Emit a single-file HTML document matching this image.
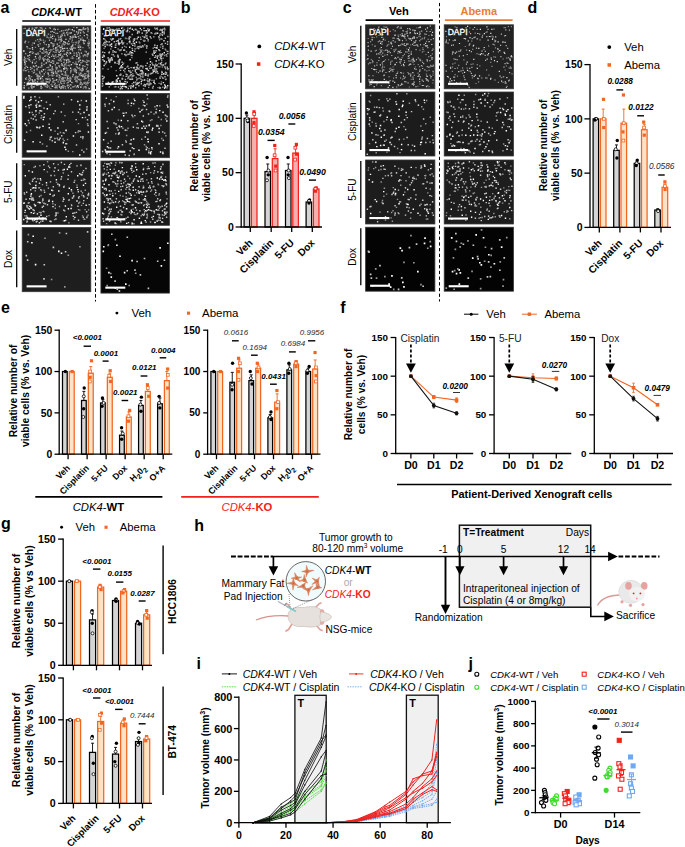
<!DOCTYPE html>
<html><head><meta charset="utf-8"><style>
html,body{margin:0;padding:0;background:#fff;width:685px;height:847px;overflow:hidden}
svg{display:block}
text{font-family:"Liberation Sans", sans-serif}
</style></head><body>
<svg width="685" height="847" viewBox="0 0 685 847" font-family="Liberation Sans, sans-serif">
<rect width="685" height="847" fill="#fff"/>
<text x="0.40" y="12.90" font-size="16" font-weight="bold" font-style="normal" text-anchor="start" fill="#000">a</text>
<text x="56.5" y="15.8" font-size="11" text-anchor="middle" font-weight="bold"><tspan font-weight="bold" font-style="italic">CDK4</tspan>-WT</text>
<text x="134.7" y="15.8" font-size="11" text-anchor="middle" font-weight="bold" fill="#f2211b"><tspan font-weight="bold" font-style="italic">CDK4</tspan>-KO</text>
<line x1="22.30" y1="21.00" x2="90.80" y2="21.00" stroke="#000" stroke-width="1.6"/>
<line x1="100.80" y1="21.00" x2="170.00" y2="21.00" stroke="#f2211b" stroke-width="1.6"/>
<line x1="95.50" y1="4.10" x2="95.50" y2="301.50" stroke="#000" stroke-width="1.0" stroke-dasharray="3.6,2.2"/>
<line x1="16.70" y1="28.90" x2="16.70" y2="85.70" stroke="#000" stroke-width="1.3"/>
<text x="11.90" y="57.30" font-size="10.2" font-weight="normal" font-style="normal" text-anchor="middle" fill="#000" transform="rotate(-90 11.9 57.3)">Veh</text>
<line x1="16.70" y1="96.00" x2="16.70" y2="152.80" stroke="#000" stroke-width="1.3"/>
<text x="11.90" y="124.40" font-size="10.2" font-weight="normal" font-style="normal" text-anchor="middle" fill="#000" transform="rotate(-90 11.9 124.4)">Cisplatin</text>
<line x1="16.70" y1="163.20" x2="16.70" y2="220.00" stroke="#000" stroke-width="1.3"/>
<text x="11.90" y="191.60" font-size="10.2" font-weight="normal" font-style="normal" text-anchor="middle" fill="#000" transform="rotate(-90 11.9 191.6)">5-FU</text>
<line x1="16.70" y1="230.50" x2="16.70" y2="287.30" stroke="#000" stroke-width="1.3"/>
<text x="11.90" y="258.90" font-size="10.2" font-weight="normal" font-style="normal" text-anchor="middle" fill="#000" transform="rotate(-90 11.9 258.9)">Dox</text>
<defs><filter id="soft" x="0" y="0" width="100%" height="100%"><feGaussianBlur stdDeviation="0.35"/></filter></defs>
<rect x="22.20" y="25.90" width="68.60" height="64.20" fill="#262626" stroke="#3a3a3a" stroke-width="0.8"/>
<g filter="url(#soft)">
<path d="M58.6 84.3h1.3v1.3h-1.3zM53.2 44.5h1.3v1.3h-1.3zM78.0 60.8h1.3v1.3h-1.3zM48.8 56.7h1.3v1.3h-1.3zM60.4 39.0h1.3v1.3h-1.3zM39.8 78.3h1.3v1.3h-1.3zM28.5 27.7h1.3v1.3h-1.3zM64.0 47.8h1.3v1.3h-1.3zM24.4 27.8h1.3v1.3h-1.3zM37.7 66.5h1.3v1.3h-1.3zM43.4 84.3h1.3v1.3h-1.3zM80.0 86.4h1.3v1.3h-1.3zM74.4 47.5h1.3v1.3h-1.3zM67.3 78.1h1.3v1.3h-1.3zM82.9 39.8h1.3v1.3h-1.3zM74.8 77.5h1.3v1.3h-1.3zM60.5 40.4h1.3v1.3h-1.3zM81.1 29.2h1.3v1.3h-1.3zM87.6 44.8h1.3v1.3h-1.3zM43.2 41.8h1.3v1.3h-1.3zM61.0 63.2h1.3v1.3h-1.3zM82.3 76.0h1.3v1.3h-1.3zM70.0 67.6h1.3v1.3h-1.3zM50.4 61.7h1.3v1.3h-1.3zM40.0 77.5h1.3v1.3h-1.3zM49.4 64.2h1.3v1.3h-1.3zM65.6 53.6h1.3v1.3h-1.3zM87.5 76.2h1.3v1.3h-1.3zM35.5 53.6h1.3v1.3h-1.3zM79.2 73.8h1.3v1.3h-1.3zM48.2 44.1h1.3v1.3h-1.3zM62.3 80.7h1.3v1.3h-1.3zM63.7 59.2h1.3v1.3h-1.3zM23.2 50.6h1.3v1.3h-1.3zM49.6 79.5h1.3v1.3h-1.3zM71.2 81.7h1.3v1.3h-1.3zM55.4 72.4h1.3v1.3h-1.3zM76.6 63.8h1.3v1.3h-1.3zM35.5 65.1h1.3v1.3h-1.3zM70.8 63.9h1.3v1.3h-1.3zM70.0 48.8h1.3v1.3h-1.3zM76.5 85.8h1.3v1.3h-1.3zM45.5 78.1h1.3v1.3h-1.3zM55.5 49.9h1.3v1.3h-1.3zM30.7 32.3h1.3v1.3h-1.3zM64.9 72.3h1.3v1.3h-1.3zM61.8 48.1h1.3v1.3h-1.3zM59.8 58.7h1.3v1.3h-1.3zM46.2 52.0h1.3v1.3h-1.3zM69.5 80.8h1.3v1.3h-1.3zM75.2 76.2h1.3v1.3h-1.3zM59.6 46.9h1.3v1.3h-1.3zM87.9 70.8h1.3v1.3h-1.3zM47.3 58.6h1.3v1.3h-1.3zM72.2 57.4h1.3v1.3h-1.3zM46.8 84.5h1.3v1.3h-1.3zM47.2 78.7h1.3v1.3h-1.3zM88.6 42.4h1.3v1.3h-1.3zM42.7 69.1h1.3v1.3h-1.3zM49.8 65.3h1.3v1.3h-1.3zM47.5 72.6h1.3v1.3h-1.3zM86.8 70.6h1.3v1.3h-1.3zM85.6 51.2h1.3v1.3h-1.3zM77.8 32.2h1.3v1.3h-1.3zM23.6 87.3h1.3v1.3h-1.3zM55.4 46.9h1.3v1.3h-1.3zM32.3 80.6h1.3v1.3h-1.3zM78.3 78.7h1.3v1.3h-1.3zM48.1 53.7h1.3v1.3h-1.3zM62.5 43.2h1.3v1.3h-1.3zM50.7 83.9h1.3v1.3h-1.3zM55.0 47.6h1.3v1.3h-1.3zM53.3 55.6h1.3v1.3h-1.3zM66.5 47.7h1.3v1.3h-1.3zM65.9 59.6h1.3v1.3h-1.3zM74.2 34.0h1.3v1.3h-1.3zM48.4 61.0h1.3v1.3h-1.3zM54.5 86.7h1.3v1.3h-1.3zM58.1 54.2h1.3v1.3h-1.3zM50.4 37.0h1.3v1.3h-1.3zM39.8 48.1h1.3v1.3h-1.3zM58.3 38.9h1.3v1.3h-1.3zM28.1 74.9h1.3v1.3h-1.3zM61.9 64.4h1.3v1.3h-1.3zM64.6 41.8h1.3v1.3h-1.3zM56.0 79.1h1.3v1.3h-1.3zM29.4 77.6h1.3v1.3h-1.3zM83.7 82.4h1.3v1.3h-1.3zM52.0 85.4h1.3v1.3h-1.3zM87.5 74.3h1.3v1.3h-1.3zM88.2 75.5h1.3v1.3h-1.3zM76.2 26.9h1.3v1.3h-1.3zM79.0 64.0h1.3v1.3h-1.3zM36.0 33.7h1.3v1.3h-1.3zM37.4 83.9h1.3v1.3h-1.3zM67.4 58.8h1.3v1.3h-1.3zM75.9 63.9h1.3v1.3h-1.3zM53.3 79.8h1.3v1.3h-1.3zM36.1 84.2h1.3v1.3h-1.3zM55.7 68.1h1.3v1.3h-1.3zM80.2 72.5h1.3v1.3h-1.3zM59.5 54.4h1.3v1.3h-1.3zM75.2 80.5h1.3v1.3h-1.3zM37.4 44.2h1.3v1.3h-1.3zM39.5 38.6h1.3v1.3h-1.3zM69.7 35.9h1.3v1.3h-1.3zM63.2 41.1h1.3v1.3h-1.3zM34.3 79.2h1.3v1.3h-1.3zM64.2 67.5h1.3v1.3h-1.3zM30.9 84.8h1.3v1.3h-1.3zM44.5 51.4h1.3v1.3h-1.3zM65.3 38.7h1.3v1.3h-1.3zM54.6 28.9h1.3v1.3h-1.3zM60.3 87.8h1.3v1.3h-1.3zM77.8 42.2h1.3v1.3h-1.3zM66.0 61.4h1.3v1.3h-1.3zM63.0 68.1h1.3v1.3h-1.3zM71.7 29.1h1.3v1.3h-1.3zM71.8 36.8h1.3v1.3h-1.3zM51.8 68.9h1.3v1.3h-1.3zM77.7 85.2h1.3v1.3h-1.3zM26.9 66.8h1.3v1.3h-1.3zM34.9 82.6h1.3v1.3h-1.3zM52.1 77.9h1.3v1.3h-1.3zM79.0 28.9h1.3v1.3h-1.3zM87.1 54.3h1.3v1.3h-1.3zM32.6 86.2h1.3v1.3h-1.3zM71.7 45.3h1.3v1.3h-1.3zM77.1 85.0h1.3v1.3h-1.3zM45.6 48.9h1.3v1.3h-1.3zM66.4 51.8h1.3v1.3h-1.3zM63.2 50.3h1.3v1.3h-1.3zM29.1 51.7h1.3v1.3h-1.3zM33.4 86.2h1.3v1.3h-1.3zM75.1 69.7h1.3v1.3h-1.3zM79.5 69.3h1.3v1.3h-1.3zM57.4 62.5h1.3v1.3h-1.3zM51.7 35.8h1.3v1.3h-1.3zM87.4 53.1h1.3v1.3h-1.3zM67.3 84.6h1.3v1.3h-1.3zM79.9 49.3h1.3v1.3h-1.3zM41.2 64.7h1.3v1.3h-1.3zM40.6 87.7h1.3v1.3h-1.3zM43.1 30.6h1.3v1.3h-1.3zM40.0 78.1h1.3v1.3h-1.3zM58.6 45.3h1.3v1.3h-1.3zM88.6 87.9h1.3v1.3h-1.3zM52.3 71.4h1.3v1.3h-1.3zM27.3 55.0h1.3v1.3h-1.3zM40.5 85.6h1.3v1.3h-1.3zM79.9 32.2h1.3v1.3h-1.3zM31.8 62.1h1.3v1.3h-1.3zM80.0 46.4h1.3v1.3h-1.3zM31.7 79.2h1.3v1.3h-1.3zM52.8 72.7h1.3v1.3h-1.3zM27.8 29.5h1.3v1.3h-1.3zM43.2 59.6h1.3v1.3h-1.3zM62.6 87.3h1.3v1.3h-1.3zM77.6 46.5h1.3v1.3h-1.3zM74.6 35.7h1.3v1.3h-1.3zM33.6 42.6h1.3v1.3h-1.3zM82.7 39.6h1.3v1.3h-1.3zM57.4 70.5h1.3v1.3h-1.3zM52.7 45.3h1.3v1.3h-1.3zM80.1 38.5h1.3v1.3h-1.3zM35.8 27.2h1.3v1.3h-1.3zM34.8 56.1h1.3v1.3h-1.3zM82.2 39.5h1.3v1.3h-1.3zM26.4 46.1h1.3v1.3h-1.3zM75.9 31.3h1.3v1.3h-1.3zM81.4 68.2h1.3v1.3h-1.3zM64.8 74.4h1.3v1.3h-1.3zM76.1 55.6h1.3v1.3h-1.3zM63.6 68.5h1.3v1.3h-1.3zM56.6 43.4h1.3v1.3h-1.3zM72.3 36.6h1.3v1.3h-1.3zM77.9 57.9h1.3v1.3h-1.3zM72.2 44.2h1.3v1.3h-1.3zM69.5 80.0h1.3v1.3h-1.3zM41.8 48.7h1.3v1.3h-1.3zM81.2 69.9h1.3v1.3h-1.3zM60.8 86.2h1.3v1.3h-1.3zM79.5 83.4h1.3v1.3h-1.3zM41.3 70.9h1.3v1.3h-1.3zM83.5 42.9h1.3v1.3h-1.3zM70.7 45.9h1.3v1.3h-1.3zM82.5 69.3h1.3v1.3h-1.3zM61.4 73.4h1.3v1.3h-1.3zM81.0 74.9h1.3v1.3h-1.3zM60.5 71.0h1.3v1.3h-1.3zM82.1 67.4h1.3v1.3h-1.3zM75.8 72.0h1.3v1.3h-1.3zM87.1 64.3h1.3v1.3h-1.3zM84.2 76.3h1.3v1.3h-1.3zM24.0 62.0h1.3v1.3h-1.3zM30.7 85.8h1.3v1.3h-1.3zM69.6 32.5h1.3v1.3h-1.3zM42.4 58.3h1.3v1.3h-1.3zM36.7 78.0h1.3v1.3h-1.3zM66.8 77.2h1.3v1.3h-1.3zM75.4 36.6h1.3v1.3h-1.3zM78.0 46.7h1.3v1.3h-1.3zM60.2 35.9h1.3v1.3h-1.3zM83.7 82.0h1.3v1.3h-1.3zM75.5 69.5h1.3v1.3h-1.3zM72.6 74.1h1.3v1.3h-1.3zM31.8 47.1h1.3v1.3h-1.3zM42.0 75.7h1.3v1.3h-1.3zM61.3 86.3h1.3v1.3h-1.3zM36.8 75.3h1.3v1.3h-1.3zM33.8 29.1h1.3v1.3h-1.3zM28.8 75.5h1.3v1.3h-1.3zM85.3 87.2h1.3v1.3h-1.3zM33.6 69.4h1.3v1.3h-1.3zM74.3 68.4h1.3v1.3h-1.3zM49.0 52.1h1.3v1.3h-1.3zM29.0 54.4h1.3v1.3h-1.3zM32.7 65.5h1.3v1.3h-1.3zM79.5 59.6h1.3v1.3h-1.3zM79.7 29.2h1.3v1.3h-1.3zM54.9 38.6h1.3v1.3h-1.3zM36.4 68.5h1.3v1.3h-1.3zM71.7 49.2h1.3v1.3h-1.3zM59.9 50.7h1.3v1.3h-1.3zM66.6 55.3h1.3v1.3h-1.3zM51.6 85.7h1.3v1.3h-1.3zM28.8 59.1h1.3v1.3h-1.3zM58.5 51.8h1.3v1.3h-1.3zM58.7 75.2h1.3v1.3h-1.3zM33.1 34.8h1.3v1.3h-1.3zM70.1 70.5h1.3v1.3h-1.3zM46.4 81.4h1.3v1.3h-1.3zM71.4 47.9h1.3v1.3h-1.3zM61.1 30.2h1.3v1.3h-1.3zM39.3 55.4h1.3v1.3h-1.3zM69.4 38.3h1.3v1.3h-1.3zM69.9 52.7h1.3v1.3h-1.3zM53.4 31.8h1.3v1.3h-1.3zM37.5 83.2h1.3v1.3h-1.3z" fill="rgb(210,210,210)"/>
<path d="M24.9 77.9h1.3v1.3h-1.3zM37.6 53.5h1.3v1.3h-1.3zM69.7 84.1h1.3v1.3h-1.3zM77.5 67.8h1.3v1.3h-1.3zM56.2 62.8h1.3v1.3h-1.3zM38.9 75.6h1.3v1.3h-1.3zM67.3 49.7h1.3v1.3h-1.3zM56.4 74.4h1.3v1.3h-1.3zM56.0 86.9h1.3v1.3h-1.3zM53.2 43.2h1.3v1.3h-1.3zM58.4 64.9h1.3v1.3h-1.3zM53.1 28.4h1.3v1.3h-1.3zM33.5 59.0h1.3v1.3h-1.3zM40.9 70.3h1.3v1.3h-1.3zM44.2 55.7h1.3v1.3h-1.3zM70.2 36.5h1.3v1.3h-1.3zM87.1 75.6h1.3v1.3h-1.3zM60.8 46.4h1.3v1.3h-1.3zM50.3 42.2h1.3v1.3h-1.3zM86.2 61.7h1.3v1.3h-1.3zM56.4 49.9h1.3v1.3h-1.3zM42.5 57.3h1.3v1.3h-1.3zM80.3 81.9h1.3v1.3h-1.3zM45.6 80.8h1.3v1.3h-1.3zM54.8 87.1h1.3v1.3h-1.3zM70.7 31.9h1.3v1.3h-1.3zM62.4 78.3h1.3v1.3h-1.3zM62.7 85.2h1.3v1.3h-1.3zM87.9 52.5h1.3v1.3h-1.3zM29.8 82.5h1.3v1.3h-1.3zM86.7 82.4h1.3v1.3h-1.3zM52.6 45.9h1.3v1.3h-1.3zM66.5 42.6h1.3v1.3h-1.3zM48.7 45.5h1.3v1.3h-1.3zM42.9 47.2h1.3v1.3h-1.3zM24.3 41.6h1.3v1.3h-1.3zM55.4 79.6h1.3v1.3h-1.3zM55.9 75.4h1.3v1.3h-1.3zM42.3 81.5h1.3v1.3h-1.3zM82.8 28.6h1.3v1.3h-1.3zM59.1 59.9h1.3v1.3h-1.3zM23.5 59.1h1.3v1.3h-1.3zM54.5 40.5h1.3v1.3h-1.3zM59.8 82.3h1.3v1.3h-1.3zM41.1 66.3h1.3v1.3h-1.3zM62.1 79.2h1.3v1.3h-1.3zM86.1 61.7h1.3v1.3h-1.3zM70.1 48.0h1.3v1.3h-1.3zM33.8 71.4h1.3v1.3h-1.3zM83.7 86.2h1.3v1.3h-1.3zM86.0 34.0h1.3v1.3h-1.3zM39.3 72.6h1.3v1.3h-1.3zM64.2 63.8h1.3v1.3h-1.3zM41.0 62.6h1.3v1.3h-1.3zM87.0 60.1h1.3v1.3h-1.3zM58.8 85.9h1.3v1.3h-1.3zM46.4 59.1h1.3v1.3h-1.3zM52.1 54.3h1.3v1.3h-1.3zM55.3 66.4h1.3v1.3h-1.3zM77.8 51.8h1.3v1.3h-1.3zM74.4 78.6h1.3v1.3h-1.3zM56.5 72.4h1.3v1.3h-1.3zM49.4 68.9h1.3v1.3h-1.3zM69.9 76.7h1.3v1.3h-1.3zM63.1 40.9h1.3v1.3h-1.3zM69.4 78.4h1.3v1.3h-1.3zM51.4 73.4h1.3v1.3h-1.3zM55.3 32.8h1.3v1.3h-1.3zM79.3 46.3h1.3v1.3h-1.3zM61.1 83.0h1.3v1.3h-1.3zM83.0 27.6h1.3v1.3h-1.3zM78.2 29.3h1.3v1.3h-1.3zM64.5 86.1h1.3v1.3h-1.3zM80.8 52.7h1.3v1.3h-1.3zM76.4 55.5h1.3v1.3h-1.3zM87.7 29.2h1.3v1.3h-1.3zM71.1 45.9h1.3v1.3h-1.3zM74.5 85.3h1.3v1.3h-1.3zM29.9 66.7h1.3v1.3h-1.3zM45.7 61.9h1.3v1.3h-1.3zM76.5 66.6h1.3v1.3h-1.3zM42.6 48.3h1.3v1.3h-1.3zM32.8 82.8h1.3v1.3h-1.3zM54.5 82.7h1.3v1.3h-1.3zM83.6 75.8h1.3v1.3h-1.3zM34.4 79.5h1.3v1.3h-1.3zM79.9 81.4h1.3v1.3h-1.3zM75.4 71.2h1.3v1.3h-1.3zM75.3 62.5h1.3v1.3h-1.3zM72.1 86.2h1.3v1.3h-1.3zM60.6 60.5h1.3v1.3h-1.3zM58.6 76.9h1.3v1.3h-1.3zM59.1 86.6h1.3v1.3h-1.3zM60.2 49.3h1.3v1.3h-1.3zM82.0 83.4h1.3v1.3h-1.3zM54.9 70.6h1.3v1.3h-1.3zM88.4 60.4h1.3v1.3h-1.3zM67.1 34.0h1.3v1.3h-1.3zM48.4 82.2h1.3v1.3h-1.3zM88.2 44.4h1.3v1.3h-1.3zM81.8 60.1h1.3v1.3h-1.3zM72.9 47.4h1.3v1.3h-1.3zM58.5 53.7h1.3v1.3h-1.3zM69.4 51.9h1.3v1.3h-1.3zM47.2 55.5h1.3v1.3h-1.3zM76.3 81.3h1.3v1.3h-1.3zM68.0 40.6h1.3v1.3h-1.3zM60.3 80.9h1.3v1.3h-1.3zM67.7 87.1h1.3v1.3h-1.3zM84.3 65.8h1.3v1.3h-1.3zM67.7 43.5h1.3v1.3h-1.3zM67.6 64.7h1.3v1.3h-1.3zM39.5 43.3h1.3v1.3h-1.3zM68.0 28.6h1.3v1.3h-1.3zM75.5 63.7h1.3v1.3h-1.3zM85.6 83.1h1.3v1.3h-1.3zM25.5 69.9h1.3v1.3h-1.3zM87.6 82.4h1.3v1.3h-1.3zM73.7 30.1h1.3v1.3h-1.3zM70.1 32.8h1.3v1.3h-1.3zM51.9 59.9h1.3v1.3h-1.3zM83.9 78.2h1.3v1.3h-1.3zM47.7 33.4h1.3v1.3h-1.3zM85.2 27.9h1.3v1.3h-1.3zM64.6 71.8h1.3v1.3h-1.3zM34.5 62.6h1.3v1.3h-1.3zM70.6 69.6h1.3v1.3h-1.3zM23.8 85.3h1.3v1.3h-1.3zM41.3 52.2h1.3v1.3h-1.3zM71.0 47.3h1.3v1.3h-1.3zM80.3 62.1h1.3v1.3h-1.3zM72.0 50.2h1.3v1.3h-1.3zM61.8 34.6h1.3v1.3h-1.3zM46.4 78.1h1.3v1.3h-1.3zM83.7 34.9h1.3v1.3h-1.3zM39.7 26.9h1.3v1.3h-1.3zM54.7 64.3h1.3v1.3h-1.3zM73.5 52.5h1.3v1.3h-1.3zM59.8 54.5h1.3v1.3h-1.3zM67.6 29.3h1.3v1.3h-1.3zM41.8 29.3h1.3v1.3h-1.3zM53.9 84.0h1.3v1.3h-1.3zM61.7 46.2h1.3v1.3h-1.3zM61.7 78.9h1.3v1.3h-1.3zM23.9 82.0h1.3v1.3h-1.3zM47.2 60.5h1.3v1.3h-1.3zM61.3 56.4h1.3v1.3h-1.3zM40.4 86.1h1.3v1.3h-1.3zM40.3 39.6h1.3v1.3h-1.3zM80.4 86.5h1.3v1.3h-1.3zM79.5 34.9h1.3v1.3h-1.3zM45.0 85.8h1.3v1.3h-1.3zM87.5 28.7h1.3v1.3h-1.3zM51.0 55.8h1.3v1.3h-1.3zM66.7 85.1h1.3v1.3h-1.3zM69.5 47.8h1.3v1.3h-1.3zM50.6 69.7h1.3v1.3h-1.3zM85.5 77.7h1.3v1.3h-1.3zM43.4 63.8h1.3v1.3h-1.3zM53.1 81.4h1.3v1.3h-1.3zM51.7 66.1h1.3v1.3h-1.3zM71.8 45.5h1.3v1.3h-1.3zM80.2 39.5h1.3v1.3h-1.3zM30.9 87.3h1.3v1.3h-1.3zM42.3 52.5h1.3v1.3h-1.3zM63.6 65.3h1.3v1.3h-1.3zM48.9 39.6h1.3v1.3h-1.3zM41.1 27.4h1.3v1.3h-1.3zM88.0 42.9h1.3v1.3h-1.3zM87.3 30.9h1.3v1.3h-1.3zM44.9 27.8h1.3v1.3h-1.3zM36.9 39.0h1.3v1.3h-1.3zM36.8 81.1h1.3v1.3h-1.3zM49.7 27.7h1.3v1.3h-1.3zM34.6 82.2h1.3v1.3h-1.3zM77.7 35.9h1.3v1.3h-1.3zM41.8 47.8h1.3v1.3h-1.3zM52.1 75.3h1.3v1.3h-1.3zM50.8 41.9h1.3v1.3h-1.3zM63.4 79.7h1.3v1.3h-1.3zM80.6 82.5h1.3v1.3h-1.3zM84.2 73.0h1.3v1.3h-1.3zM53.0 48.3h1.3v1.3h-1.3zM64.2 35.0h1.3v1.3h-1.3zM87.7 71.2h1.3v1.3h-1.3zM80.2 79.3h1.3v1.3h-1.3zM26.2 84.4h1.3v1.3h-1.3zM23.4 32.7h1.3v1.3h-1.3zM47.2 81.3h1.3v1.3h-1.3zM38.0 45.8h1.3v1.3h-1.3zM82.2 59.8h1.3v1.3h-1.3zM60.8 78.1h1.3v1.3h-1.3zM50.3 31.1h1.3v1.3h-1.3zM66.3 79.4h1.3v1.3h-1.3zM64.6 29.7h1.3v1.3h-1.3zM83.9 40.0h1.3v1.3h-1.3zM46.1 51.0h1.3v1.3h-1.3zM60.3 80.3h1.3v1.3h-1.3zM39.0 71.5h1.3v1.3h-1.3zM23.9 60.6h1.3v1.3h-1.3zM46.5 36.6h1.3v1.3h-1.3zM86.7 37.3h1.3v1.3h-1.3zM53.1 60.5h1.3v1.3h-1.3zM23.4 86.9h1.3v1.3h-1.3zM48.0 66.8h1.3v1.3h-1.3zM63.6 53.6h1.3v1.3h-1.3zM52.1 37.9h1.3v1.3h-1.3zM83.0 74.3h1.3v1.3h-1.3zM52.0 81.2h1.3v1.3h-1.3zM53.6 57.8h1.3v1.3h-1.3zM37.8 76.4h1.3v1.3h-1.3zM47.6 46.4h1.3v1.3h-1.3zM23.9 56.6h1.3v1.3h-1.3zM43.6 72.9h1.3v1.3h-1.3zM64.8 71.1h1.3v1.3h-1.3zM49.1 69.5h1.3v1.3h-1.3zM86.1 63.7h1.3v1.3h-1.3zM72.5 35.5h1.3v1.3h-1.3zM58.6 65.8h1.3v1.3h-1.3zM86.6 34.0h1.3v1.3h-1.3zM32.0 48.7h1.3v1.3h-1.3zM38.4 57.2h1.3v1.3h-1.3zM83.6 32.2h1.3v1.3h-1.3zM60.1 35.5h1.3v1.3h-1.3zM32.1 81.5h1.3v1.3h-1.3zM82.7 27.0h1.3v1.3h-1.3zM75.4 76.6h1.3v1.3h-1.3zM30.2 51.2h1.3v1.3h-1.3zM70.2 87.6h1.3v1.3h-1.3zM65.8 67.6h1.3v1.3h-1.3zM50.0 49.3h1.3v1.3h-1.3zM24.4 67.7h1.3v1.3h-1.3zM76.6 76.9h1.3v1.3h-1.3zM51.3 74.9h1.3v1.3h-1.3zM62.6 32.6h1.3v1.3h-1.3zM57.4 56.0h1.3v1.3h-1.3zM51.8 30.8h1.3v1.3h-1.3zM29.9 82.3h1.3v1.3h-1.3zM66.0 32.1h1.3v1.3h-1.3zM63.2 61.9h1.3v1.3h-1.3zM52.9 62.6h1.3v1.3h-1.3zM56.5 67.1h1.3v1.3h-1.3zM66.8 52.1h1.3v1.3h-1.3zM62.2 56.0h1.3v1.3h-1.3zM86.9 81.4h1.3v1.3h-1.3zM84.0 54.1h1.3v1.3h-1.3zM25.8 60.7h1.3v1.3h-1.3zM74.6 36.6h1.3v1.3h-1.3zM68.3 61.2h1.3v1.3h-1.3zM24.4 64.1h1.3v1.3h-1.3zM64.8 77.2h1.3v1.3h-1.3zM82.0 74.6h1.3v1.3h-1.3zM73.5 54.7h1.3v1.3h-1.3zM81.2 69.7h1.3v1.3h-1.3zM56.9 32.7h1.3v1.3h-1.3zM65.3 63.2h1.3v1.3h-1.3zM24.8 62.4h1.3v1.3h-1.3zM73.3 86.2h1.3v1.3h-1.3zM78.3 41.0h1.3v1.3h-1.3zM67.2 81.9h1.3v1.3h-1.3zM63.1 48.0h1.3v1.3h-1.3zM78.9 79.2h1.3v1.3h-1.3zM64.2 80.4h1.3v1.3h-1.3zM79.1 64.8h1.3v1.3h-1.3zM37.2 75.1h1.3v1.3h-1.3zM23.6 85.1h1.3v1.3h-1.3zM82.5 64.9h1.3v1.3h-1.3zM24.9 40.6h1.3v1.3h-1.3zM32.1 27.7h1.3v1.3h-1.3zM57.8 59.4h1.3v1.3h-1.3zM62.0 77.7h1.3v1.3h-1.3zM60.4 38.4h1.3v1.3h-1.3zM78.1 29.1h1.3v1.3h-1.3zM60.2 49.8h1.3v1.3h-1.3zM30.0 68.8h1.3v1.3h-1.3zM85.0 54.6h1.3v1.3h-1.3zM61.7 73.7h1.3v1.3h-1.3zM64.1 67.3h1.3v1.3h-1.3zM71.6 37.1h1.3v1.3h-1.3zM77.8 61.2h1.3v1.3h-1.3zM84.3 28.8h1.3v1.3h-1.3zM24.5 58.1h1.3v1.3h-1.3zM37.6 84.2h1.3v1.3h-1.3zM86.8 53.5h1.3v1.3h-1.3zM24.3 67.0h1.3v1.3h-1.3zM75.6 42.2h1.3v1.3h-1.3zM76.9 33.5h1.3v1.3h-1.3zM48.3 37.3h1.3v1.3h-1.3zM71.7 39.4h1.3v1.3h-1.3zM51.6 43.0h1.3v1.3h-1.3zM70.3 78.3h1.3v1.3h-1.3zM36.4 84.7h1.3v1.3h-1.3zM63.5 82.6h1.3v1.3h-1.3zM83.3 60.8h1.3v1.3h-1.3zM34.6 27.2h1.3v1.3h-1.3zM29.9 50.9h1.3v1.3h-1.3zM24.7 70.0h1.3v1.3h-1.3zM50.8 71.8h1.3v1.3h-1.3zM84.0 76.2h1.3v1.3h-1.3zM63.2 77.2h1.3v1.3h-1.3zM87.2 42.4h1.3v1.3h-1.3zM64.6 43.2h1.3v1.3h-1.3zM39.8 27.2h1.3v1.3h-1.3zM67.1 75.5h1.3v1.3h-1.3zM28.7 80.1h1.3v1.3h-1.3zM85.2 74.8h1.3v1.3h-1.3zM81.2 84.3h1.3v1.3h-1.3zM67.2 43.5h1.3v1.3h-1.3zM31.4 67.7h1.3v1.3h-1.3zM28.9 75.7h1.3v1.3h-1.3zM37.4 52.8h1.3v1.3h-1.3zM82.7 31.2h1.3v1.3h-1.3zM45.5 62.8h1.3v1.3h-1.3zM78.5 40.4h1.3v1.3h-1.3zM45.7 44.0h1.3v1.3h-1.3zM62.1 85.0h1.3v1.3h-1.3zM55.4 51.8h1.3v1.3h-1.3zM39.5 66.4h1.3v1.3h-1.3zM60.8 57.2h1.3v1.3h-1.3zM84.8 77.8h1.3v1.3h-1.3zM57.4 45.4h1.3v1.3h-1.3zM57.2 28.7h1.3v1.3h-1.3zM72.0 76.0h1.3v1.3h-1.3zM88.6 47.2h1.3v1.3h-1.3zM55.0 39.2h1.3v1.3h-1.3zM37.3 74.4h1.3v1.3h-1.3zM23.2 50.1h1.3v1.3h-1.3zM57.9 71.0h1.3v1.3h-1.3zM49.7 27.8h1.3v1.3h-1.3zM79.0 67.4h1.3v1.3h-1.3zM62.1 77.0h1.3v1.3h-1.3zM33.7 66.3h1.3v1.3h-1.3zM47.7 73.8h1.3v1.3h-1.3zM70.3 84.3h1.3v1.3h-1.3zM63.6 44.3h1.3v1.3h-1.3zM79.3 56.3h1.3v1.3h-1.3zM61.1 35.4h1.3v1.3h-1.3zM74.5 76.7h1.3v1.3h-1.3zM48.7 81.2h1.3v1.3h-1.3zM60.3 69.9h1.3v1.3h-1.3zM80.4 29.9h1.3v1.3h-1.3zM29.3 48.0h1.3v1.3h-1.3zM76.2 79.8h1.3v1.3h-1.3zM30.9 86.3h1.3v1.3h-1.3zM35.7 73.6h1.3v1.3h-1.3zM59.0 85.9h1.3v1.3h-1.3zM72.4 61.9h1.3v1.3h-1.3zM60.2 53.3h1.3v1.3h-1.3zM78.0 56.9h1.3v1.3h-1.3zM25.3 78.6h1.3v1.3h-1.3zM77.3 76.0h1.3v1.3h-1.3zM46.6 86.6h1.3v1.3h-1.3zM84.6 40.1h1.3v1.3h-1.3zM57.5 81.3h1.3v1.3h-1.3zM23.8 87.3h1.3v1.3h-1.3zM48.3 45.4h1.3v1.3h-1.3zM74.3 70.1h1.3v1.3h-1.3zM31.4 28.7h1.3v1.3h-1.3zM40.9 27.2h1.3v1.3h-1.3zM31.8 52.8h1.3v1.3h-1.3zM87.0 27.2h1.3v1.3h-1.3zM78.8 57.3h1.3v1.3h-1.3zM28.2 87.4h1.3v1.3h-1.3zM37.6 78.9h1.3v1.3h-1.3zM36.4 75.4h1.3v1.3h-1.3zM75.1 70.0h1.3v1.3h-1.3zM29.7 79.3h1.3v1.3h-1.3zM39.5 50.7h1.3v1.3h-1.3zM44.4 58.4h1.3v1.3h-1.3zM27.6 81.5h1.3v1.3h-1.3zM69.4 60.9h1.3v1.3h-1.3zM55.4 86.0h1.3v1.3h-1.3zM31.5 87.4h1.3v1.3h-1.3zM59.7 36.8h1.3v1.3h-1.3zM66.1 79.4h1.3v1.3h-1.3zM25.5 65.7h1.3v1.3h-1.3zM43.2 50.3h1.3v1.3h-1.3zM30.9 85.1h1.3v1.3h-1.3zM85.1 86.0h1.3v1.3h-1.3zM86.6 71.0h1.3v1.3h-1.3zM67.0 34.1h1.3v1.3h-1.3zM77.7 86.6h1.3v1.3h-1.3zM61.2 39.7h1.3v1.3h-1.3zM51.5 67.7h1.3v1.3h-1.3zM67.8 81.5h1.3v1.3h-1.3zM82.9 41.9h1.3v1.3h-1.3zM69.5 77.2h1.3v1.3h-1.3zM25.0 53.0h1.3v1.3h-1.3zM32.8 72.2h1.3v1.3h-1.3z" fill="rgb(165,165,165)"/>
<path d="M39.8 57.1h1.3v1.3h-1.3zM65.8 75.0h1.3v1.3h-1.3zM73.1 26.8h1.3v1.3h-1.3zM82.2 28.6h1.3v1.3h-1.3zM37.2 52.6h1.3v1.3h-1.3zM38.3 40.9h1.3v1.3h-1.3zM61.6 80.8h1.3v1.3h-1.3zM62.0 50.8h1.3v1.3h-1.3zM58.5 79.4h1.3v1.3h-1.3zM56.8 85.1h1.3v1.3h-1.3zM76.9 81.0h1.3v1.3h-1.3zM76.2 58.5h1.3v1.3h-1.3zM54.9 48.6h1.3v1.3h-1.3zM75.5 75.6h1.3v1.3h-1.3zM72.6 42.0h1.3v1.3h-1.3zM48.4 52.5h1.3v1.3h-1.3zM30.1 81.9h1.3v1.3h-1.3zM67.6 60.1h1.3v1.3h-1.3zM36.5 68.0h1.3v1.3h-1.3zM31.9 60.5h1.3v1.3h-1.3zM63.4 74.6h1.3v1.3h-1.3zM40.5 81.3h1.3v1.3h-1.3zM83.8 54.8h1.3v1.3h-1.3zM74.7 77.4h1.3v1.3h-1.3zM67.0 32.3h1.3v1.3h-1.3zM39.6 55.9h1.3v1.3h-1.3zM65.8 29.1h1.3v1.3h-1.3zM87.4 60.0h1.3v1.3h-1.3zM41.4 87.0h1.3v1.3h-1.3zM59.2 31.0h1.3v1.3h-1.3zM87.7 77.1h1.3v1.3h-1.3zM78.2 72.4h1.3v1.3h-1.3zM34.7 53.2h1.3v1.3h-1.3zM52.8 51.0h1.3v1.3h-1.3zM46.3 35.2h1.3v1.3h-1.3zM71.1 41.3h1.3v1.3h-1.3zM47.4 69.7h1.3v1.3h-1.3zM72.8 29.9h1.3v1.3h-1.3zM66.3 69.6h1.3v1.3h-1.3zM75.7 53.2h1.3v1.3h-1.3zM49.8 33.9h1.3v1.3h-1.3zM67.9 75.2h1.3v1.3h-1.3zM87.0 35.1h1.3v1.3h-1.3zM60.6 45.8h1.3v1.3h-1.3zM49.2 74.7h1.3v1.3h-1.3zM36.4 26.9h1.3v1.3h-1.3zM56.6 87.2h1.3v1.3h-1.3zM87.9 45.4h1.3v1.3h-1.3zM65.6 65.3h1.3v1.3h-1.3zM54.8 55.3h1.3v1.3h-1.3zM46.3 67.0h1.3v1.3h-1.3zM56.3 84.7h1.3v1.3h-1.3zM57.4 49.3h1.3v1.3h-1.3zM71.4 37.0h1.3v1.3h-1.3zM82.1 64.9h1.3v1.3h-1.3zM57.6 35.2h1.3v1.3h-1.3zM38.8 70.7h1.3v1.3h-1.3zM68.5 32.5h1.3v1.3h-1.3zM38.2 77.0h1.3v1.3h-1.3zM80.8 73.2h1.3v1.3h-1.3zM66.7 30.2h1.3v1.3h-1.3zM82.5 28.9h1.3v1.3h-1.3zM78.6 67.3h1.3v1.3h-1.3zM69.9 72.3h1.3v1.3h-1.3zM79.0 29.9h1.3v1.3h-1.3zM52.1 34.6h1.3v1.3h-1.3zM28.6 28.8h1.3v1.3h-1.3zM43.0 52.7h1.3v1.3h-1.3zM77.6 44.6h1.3v1.3h-1.3zM86.7 76.7h1.3v1.3h-1.3zM74.5 69.8h1.3v1.3h-1.3zM58.0 37.0h1.3v1.3h-1.3zM64.5 59.0h1.3v1.3h-1.3zM27.8 78.8h1.3v1.3h-1.3zM41.6 81.3h1.3v1.3h-1.3zM72.1 73.9h1.3v1.3h-1.3zM78.9 54.8h1.3v1.3h-1.3zM42.8 57.7h1.3v1.3h-1.3zM64.8 87.7h1.3v1.3h-1.3zM84.5 81.6h1.3v1.3h-1.3zM45.1 54.7h1.3v1.3h-1.3zM46.3 52.2h1.3v1.3h-1.3zM68.4 53.3h1.3v1.3h-1.3zM31.5 85.9h1.3v1.3h-1.3zM24.7 42.2h1.3v1.3h-1.3zM29.8 60.6h1.3v1.3h-1.3zM79.4 74.9h1.3v1.3h-1.3zM30.6 79.0h1.3v1.3h-1.3zM83.8 86.1h1.3v1.3h-1.3zM78.3 40.7h1.3v1.3h-1.3zM35.8 61.1h1.3v1.3h-1.3zM86.1 59.4h1.3v1.3h-1.3zM32.8 52.1h1.3v1.3h-1.3zM68.7 43.1h1.3v1.3h-1.3zM68.6 59.5h1.3v1.3h-1.3zM44.4 69.0h1.3v1.3h-1.3zM32.2 42.4h1.3v1.3h-1.3zM58.4 69.8h1.3v1.3h-1.3zM23.3 27.9h1.3v1.3h-1.3zM63.4 31.9h1.3v1.3h-1.3zM62.5 58.5h1.3v1.3h-1.3zM73.6 68.5h1.3v1.3h-1.3zM28.1 71.1h1.3v1.3h-1.3zM43.8 43.2h1.3v1.3h-1.3zM44.1 84.9h1.3v1.3h-1.3zM75.8 66.0h1.3v1.3h-1.3zM62.8 80.1h1.3v1.3h-1.3zM60.1 59.5h1.3v1.3h-1.3zM82.0 65.5h1.3v1.3h-1.3zM26.5 57.9h1.3v1.3h-1.3zM37.1 53.3h1.3v1.3h-1.3zM54.1 51.4h1.3v1.3h-1.3zM47.5 66.8h1.3v1.3h-1.3zM58.8 78.4h1.3v1.3h-1.3zM53.2 74.5h1.3v1.3h-1.3zM62.8 30.0h1.3v1.3h-1.3zM25.8 33.5h1.3v1.3h-1.3zM56.4 48.5h1.3v1.3h-1.3zM75.7 76.9h1.3v1.3h-1.3zM76.1 41.4h1.3v1.3h-1.3zM52.0 69.6h1.3v1.3h-1.3zM81.6 37.3h1.3v1.3h-1.3zM48.2 77.8h1.3v1.3h-1.3zM86.7 67.0h1.3v1.3h-1.3zM73.8 71.0h1.3v1.3h-1.3zM66.8 75.6h1.3v1.3h-1.3zM58.3 50.7h1.3v1.3h-1.3zM75.8 86.9h1.3v1.3h-1.3zM87.8 70.1h1.3v1.3h-1.3zM78.5 74.5h1.3v1.3h-1.3zM53.7 35.8h1.3v1.3h-1.3zM27.9 41.5h1.3v1.3h-1.3zM69.6 48.0h1.3v1.3h-1.3zM28.8 77.4h1.3v1.3h-1.3zM69.5 76.9h1.3v1.3h-1.3zM36.2 73.5h1.3v1.3h-1.3zM64.9 67.9h1.3v1.3h-1.3zM37.1 77.1h1.3v1.3h-1.3zM35.5 57.9h1.3v1.3h-1.3zM82.5 54.8h1.3v1.3h-1.3zM88.1 77.9h1.3v1.3h-1.3zM82.8 55.9h1.3v1.3h-1.3zM79.8 75.0h1.3v1.3h-1.3zM50.3 87.9h1.3v1.3h-1.3zM60.8 33.7h1.3v1.3h-1.3zM78.7 54.1h1.3v1.3h-1.3zM60.7 64.6h1.3v1.3h-1.3zM34.2 84.1h1.3v1.3h-1.3zM54.6 71.9h1.3v1.3h-1.3zM46.9 72.5h1.3v1.3h-1.3zM61.5 34.2h1.3v1.3h-1.3zM28.6 76.8h1.3v1.3h-1.3zM57.7 39.5h1.3v1.3h-1.3zM55.2 49.5h1.3v1.3h-1.3zM65.9 38.7h1.3v1.3h-1.3zM59.2 57.4h1.3v1.3h-1.3zM67.7 62.0h1.3v1.3h-1.3zM68.7 65.1h1.3v1.3h-1.3zM56.1 61.9h1.3v1.3h-1.3zM88.0 72.3h1.3v1.3h-1.3zM23.1 69.9h1.3v1.3h-1.3zM56.7 46.2h1.3v1.3h-1.3zM61.3 44.6h1.3v1.3h-1.3zM28.7 56.9h1.3v1.3h-1.3zM59.2 42.1h1.3v1.3h-1.3zM65.1 73.4h1.3v1.3h-1.3zM52.8 80.3h1.3v1.3h-1.3zM54.0 27.7h1.3v1.3h-1.3zM83.2 78.5h1.3v1.3h-1.3zM46.4 85.7h1.3v1.3h-1.3zM61.2 55.8h1.3v1.3h-1.3zM46.4 53.2h1.3v1.3h-1.3zM36.5 73.5h1.3v1.3h-1.3zM67.5 79.9h1.3v1.3h-1.3zM87.7 27.8h1.3v1.3h-1.3zM47.1 61.0h1.3v1.3h-1.3zM81.5 61.8h1.3v1.3h-1.3zM34.8 46.8h1.3v1.3h-1.3zM55.0 85.0h1.3v1.3h-1.3zM60.4 69.6h1.3v1.3h-1.3zM75.2 61.2h1.3v1.3h-1.3zM87.9 87.6h1.3v1.3h-1.3zM40.2 87.5h1.3v1.3h-1.3zM43.2 60.7h1.3v1.3h-1.3zM63.4 85.3h1.3v1.3h-1.3zM74.7 44.0h1.3v1.3h-1.3zM70.4 32.7h1.3v1.3h-1.3zM59.6 75.7h1.3v1.3h-1.3zM71.7 56.0h1.3v1.3h-1.3zM52.8 80.5h1.3v1.3h-1.3zM55.2 54.0h1.3v1.3h-1.3zM58.4 59.6h1.3v1.3h-1.3zM61.9 55.1h1.3v1.3h-1.3zM48.9 59.6h1.3v1.3h-1.3zM79.1 44.4h1.3v1.3h-1.3zM78.2 40.3h1.3v1.3h-1.3zM86.9 84.5h1.3v1.3h-1.3zM27.3 55.8h1.3v1.3h-1.3zM81.3 70.8h1.3v1.3h-1.3zM25.8 76.9h1.3v1.3h-1.3zM63.5 61.5h1.3v1.3h-1.3zM82.5 74.5h1.3v1.3h-1.3zM78.3 41.7h1.3v1.3h-1.3zM31.5 44.4h1.3v1.3h-1.3zM82.9 41.1h1.3v1.3h-1.3zM86.8 56.0h1.3v1.3h-1.3zM58.3 73.9h1.3v1.3h-1.3zM62.8 65.8h1.3v1.3h-1.3zM57.8 62.8h1.3v1.3h-1.3zM35.3 30.1h1.3v1.3h-1.3zM35.2 73.8h1.3v1.3h-1.3zM78.8 48.4h1.3v1.3h-1.3zM82.8 87.4h1.3v1.3h-1.3zM38.1 84.5h1.3v1.3h-1.3zM43.5 74.3h1.3v1.3h-1.3zM88.4 81.8h1.3v1.3h-1.3zM68.3 50.0h1.3v1.3h-1.3zM60.8 37.6h1.3v1.3h-1.3zM51.5 60.6h1.3v1.3h-1.3zM63.5 65.8h1.3v1.3h-1.3zM40.8 63.2h1.3v1.3h-1.3zM85.0 82.0h1.3v1.3h-1.3zM66.4 82.5h1.3v1.3h-1.3zM75.8 51.9h1.3v1.3h-1.3zM56.6 75.4h1.3v1.3h-1.3zM58.5 38.5h1.3v1.3h-1.3zM40.4 48.1h1.3v1.3h-1.3zM87.2 29.3h1.3v1.3h-1.3zM78.0 84.9h1.3v1.3h-1.3zM83.0 31.9h1.3v1.3h-1.3zM49.1 80.7h1.3v1.3h-1.3zM27.3 68.9h1.3v1.3h-1.3zM50.0 50.6h1.3v1.3h-1.3zM85.9 82.5h1.3v1.3h-1.3zM58.1 36.7h1.3v1.3h-1.3zM60.2 76.5h1.3v1.3h-1.3zM86.7 67.3h1.3v1.3h-1.3zM27.2 47.4h1.3v1.3h-1.3zM61.3 78.6h1.3v1.3h-1.3zM82.2 65.1h1.3v1.3h-1.3zM70.0 71.4h1.3v1.3h-1.3zM48.2 85.6h1.3v1.3h-1.3zM41.8 28.2h1.3v1.3h-1.3zM45.7 78.5h1.3v1.3h-1.3zM88.3 40.9h1.3v1.3h-1.3zM62.8 70.5h1.3v1.3h-1.3zM59.1 66.8h1.3v1.3h-1.3zM84.5 50.6h1.3v1.3h-1.3zM76.7 53.8h1.3v1.3h-1.3zM51.1 70.2h1.3v1.3h-1.3zM32.1 51.2h1.3v1.3h-1.3zM69.2 28.8h1.3v1.3h-1.3zM52.1 62.8h1.3v1.3h-1.3zM52.3 68.8h1.3v1.3h-1.3zM73.9 63.2h1.3v1.3h-1.3zM45.9 51.5h1.3v1.3h-1.3zM50.1 35.7h1.3v1.3h-1.3zM48.8 87.2h1.3v1.3h-1.3zM85.2 55.3h1.3v1.3h-1.3zM65.1 74.4h1.3v1.3h-1.3zM38.1 78.2h1.3v1.3h-1.3zM64.0 33.6h1.3v1.3h-1.3zM85.1 72.9h1.3v1.3h-1.3zM78.7 52.6h1.3v1.3h-1.3zM83.5 81.9h1.3v1.3h-1.3zM34.1 81.0h1.3v1.3h-1.3zM31.5 27.3h1.3v1.3h-1.3zM85.7 68.6h1.3v1.3h-1.3zM66.0 74.5h1.3v1.3h-1.3zM72.7 69.3h1.3v1.3h-1.3zM39.7 39.5h1.3v1.3h-1.3zM49.2 27.3h1.3v1.3h-1.3zM70.6 57.4h1.3v1.3h-1.3zM40.1 74.2h1.3v1.3h-1.3zM23.3 68.9h1.3v1.3h-1.3zM50.8 49.2h1.3v1.3h-1.3zM70.8 70.0h1.3v1.3h-1.3zM48.2 68.8h1.3v1.3h-1.3zM84.9 61.2h1.3v1.3h-1.3zM56.1 68.4h1.3v1.3h-1.3zM31.4 70.7h1.3v1.3h-1.3zM40.6 76.4h1.3v1.3h-1.3zM28.2 59.1h1.3v1.3h-1.3zM88.0 79.6h1.3v1.3h-1.3zM41.6 77.7h1.3v1.3h-1.3zM37.9 52.7h1.3v1.3h-1.3zM36.4 69.5h1.3v1.3h-1.3zM42.7 39.6h1.3v1.3h-1.3zM72.8 46.7h1.3v1.3h-1.3zM85.2 83.9h1.3v1.3h-1.3zM55.6 56.4h1.3v1.3h-1.3zM51.0 83.6h1.3v1.3h-1.3zM78.3 37.6h1.3v1.3h-1.3zM78.1 49.2h1.3v1.3h-1.3zM88.1 73.2h1.3v1.3h-1.3zM49.3 78.3h1.3v1.3h-1.3zM48.9 27.3h1.3v1.3h-1.3zM46.4 77.8h1.3v1.3h-1.3zM44.8 86.0h1.3v1.3h-1.3zM40.7 80.8h1.3v1.3h-1.3zM39.3 58.4h1.3v1.3h-1.3zM40.3 27.1h1.3v1.3h-1.3zM78.6 60.8h1.3v1.3h-1.3zM68.6 85.6h1.3v1.3h-1.3zM77.9 30.6h1.3v1.3h-1.3zM52.4 44.6h1.3v1.3h-1.3zM74.7 41.7h1.3v1.3h-1.3zM35.0 40.1h1.3v1.3h-1.3zM82.3 47.0h1.3v1.3h-1.3zM31.0 75.9h1.3v1.3h-1.3zM44.6 40.5h1.3v1.3h-1.3zM66.9 68.3h1.3v1.3h-1.3zM69.3 64.5h1.3v1.3h-1.3zM71.9 82.0h1.3v1.3h-1.3zM78.6 59.3h1.3v1.3h-1.3zM38.7 59.0h1.3v1.3h-1.3zM24.6 60.1h1.3v1.3h-1.3zM44.9 71.5h1.3v1.3h-1.3zM80.7 52.0h1.3v1.3h-1.3zM42.5 79.6h1.3v1.3h-1.3zM59.7 70.5h1.3v1.3h-1.3zM48.9 78.4h1.3v1.3h-1.3zM48.4 49.6h1.3v1.3h-1.3zM27.5 58.1h1.3v1.3h-1.3zM51.6 49.0h1.3v1.3h-1.3zM88.1 39.2h1.3v1.3h-1.3zM27.3 84.5h1.3v1.3h-1.3zM76.9 78.1h1.3v1.3h-1.3zM47.9 75.5h1.3v1.3h-1.3zM62.7 43.1h1.3v1.3h-1.3z" fill="rgb(125,125,125)"/>
</g>
<text x="25.70" y="36.30" font-size="8.5" font-weight="normal" font-style="normal" text-anchor="start" fill="#fff" stroke="#fff" stroke-width="0.3">DAPI</text>
<rect x="26.60" y="82.70" width="20.00" height="2.10" fill="#fff" stroke="none" stroke-width="1"/>
<rect x="100.90" y="26.00" width="68.60" height="64.30" fill="#0e0e0e" stroke="#3a3a3a" stroke-width="0.8"/>
<g filter="url(#soft)">
<path d="M164.4 84.9h1.4v1.4h-1.4zM167.0 85.0h1.4v1.4h-1.4zM103.5 55.3h1.4v1.4h-1.4zM167.2 68.1h1.4v1.4h-1.4zM161.2 73.6h1.4v1.4h-1.4zM161.3 43.2h1.4v1.4h-1.4zM122.0 85.5h1.4v1.4h-1.4zM116.6 80.5h1.4v1.4h-1.4zM136.0 79.1h1.4v1.4h-1.4zM112.0 38.1h1.4v1.4h-1.4zM127.0 29.4h1.4v1.4h-1.4zM142.1 72.3h1.4v1.4h-1.4zM129.2 27.9h1.4v1.4h-1.4zM118.2 63.0h1.4v1.4h-1.4zM154.2 70.3h1.4v1.4h-1.4zM129.4 59.1h1.4v1.4h-1.4zM121.8 78.3h1.4v1.4h-1.4zM106.5 44.2h1.4v1.4h-1.4zM114.3 61.8h1.4v1.4h-1.4zM152.7 71.2h1.4v1.4h-1.4zM119.3 59.1h1.4v1.4h-1.4zM133.8 42.7h1.4v1.4h-1.4zM140.7 80.9h1.4v1.4h-1.4zM150.6 67.2h1.4v1.4h-1.4zM155.2 27.9h1.4v1.4h-1.4zM101.9 56.6h1.4v1.4h-1.4zM144.9 73.1h1.4v1.4h-1.4zM112.4 50.2h1.4v1.4h-1.4zM121.0 27.4h1.4v1.4h-1.4zM137.0 82.9h1.4v1.4h-1.4zM156.9 32.5h1.4v1.4h-1.4zM154.0 65.3h1.4v1.4h-1.4zM117.0 54.8h1.4v1.4h-1.4zM160.4 83.3h1.4v1.4h-1.4zM150.4 72.8h1.4v1.4h-1.4zM163.1 73.0h1.4v1.4h-1.4zM120.8 65.0h1.4v1.4h-1.4zM117.2 77.9h1.4v1.4h-1.4zM123.8 49.7h1.4v1.4h-1.4zM152.1 64.2h1.4v1.4h-1.4zM131.5 52.0h1.4v1.4h-1.4zM161.7 31.5h1.4v1.4h-1.4zM144.3 29.9h1.4v1.4h-1.4zM117.5 56.3h1.4v1.4h-1.4zM110.9 57.0h1.4v1.4h-1.4zM147.8 69.7h1.4v1.4h-1.4zM103.7 60.6h1.4v1.4h-1.4zM164.4 86.7h1.4v1.4h-1.4zM132.1 44.7h1.4v1.4h-1.4zM119.6 82.6h1.4v1.4h-1.4zM136.2 83.4h1.4v1.4h-1.4zM152.4 69.3h1.4v1.4h-1.4zM131.1 54.7h1.4v1.4h-1.4zM139.3 45.8h1.4v1.4h-1.4zM124.2 53.8h1.4v1.4h-1.4zM156.4 27.9h1.4v1.4h-1.4zM126.3 30.8h1.4v1.4h-1.4zM154.2 82.9h1.4v1.4h-1.4zM121.3 85.9h1.4v1.4h-1.4zM140.5 69.8h1.4v1.4h-1.4zM117.1 39.9h1.4v1.4h-1.4zM145.9 30.1h1.4v1.4h-1.4zM110.9 45.8h1.4v1.4h-1.4zM132.7 84.7h1.4v1.4h-1.4zM160.5 58.0h1.4v1.4h-1.4zM137.1 64.2h1.4v1.4h-1.4zM104.7 63.2h1.4v1.4h-1.4zM106.1 41.1h1.4v1.4h-1.4zM120.1 66.7h1.4v1.4h-1.4zM131.9 49.7h1.4v1.4h-1.4zM164.9 86.1h1.4v1.4h-1.4zM153.1 81.7h1.4v1.4h-1.4zM102.9 28.7h1.4v1.4h-1.4zM133.1 81.8h1.4v1.4h-1.4zM121.6 77.7h1.4v1.4h-1.4zM154.1 44.4h1.4v1.4h-1.4zM103.0 27.9h1.4v1.4h-1.4zM148.9 79.6h1.4v1.4h-1.4zM136.8 32.3h1.4v1.4h-1.4zM130.4 52.0h1.4v1.4h-1.4zM156.4 47.3h1.4v1.4h-1.4zM137.1 82.3h1.4v1.4h-1.4zM156.4 71.0h1.4v1.4h-1.4zM119.2 42.5h1.4v1.4h-1.4zM152.0 87.2h1.4v1.4h-1.4zM143.6 36.5h1.4v1.4h-1.4zM130.1 86.4h1.4v1.4h-1.4zM116.1 75.0h1.4v1.4h-1.4zM153.6 81.7h1.4v1.4h-1.4zM118.4 43.9h1.4v1.4h-1.4zM103.4 64.8h1.4v1.4h-1.4zM161.4 29.9h1.4v1.4h-1.4zM114.5 46.7h1.4v1.4h-1.4zM113.8 29.7h1.4v1.4h-1.4zM129.1 40.7h1.4v1.4h-1.4zM153.5 52.5h1.4v1.4h-1.4zM125.7 86.6h1.4v1.4h-1.4zM108.5 27.2h1.4v1.4h-1.4zM149.0 78.7h1.4v1.4h-1.4zM162.7 81.9h1.4v1.4h-1.4zM145.3 67.9h1.4v1.4h-1.4zM128.7 41.3h1.4v1.4h-1.4zM146.3 37.6h1.4v1.4h-1.4zM134.0 38.3h1.4v1.4h-1.4zM104.5 45.8h1.4v1.4h-1.4zM132.8 67.1h1.4v1.4h-1.4zM125.0 85.9h1.4v1.4h-1.4zM108.2 59.6h1.4v1.4h-1.4zM109.3 44.8h1.4v1.4h-1.4zM163.1 73.3h1.4v1.4h-1.4zM109.0 61.3h1.4v1.4h-1.4zM155.4 47.1h1.4v1.4h-1.4zM129.4 78.5h1.4v1.4h-1.4zM159.7 87.3h1.4v1.4h-1.4zM159.4 77.4h1.4v1.4h-1.4zM163.3 40.0h1.4v1.4h-1.4zM136.3 66.6h1.4v1.4h-1.4zM147.9 30.1h1.4v1.4h-1.4zM141.4 70.0h1.4v1.4h-1.4zM129.0 46.5h1.4v1.4h-1.4zM117.8 42.9h1.4v1.4h-1.4zM132.2 75.0h1.4v1.4h-1.4zM150.1 83.2h1.4v1.4h-1.4zM144.0 40.0h1.4v1.4h-1.4zM137.8 74.2h1.4v1.4h-1.4zM131.3 78.6h1.4v1.4h-1.4zM102.3 77.9h1.4v1.4h-1.4zM103.4 76.6h1.4v1.4h-1.4zM103.1 38.1h1.4v1.4h-1.4zM160.0 62.8h1.4v1.4h-1.4zM108.4 52.0h1.4v1.4h-1.4zM163.5 31.4h1.4v1.4h-1.4zM131.6 28.5h1.4v1.4h-1.4zM110.4 43.7h1.4v1.4h-1.4zM136.0 79.1h1.4v1.4h-1.4zM154.3 68.3h1.4v1.4h-1.4zM122.0 63.7h1.4v1.4h-1.4zM139.6 27.7h1.4v1.4h-1.4zM149.4 82.6h1.4v1.4h-1.4zM117.7 77.6h1.4v1.4h-1.4zM111.5 59.3h1.4v1.4h-1.4zM147.4 75.1h1.4v1.4h-1.4zM165.8 72.2h1.4v1.4h-1.4zM140.6 72.9h1.4v1.4h-1.4zM111.4 82.3h1.4v1.4h-1.4zM104.3 41.5h1.4v1.4h-1.4zM109.6 29.7h1.4v1.4h-1.4zM111.0 43.2h1.4v1.4h-1.4zM105.8 61.3h1.4v1.4h-1.4zM107.4 57.2h1.4v1.4h-1.4zM137.5 36.5h1.4v1.4h-1.4zM119.0 58.8h1.4v1.4h-1.4zM103.8 35.2h1.4v1.4h-1.4zM155.5 60.3h1.4v1.4h-1.4zM165.1 73.7h1.4v1.4h-1.4zM111.5 59.4h1.4v1.4h-1.4zM124.4 68.1h1.4v1.4h-1.4zM132.2 85.9h1.4v1.4h-1.4zM141.9 71.2h1.4v1.4h-1.4zM108.7 60.8h1.4v1.4h-1.4zM121.0 27.6h1.4v1.4h-1.4zM123.3 49.6h1.4v1.4h-1.4zM159.4 53.4h1.4v1.4h-1.4zM128.4 38.1h1.4v1.4h-1.4zM115.0 44.4h1.4v1.4h-1.4zM140.5 46.4h1.4v1.4h-1.4zM144.8 74.3h1.4v1.4h-1.4zM103.5 76.8h1.4v1.4h-1.4zM141.5 32.4h1.4v1.4h-1.4zM154.3 33.2h1.4v1.4h-1.4zM133.8 66.8h1.4v1.4h-1.4zM159.6 56.4h1.4v1.4h-1.4zM111.4 58.8h1.4v1.4h-1.4zM120.0 74.1h1.4v1.4h-1.4zM102.3 44.4h1.4v1.4h-1.4zM146.4 67.8h1.4v1.4h-1.4zM162.5 64.3h1.4v1.4h-1.4zM158.9 87.0h1.4v1.4h-1.4zM163.6 52.1h1.4v1.4h-1.4zM154.2 56.7h1.4v1.4h-1.4zM121.2 41.8h1.4v1.4h-1.4zM120.4 49.2h1.4v1.4h-1.4zM149.8 61.0h1.4v1.4h-1.4zM115.7 79.6h1.4v1.4h-1.4zM115.2 51.4h1.4v1.4h-1.4zM152.9 70.7h1.4v1.4h-1.4zM160.1 63.6h1.4v1.4h-1.4zM158.2 49.0h1.4v1.4h-1.4zM161.4 71.5h1.4v1.4h-1.4zM130.0 71.8h1.4v1.4h-1.4zM111.7 81.3h1.4v1.4h-1.4zM135.7 41.6h1.4v1.4h-1.4zM163.9 87.5h1.4v1.4h-1.4zM114.9 46.7h1.4v1.4h-1.4z" fill="rgb(230,230,230)"/>
<path d="M130.0 50.9h1.4v1.4h-1.4zM130.9 43.2h1.4v1.4h-1.4zM126.6 81.5h1.4v1.4h-1.4zM124.9 80.9h1.4v1.4h-1.4zM123.0 69.7h1.4v1.4h-1.4zM140.3 45.9h1.4v1.4h-1.4zM135.3 84.1h1.4v1.4h-1.4zM115.5 80.8h1.4v1.4h-1.4zM148.7 28.8h1.4v1.4h-1.4zM103.1 42.5h1.4v1.4h-1.4zM111.6 29.0h1.4v1.4h-1.4zM151.9 72.2h1.4v1.4h-1.4zM132.7 40.6h1.4v1.4h-1.4zM159.1 34.6h1.4v1.4h-1.4zM164.7 42.7h1.4v1.4h-1.4zM135.0 87.1h1.4v1.4h-1.4zM166.9 41.1h1.4v1.4h-1.4zM104.0 51.9h1.4v1.4h-1.4zM113.6 41.0h1.4v1.4h-1.4zM164.9 71.5h1.4v1.4h-1.4zM135.3 62.4h1.4v1.4h-1.4zM135.8 83.3h1.4v1.4h-1.4zM120.7 87.1h1.4v1.4h-1.4zM102.7 54.5h1.4v1.4h-1.4zM133.6 39.6h1.4v1.4h-1.4zM109.7 34.3h1.4v1.4h-1.4zM147.1 28.3h1.4v1.4h-1.4zM125.2 54.8h1.4v1.4h-1.4zM164.3 76.1h1.4v1.4h-1.4zM146.3 83.1h1.4v1.4h-1.4zM167.2 35.8h1.4v1.4h-1.4zM166.6 66.5h1.4v1.4h-1.4zM121.1 41.0h1.4v1.4h-1.4zM109.1 60.0h1.4v1.4h-1.4zM167.0 74.8h1.4v1.4h-1.4zM132.7 85.8h1.4v1.4h-1.4zM128.1 67.7h1.4v1.4h-1.4zM143.3 27.5h1.4v1.4h-1.4zM148.4 80.9h1.4v1.4h-1.4zM149.6 64.0h1.4v1.4h-1.4zM140.2 38.5h1.4v1.4h-1.4zM118.3 61.5h1.4v1.4h-1.4zM115.1 86.1h1.4v1.4h-1.4zM146.0 47.3h1.4v1.4h-1.4zM134.7 28.5h1.4v1.4h-1.4zM153.2 51.6h1.4v1.4h-1.4zM153.4 79.8h1.4v1.4h-1.4zM121.9 66.6h1.4v1.4h-1.4zM153.9 66.9h1.4v1.4h-1.4zM155.4 50.0h1.4v1.4h-1.4zM112.6 53.9h1.4v1.4h-1.4zM143.7 83.8h1.4v1.4h-1.4zM124.2 80.7h1.4v1.4h-1.4zM134.7 69.1h1.4v1.4h-1.4zM160.3 38.2h1.4v1.4h-1.4zM110.0 28.5h1.4v1.4h-1.4zM125.3 83.1h1.4v1.4h-1.4zM151.7 53.6h1.4v1.4h-1.4zM120.4 65.9h1.4v1.4h-1.4zM111.0 39.3h1.4v1.4h-1.4zM117.9 41.5h1.4v1.4h-1.4zM129.9 74.5h1.4v1.4h-1.4zM167.1 50.8h1.4v1.4h-1.4zM142.3 46.2h1.4v1.4h-1.4zM145.6 32.4h1.4v1.4h-1.4zM110.8 57.6h1.4v1.4h-1.4zM136.0 68.6h1.4v1.4h-1.4zM121.2 53.2h1.4v1.4h-1.4zM132.9 29.7h1.4v1.4h-1.4zM160.9 61.7h1.4v1.4h-1.4zM132.7 42.4h1.4v1.4h-1.4zM141.4 79.5h1.4v1.4h-1.4zM142.1 67.2h1.4v1.4h-1.4zM156.6 45.1h1.4v1.4h-1.4zM122.6 42.5h1.4v1.4h-1.4zM145.4 35.3h1.4v1.4h-1.4zM127.4 53.5h1.4v1.4h-1.4zM115.8 40.5h1.4v1.4h-1.4zM139.8 70.0h1.4v1.4h-1.4zM116.2 28.3h1.4v1.4h-1.4zM163.5 33.1h1.4v1.4h-1.4zM148.6 79.7h1.4v1.4h-1.4zM161.0 29.3h1.4v1.4h-1.4zM153.4 81.6h1.4v1.4h-1.4zM161.3 33.6h1.4v1.4h-1.4zM102.1 51.6h1.4v1.4h-1.4zM161.7 34.6h1.4v1.4h-1.4zM130.4 85.1h1.4v1.4h-1.4zM144.2 36.8h1.4v1.4h-1.4zM139.1 42.2h1.4v1.4h-1.4zM155.6 64.9h1.4v1.4h-1.4zM157.3 55.1h1.4v1.4h-1.4zM144.5 85.6h1.4v1.4h-1.4zM125.5 75.7h1.4v1.4h-1.4zM154.7 51.7h1.4v1.4h-1.4zM145.5 51.4h1.4v1.4h-1.4zM131.5 33.8h1.4v1.4h-1.4zM162.0 54.1h1.4v1.4h-1.4zM148.5 29.9h1.4v1.4h-1.4zM147.6 83.5h1.4v1.4h-1.4zM113.8 51.0h1.4v1.4h-1.4zM164.6 37.6h1.4v1.4h-1.4zM159.4 54.6h1.4v1.4h-1.4zM114.7 29.2h1.4v1.4h-1.4zM153.1 36.2h1.4v1.4h-1.4zM142.3 65.7h1.4v1.4h-1.4zM144.0 78.9h1.4v1.4h-1.4zM162.2 28.6h1.4v1.4h-1.4zM124.8 78.7h1.4v1.4h-1.4zM121.4 61.5h1.4v1.4h-1.4zM139.2 74.5h1.4v1.4h-1.4zM145.1 64.9h1.4v1.4h-1.4zM108.7 41.0h1.4v1.4h-1.4zM118.7 60.8h1.4v1.4h-1.4zM129.7 27.3h1.4v1.4h-1.4zM101.8 75.5h1.4v1.4h-1.4zM136.3 62.0h1.4v1.4h-1.4zM106.4 27.3h1.4v1.4h-1.4zM159.9 55.0h1.4v1.4h-1.4zM156.7 57.6h1.4v1.4h-1.4zM155.1 71.8h1.4v1.4h-1.4zM135.0 81.5h1.4v1.4h-1.4zM135.5 72.0h1.4v1.4h-1.4zM138.6 81.8h1.4v1.4h-1.4zM121.5 87.9h1.4v1.4h-1.4zM164.5 66.4h1.4v1.4h-1.4zM165.6 54.0h1.4v1.4h-1.4zM121.2 67.1h1.4v1.4h-1.4zM165.2 62.4h1.4v1.4h-1.4zM161.2 64.4h1.4v1.4h-1.4zM159.9 28.7h1.4v1.4h-1.4zM118.4 27.9h1.4v1.4h-1.4zM117.6 40.0h1.4v1.4h-1.4zM101.7 85.4h1.4v1.4h-1.4zM152.6 85.7h1.4v1.4h-1.4zM167.1 52.9h1.4v1.4h-1.4zM111.6 38.5h1.4v1.4h-1.4zM101.8 82.8h1.4v1.4h-1.4zM142.8 84.9h1.4v1.4h-1.4zM150.5 37.4h1.4v1.4h-1.4zM119.3 74.2h1.4v1.4h-1.4zM102.1 33.2h1.4v1.4h-1.4zM140.2 78.4h1.4v1.4h-1.4zM160.3 43.9h1.4v1.4h-1.4zM158.4 37.1h1.4v1.4h-1.4zM166.8 43.5h1.4v1.4h-1.4zM159.0 49.9h1.4v1.4h-1.4zM116.4 79.3h1.4v1.4h-1.4zM133.6 67.0h1.4v1.4h-1.4zM155.0 55.0h1.4v1.4h-1.4zM149.3 67.7h1.4v1.4h-1.4zM143.9 79.7h1.4v1.4h-1.4zM109.5 44.5h1.4v1.4h-1.4zM119.8 69.7h1.4v1.4h-1.4zM130.1 71.6h1.4v1.4h-1.4zM134.4 48.2h1.4v1.4h-1.4zM164.0 29.2h1.4v1.4h-1.4zM155.5 32.8h1.4v1.4h-1.4zM140.7 65.3h1.4v1.4h-1.4zM107.7 81.7h1.4v1.4h-1.4zM162.1 47.6h1.4v1.4h-1.4zM146.0 45.1h1.4v1.4h-1.4zM127.6 87.8h1.4v1.4h-1.4zM146.5 31.8h1.4v1.4h-1.4zM161.8 76.7h1.4v1.4h-1.4zM144.8 74.5h1.4v1.4h-1.4zM119.3 49.8h1.4v1.4h-1.4zM119.1 79.9h1.4v1.4h-1.4zM165.0 68.1h1.4v1.4h-1.4zM128.0 70.1h1.4v1.4h-1.4zM161.7 53.0h1.4v1.4h-1.4zM160.1 57.4h1.4v1.4h-1.4zM121.3 40.1h1.4v1.4h-1.4zM143.3 29.9h1.4v1.4h-1.4zM136.5 38.0h1.4v1.4h-1.4zM146.5 68.7h1.4v1.4h-1.4zM138.0 47.9h1.4v1.4h-1.4zM141.0 73.1h1.4v1.4h-1.4zM146.6 62.6h1.4v1.4h-1.4zM112.7 38.0h1.4v1.4h-1.4zM131.5 47.8h1.4v1.4h-1.4zM147.4 39.1h1.4v1.4h-1.4zM143.1 40.1h1.4v1.4h-1.4zM120.1 37.9h1.4v1.4h-1.4zM103.5 60.2h1.4v1.4h-1.4zM128.6 53.4h1.4v1.4h-1.4zM123.5 85.8h1.4v1.4h-1.4zM140.7 29.0h1.4v1.4h-1.4zM134.0 50.5h1.4v1.4h-1.4zM150.5 32.1h1.4v1.4h-1.4zM156.5 64.3h1.4v1.4h-1.4zM128.0 77.0h1.4v1.4h-1.4zM126.4 74.0h1.4v1.4h-1.4zM128.8 35.9h1.4v1.4h-1.4zM117.6 60.5h1.4v1.4h-1.4zM140.7 73.2h1.4v1.4h-1.4zM133.1 74.9h1.4v1.4h-1.4zM142.1 45.0h1.4v1.4h-1.4zM115.2 83.2h1.4v1.4h-1.4zM112.2 28.7h1.4v1.4h-1.4zM162.2 45.5h1.4v1.4h-1.4zM137.7 68.1h1.4v1.4h-1.4zM125.4 73.4h1.4v1.4h-1.4zM119.1 67.5h1.4v1.4h-1.4zM109.8 58.3h1.4v1.4h-1.4zM156.6 56.0h1.4v1.4h-1.4zM145.0 84.1h1.4v1.4h-1.4zM155.4 65.2h1.4v1.4h-1.4zM116.0 81.4h1.4v1.4h-1.4zM149.6 36.1h1.4v1.4h-1.4zM118.2 63.3h1.4v1.4h-1.4zM134.6 70.6h1.4v1.4h-1.4zM152.2 54.6h1.4v1.4h-1.4zM138.2 85.0h1.4v1.4h-1.4zM130.7 73.9h1.4v1.4h-1.4zM153.8 46.7h1.4v1.4h-1.4zM119.6 88.0h1.4v1.4h-1.4zM138.4 30.8h1.4v1.4h-1.4zM109.6 59.8h1.4v1.4h-1.4zM108.6 86.2h1.4v1.4h-1.4zM102.3 59.1h1.4v1.4h-1.4zM161.0 54.1h1.4v1.4h-1.4zM127.1 65.5h1.4v1.4h-1.4zM147.0 80.9h1.4v1.4h-1.4zM151.4 62.4h1.4v1.4h-1.4zM137.1 30.6h1.4v1.4h-1.4zM130.4 66.9h1.4v1.4h-1.4zM127.2 27.4h1.4v1.4h-1.4zM160.7 55.8h1.4v1.4h-1.4zM136.6 73.4h1.4v1.4h-1.4zM164.5 63.4h1.4v1.4h-1.4zM158.8 86.8h1.4v1.4h-1.4zM119.2 74.4h1.4v1.4h-1.4zM121.9 43.1h1.4v1.4h-1.4zM164.0 84.0h1.4v1.4h-1.4zM157.3 72.7h1.4v1.4h-1.4zM118.4 59.4h1.4v1.4h-1.4zM147.7 84.0h1.4v1.4h-1.4zM123.4 49.5h1.4v1.4h-1.4zM112.6 54.1h1.4v1.4h-1.4zM138.4 31.9h1.4v1.4h-1.4zM130.1 87.7h1.4v1.4h-1.4zM166.4 50.7h1.4v1.4h-1.4zM109.2 28.9h1.4v1.4h-1.4zM103.4 55.9h1.4v1.4h-1.4zM136.9 73.7h1.4v1.4h-1.4zM158.2 36.0h1.4v1.4h-1.4zM140.6 83.0h1.4v1.4h-1.4zM153.3 50.0h1.4v1.4h-1.4zM119.4 80.7h1.4v1.4h-1.4zM148.9 84.0h1.4v1.4h-1.4zM136.8 67.3h1.4v1.4h-1.4zM123.6 85.8h1.4v1.4h-1.4zM131.8 78.5h1.4v1.4h-1.4zM137.6 82.7h1.4v1.4h-1.4zM158.2 59.3h1.4v1.4h-1.4zM163.8 27.6h1.4v1.4h-1.4zM159.3 29.7h1.4v1.4h-1.4zM136.1 83.6h1.4v1.4h-1.4zM114.3 62.0h1.4v1.4h-1.4zM140.2 75.8h1.4v1.4h-1.4zM164.9 78.8h1.4v1.4h-1.4zM122.6 75.2h1.4v1.4h-1.4zM135.5 29.0h1.4v1.4h-1.4zM151.9 72.4h1.4v1.4h-1.4zM139.8 65.3h1.4v1.4h-1.4zM142.1 76.3h1.4v1.4h-1.4zM109.8 83.4h1.4v1.4h-1.4zM128.5 37.1h1.4v1.4h-1.4zM117.8 86.3h1.4v1.4h-1.4zM118.1 38.4h1.4v1.4h-1.4zM118.7 62.3h1.4v1.4h-1.4zM118.4 62.2h1.4v1.4h-1.4zM137.8 46.1h1.4v1.4h-1.4zM131.4 76.2h1.4v1.4h-1.4zM121.6 46.8h1.4v1.4h-1.4zM108.3 58.4h1.4v1.4h-1.4z" fill="rgb(180,180,180)"/>
<path d="M145.6 45.7h1.4v1.4h-1.4zM138.5 41.3h1.4v1.4h-1.4zM160.3 75.6h1.4v1.4h-1.4zM124.9 86.9h1.4v1.4h-1.4zM162.4 57.5h1.4v1.4h-1.4zM161.2 38.5h1.4v1.4h-1.4zM164.3 28.4h1.4v1.4h-1.4zM123.8 28.7h1.4v1.4h-1.4zM151.3 79.7h1.4v1.4h-1.4zM110.9 30.3h1.4v1.4h-1.4zM143.8 39.8h1.4v1.4h-1.4zM163.1 31.5h1.4v1.4h-1.4zM132.1 73.0h1.4v1.4h-1.4zM157.5 66.1h1.4v1.4h-1.4zM155.4 32.7h1.4v1.4h-1.4zM151.3 32.7h1.4v1.4h-1.4zM131.9 69.9h1.4v1.4h-1.4zM111.2 53.8h1.4v1.4h-1.4zM148.3 84.2h1.4v1.4h-1.4zM159.7 33.0h1.4v1.4h-1.4zM165.1 49.3h1.4v1.4h-1.4zM126.8 53.9h1.4v1.4h-1.4zM119.9 85.5h1.4v1.4h-1.4zM108.2 41.4h1.4v1.4h-1.4zM125.8 51.0h1.4v1.4h-1.4zM164.5 48.5h1.4v1.4h-1.4zM122.5 83.6h1.4v1.4h-1.4zM129.3 42.1h1.4v1.4h-1.4zM136.0 78.6h1.4v1.4h-1.4zM166.3 87.4h1.4v1.4h-1.4zM110.1 84.3h1.4v1.4h-1.4zM154.0 27.3h1.4v1.4h-1.4zM124.7 37.4h1.4v1.4h-1.4zM114.8 83.1h1.4v1.4h-1.4zM105.2 40.0h1.4v1.4h-1.4zM142.5 79.4h1.4v1.4h-1.4zM142.8 39.7h1.4v1.4h-1.4zM127.8 75.7h1.4v1.4h-1.4zM151.9 87.3h1.4v1.4h-1.4zM142.7 72.3h1.4v1.4h-1.4zM155.7 78.0h1.4v1.4h-1.4zM104.2 38.8h1.4v1.4h-1.4zM155.8 69.8h1.4v1.4h-1.4zM129.0 71.0h1.4v1.4h-1.4zM144.9 34.3h1.4v1.4h-1.4zM132.9 38.6h1.4v1.4h-1.4zM146.4 45.7h1.4v1.4h-1.4zM161.7 66.3h1.4v1.4h-1.4zM155.3 32.3h1.4v1.4h-1.4zM137.0 64.5h1.4v1.4h-1.4zM124.0 83.4h1.4v1.4h-1.4zM163.9 65.8h1.4v1.4h-1.4zM103.4 47.7h1.4v1.4h-1.4zM102.2 68.0h1.4v1.4h-1.4zM129.2 75.3h1.4v1.4h-1.4zM156.0 68.1h1.4v1.4h-1.4zM110.1 48.3h1.4v1.4h-1.4zM148.0 86.7h1.4v1.4h-1.4zM132.2 52.7h1.4v1.4h-1.4zM121.5 78.3h1.4v1.4h-1.4zM164.2 73.1h1.4v1.4h-1.4zM134.9 81.8h1.4v1.4h-1.4zM140.9 65.1h1.4v1.4h-1.4zM142.1 73.7h1.4v1.4h-1.4zM159.1 66.0h1.4v1.4h-1.4zM157.2 86.9h1.4v1.4h-1.4zM116.5 62.7h1.4v1.4h-1.4zM158.3 62.8h1.4v1.4h-1.4zM112.3 51.7h1.4v1.4h-1.4zM125.4 37.8h1.4v1.4h-1.4zM142.1 75.3h1.4v1.4h-1.4zM115.5 69.9h1.4v1.4h-1.4zM102.4 80.6h1.4v1.4h-1.4zM162.1 86.6h1.4v1.4h-1.4zM164.4 67.1h1.4v1.4h-1.4zM136.9 46.0h1.4v1.4h-1.4zM117.3 54.7h1.4v1.4h-1.4zM162.9 77.7h1.4v1.4h-1.4zM146.9 77.9h1.4v1.4h-1.4zM135.6 76.7h1.4v1.4h-1.4zM139.4 77.3h1.4v1.4h-1.4zM159.5 29.7h1.4v1.4h-1.4zM146.4 35.1h1.4v1.4h-1.4zM161.0 70.7h1.4v1.4h-1.4zM103.9 43.8h1.4v1.4h-1.4zM144.0 44.1h1.4v1.4h-1.4zM138.8 66.8h1.4v1.4h-1.4zM123.9 45.7h1.4v1.4h-1.4zM156.8 28.8h1.4v1.4h-1.4zM162.0 77.6h1.4v1.4h-1.4zM107.4 68.5h1.4v1.4h-1.4zM166.2 55.5h1.4v1.4h-1.4zM159.1 76.4h1.4v1.4h-1.4zM147.0 80.1h1.4v1.4h-1.4zM110.6 66.1h1.4v1.4h-1.4zM108.4 44.4h1.4v1.4h-1.4zM115.4 43.1h1.4v1.4h-1.4zM142.1 35.7h1.4v1.4h-1.4zM109.9 38.3h1.4v1.4h-1.4zM153.1 64.3h1.4v1.4h-1.4zM118.1 62.7h1.4v1.4h-1.4zM124.1 71.0h1.4v1.4h-1.4zM101.9 78.8h1.4v1.4h-1.4zM120.1 73.3h1.4v1.4h-1.4zM118.4 27.9h1.4v1.4h-1.4zM108.7 50.9h1.4v1.4h-1.4zM139.1 73.2h1.4v1.4h-1.4zM122.0 43.6h1.4v1.4h-1.4zM128.8 31.1h1.4v1.4h-1.4zM111.1 59.4h1.4v1.4h-1.4zM146.5 79.7h1.4v1.4h-1.4zM126.4 43.0h1.4v1.4h-1.4zM113.8 86.2h1.4v1.4h-1.4zM136.4 47.5h1.4v1.4h-1.4zM152.5 47.6h1.4v1.4h-1.4zM152.7 69.4h1.4v1.4h-1.4zM158.9 39.1h1.4v1.4h-1.4zM122.9 62.5h1.4v1.4h-1.4zM154.8 28.0h1.4v1.4h-1.4zM105.1 43.2h1.4v1.4h-1.4zM129.3 70.0h1.4v1.4h-1.4zM122.0 27.0h1.4v1.4h-1.4zM142.9 88.1h1.4v1.4h-1.4zM131.8 75.1h1.4v1.4h-1.4zM150.3 82.9h1.4v1.4h-1.4zM115.5 29.6h1.4v1.4h-1.4zM121.3 35.4h1.4v1.4h-1.4zM149.6 73.3h1.4v1.4h-1.4zM123.6 29.2h1.4v1.4h-1.4zM135.8 28.8h1.4v1.4h-1.4zM117.4 48.3h1.4v1.4h-1.4zM130.4 54.3h1.4v1.4h-1.4zM103.2 76.7h1.4v1.4h-1.4zM102.1 80.6h1.4v1.4h-1.4zM112.7 81.0h1.4v1.4h-1.4zM147.3 74.3h1.4v1.4h-1.4zM164.0 54.8h1.4v1.4h-1.4zM129.0 51.4h1.4v1.4h-1.4zM128.5 85.4h1.4v1.4h-1.4zM134.2 45.5h1.4v1.4h-1.4zM131.2 56.8h1.4v1.4h-1.4zM146.4 45.4h1.4v1.4h-1.4zM167.0 68.8h1.4v1.4h-1.4zM147.5 80.9h1.4v1.4h-1.4zM159.9 63.8h1.4v1.4h-1.4zM141.2 71.3h1.4v1.4h-1.4zM164.2 72.8h1.4v1.4h-1.4zM129.0 39.4h1.4v1.4h-1.4zM159.5 87.5h1.4v1.4h-1.4zM139.7 36.6h1.4v1.4h-1.4zM158.4 82.7h1.4v1.4h-1.4zM147.7 73.6h1.4v1.4h-1.4zM119.4 38.7h1.4v1.4h-1.4zM146.3 74.7h1.4v1.4h-1.4zM105.1 62.6h1.4v1.4h-1.4zM129.1 52.3h1.4v1.4h-1.4zM166.4 86.1h1.4v1.4h-1.4zM157.7 55.2h1.4v1.4h-1.4zM126.3 66.4h1.4v1.4h-1.4zM149.2 58.0h1.4v1.4h-1.4zM134.2 44.0h1.4v1.4h-1.4zM125.6 30.4h1.4v1.4h-1.4zM102.2 84.4h1.4v1.4h-1.4zM114.7 44.4h1.4v1.4h-1.4zM129.8 36.6h1.4v1.4h-1.4zM127.1 77.8h1.4v1.4h-1.4zM165.6 78.4h1.4v1.4h-1.4zM140.7 45.7h1.4v1.4h-1.4zM127.5 37.9h1.4v1.4h-1.4zM159.8 46.4h1.4v1.4h-1.4zM148.7 65.8h1.4v1.4h-1.4zM118.8 49.5h1.4v1.4h-1.4zM123.1 41.9h1.4v1.4h-1.4zM155.0 63.5h1.4v1.4h-1.4zM147.5 40.3h1.4v1.4h-1.4zM137.3 77.9h1.4v1.4h-1.4zM161.4 43.2h1.4v1.4h-1.4zM138.4 68.5h1.4v1.4h-1.4zM161.0 59.6h1.4v1.4h-1.4zM125.4 54.3h1.4v1.4h-1.4zM113.7 55.5h1.4v1.4h-1.4zM156.5 27.2h1.4v1.4h-1.4zM138.1 77.8h1.4v1.4h-1.4zM127.4 76.1h1.4v1.4h-1.4zM143.5 40.7h1.4v1.4h-1.4zM139.3 46.5h1.4v1.4h-1.4zM160.7 81.2h1.4v1.4h-1.4zM125.5 46.6h1.4v1.4h-1.4zM131.6 82.9h1.4v1.4h-1.4z" fill="rgb(135,135,135)"/>
</g>
<text x="104.40" y="36.40" font-size="8.5" font-weight="normal" font-style="normal" text-anchor="start" fill="#fff" stroke="#fff" stroke-width="0.3">DAPI</text>
<rect x="105.30" y="82.80" width="20.00" height="2.10" fill="#fff" stroke="none" stroke-width="1"/>
<rect x="22.20" y="93.00" width="68.60" height="64.20" fill="#1c1c1c" stroke="#3a3a3a" stroke-width="0.8"/>
<g filter="url(#soft)">
<path d="M38.6 127.1h1.45v1.45h-1.45zM79.0 154.3h1.45v1.45h-1.45zM81.8 116.9h1.45v1.45h-1.45zM57.2 127.3h1.45v1.45h-1.45zM50.2 129.3h1.45v1.45h-1.45zM86.1 109.2h1.45v1.45h-1.45zM43.5 116.4h1.45v1.45h-1.45zM38.6 105.3h1.45v1.45h-1.45zM79.1 104.2h1.45v1.45h-1.45zM37.8 101.2h1.45v1.45h-1.45zM82.2 136.2h1.45v1.45h-1.45zM23.9 139.4h1.45v1.45h-1.45zM54.3 141.6h1.45v1.45h-1.45zM64.2 146.5h1.45v1.45h-1.45zM23.1 97.2h1.45v1.45h-1.45zM65.4 129.7h1.45v1.45h-1.45zM28.2 104.7h1.45v1.45h-1.45zM62.6 141.7h1.45v1.45h-1.45zM32.4 141.1h1.45v1.45h-1.45zM29.0 99.9h1.45v1.45h-1.45zM65.1 148.7h1.45v1.45h-1.45zM35.2 110.1h1.45v1.45h-1.45zM24.5 123.1h1.45v1.45h-1.45zM48.6 127.1h1.45v1.45h-1.45zM41.0 134.5h1.45v1.45h-1.45zM40.7 99.9h1.45v1.45h-1.45zM46.6 108.1h1.45v1.45h-1.45zM30.2 96.4h1.45v1.45h-1.45zM35.8 106.6h1.45v1.45h-1.45zM39.4 110.1h1.45v1.45h-1.45zM23.2 95.7h1.45v1.45h-1.45zM28.8 111.7h1.45v1.45h-1.45zM72.7 135.2h1.45v1.45h-1.45zM85.6 100.2h1.45v1.45h-1.45zM30.2 98.7h1.45v1.45h-1.45zM65.3 129.6h1.45v1.45h-1.45zM62.6 142.0h1.45v1.45h-1.45zM35.3 104.7h1.45v1.45h-1.45zM77.1 100.7h1.45v1.45h-1.45zM36.5 126.8h1.45v1.45h-1.45zM88.3 114.3h1.45v1.45h-1.45zM87.7 131.2h1.45v1.45h-1.45zM83.3 111.7h1.45v1.45h-1.45zM42.3 125.6h1.45v1.45h-1.45zM42.6 118.9h1.45v1.45h-1.45z" fill="rgb(255,255,255)"/>
<path d="M60.6 111.2h1.45v1.45h-1.45zM75.5 118.9h1.45v1.45h-1.45zM25.9 131.4h1.45v1.45h-1.45zM87.3 124.7h1.45v1.45h-1.45zM25.1 105.9h1.45v1.45h-1.45zM63.0 103.4h1.45v1.45h-1.45zM57.1 133.2h1.45v1.45h-1.45zM42.7 116.9h1.45v1.45h-1.45zM43.3 107.4h1.45v1.45h-1.45zM65.1 143.1h1.45v1.45h-1.45zM35.9 126.5h1.45v1.45h-1.45zM75.8 144.2h1.45v1.45h-1.45zM40.8 110.2h1.45v1.45h-1.45zM43.7 113.0h1.45v1.45h-1.45zM59.4 137.6h1.45v1.45h-1.45zM50.6 136.2h1.45v1.45h-1.45zM39.1 126.6h1.45v1.45h-1.45zM27.7 119.8h1.45v1.45h-1.45zM38.9 104.8h1.45v1.45h-1.45zM86.8 119.0h1.45v1.45h-1.45zM34.3 115.8h1.45v1.45h-1.45zM49.2 138.7h1.45v1.45h-1.45zM79.0 108.6h1.45v1.45h-1.45zM70.8 99.1h1.45v1.45h-1.45zM77.7 111.6h1.45v1.45h-1.45zM61.0 135.1h1.45v1.45h-1.45zM81.2 149.4h1.45v1.45h-1.45zM65.9 143.1h1.45v1.45h-1.45zM32.3 114.1h1.45v1.45h-1.45zM53.0 112.9h1.45v1.45h-1.45zM58.6 139.0h1.45v1.45h-1.45zM25.8 124.7h1.45v1.45h-1.45zM35.4 119.3h1.45v1.45h-1.45zM32.6 118.2h1.45v1.45h-1.45zM39.4 141.6h1.45v1.45h-1.45zM74.9 131.9h1.45v1.45h-1.45zM80.1 136.3h1.45v1.45h-1.45zM79.3 130.6h1.45v1.45h-1.45zM51.6 140.1h1.45v1.45h-1.45zM49.5 104.1h1.45v1.45h-1.45zM30.2 104.1h1.45v1.45h-1.45zM49.7 136.8h1.45v1.45h-1.45zM45.7 101.4h1.45v1.45h-1.45zM34.2 96.0h1.45v1.45h-1.45zM83.1 151.3h1.45v1.45h-1.45zM54.5 110.3h1.45v1.45h-1.45zM48.4 123.6h1.45v1.45h-1.45zM86.3 106.0h1.45v1.45h-1.45zM62.5 121.0h1.45v1.45h-1.45zM35.1 99.7h1.45v1.45h-1.45zM72.0 111.4h1.45v1.45h-1.45z" fill="rgb(200,200,200)"/>
<path d="M62.6 132.1h1.45v1.45h-1.45zM77.8 122.9h1.45v1.45h-1.45zM57.3 139.1h1.45v1.45h-1.45zM54.0 137.8h1.45v1.45h-1.45zM80.6 99.8h1.45v1.45h-1.45zM79.9 113.0h1.45v1.45h-1.45zM59.7 131.7h1.45v1.45h-1.45zM38.6 112.2h1.45v1.45h-1.45zM63.4 132.5h1.45v1.45h-1.45zM35.0 110.8h1.45v1.45h-1.45zM31.5 111.7h1.45v1.45h-1.45zM40.8 115.0h1.45v1.45h-1.45zM41.8 143.3h1.45v1.45h-1.45zM35.5 113.9h1.45v1.45h-1.45zM66.8 138.7h1.45v1.45h-1.45zM29.8 129.7h1.45v1.45h-1.45zM56.5 137.5h1.45v1.45h-1.45zM72.1 150.9h1.45v1.45h-1.45zM63.4 139.9h1.45v1.45h-1.45zM54.4 130.4h1.45v1.45h-1.45zM54.5 137.9h1.45v1.45h-1.45zM40.0 105.2h1.45v1.45h-1.45zM79.7 113.0h1.45v1.45h-1.45zM84.7 116.7h1.45v1.45h-1.45zM40.4 117.2h1.45v1.45h-1.45zM46.1 145.6h1.45v1.45h-1.45zM62.4 138.2h1.45v1.45h-1.45zM57.7 96.1h1.45v1.45h-1.45zM85.9 148.3h1.45v1.45h-1.45zM36.1 103.6h1.45v1.45h-1.45zM82.0 137.8h1.45v1.45h-1.45zM49.4 118.1h1.45v1.45h-1.45zM86.3 107.2h1.45v1.45h-1.45zM64.2 114.9h1.45v1.45h-1.45zM86.8 123.0h1.45v1.45h-1.45zM30.5 117.6h1.45v1.45h-1.45zM67.6 150.6h1.45v1.45h-1.45zM38.8 96.8h1.45v1.45h-1.45zM28.6 122.2h1.45v1.45h-1.45zM77.4 131.4h1.45v1.45h-1.45zM77.8 130.1h1.45v1.45h-1.45zM28.5 107.1h1.45v1.45h-1.45z" fill="rgb(150,150,150)"/>
</g>
<rect x="26.60" y="150.30" width="20.00" height="2.10" fill="#fff" stroke="none" stroke-width="1"/>
<rect x="100.90" y="93.40" width="68.60" height="64.30" fill="#1c1c1c" stroke="#3a3a3a" stroke-width="0.8"/>
<g filter="url(#soft)">
<path d="M113.0 100.7h1.45v1.45h-1.45zM158.4 127.7h1.45v1.45h-1.45zM141.0 120.6h1.45v1.45h-1.45zM104.7 132.6h1.45v1.45h-1.45zM167.1 106.2h1.45v1.45h-1.45zM138.3 149.6h1.45v1.45h-1.45zM149.9 153.0h1.45v1.45h-1.45zM130.8 102.6h1.45v1.45h-1.45zM166.1 120.2h1.45v1.45h-1.45zM156.2 124.7h1.45v1.45h-1.45zM134.1 99.9h1.45v1.45h-1.45zM162.2 152.8h1.45v1.45h-1.45zM104.6 149.3h1.45v1.45h-1.45zM132.6 126.4h1.45v1.45h-1.45zM158.4 131.4h1.45v1.45h-1.45zM117.8 146.1h1.45v1.45h-1.45zM146.1 131.5h1.45v1.45h-1.45zM155.3 111.6h1.45v1.45h-1.45zM111.4 108.8h1.45v1.45h-1.45zM147.2 138.5h1.45v1.45h-1.45zM159.0 109.9h1.45v1.45h-1.45zM132.9 138.2h1.45v1.45h-1.45zM148.5 124.7h1.45v1.45h-1.45zM102.9 139.1h1.45v1.45h-1.45zM151.1 147.0h1.45v1.45h-1.45zM159.8 151.3h1.45v1.45h-1.45zM118.5 125.5h1.45v1.45h-1.45zM166.4 104.4h1.45v1.45h-1.45zM106.7 146.1h1.45v1.45h-1.45zM113.6 106.8h1.45v1.45h-1.45zM149.6 151.7h1.45v1.45h-1.45zM141.3 127.5h1.45v1.45h-1.45zM120.6 119.7h1.45v1.45h-1.45zM120.8 125.9h1.45v1.45h-1.45zM123.0 115.0h1.45v1.45h-1.45zM152.0 127.6h1.45v1.45h-1.45zM144.4 127.5h1.45v1.45h-1.45zM158.3 143.0h1.45v1.45h-1.45zM156.4 105.0h1.45v1.45h-1.45zM151.5 129.3h1.45v1.45h-1.45zM145.6 148.7h1.45v1.45h-1.45zM162.3 111.6h1.45v1.45h-1.45zM133.1 147.9h1.45v1.45h-1.45zM147.5 141.0h1.45v1.45h-1.45zM118.4 132.3h1.45v1.45h-1.45zM144.1 105.0h1.45v1.45h-1.45zM139.3 111.0h1.45v1.45h-1.45zM124.6 129.4h1.45v1.45h-1.45zM143.3 101.5h1.45v1.45h-1.45zM117.9 133.4h1.45v1.45h-1.45z" fill="rgb(255,255,255)"/>
<path d="M116.2 127.1h1.45v1.45h-1.45zM145.7 125.2h1.45v1.45h-1.45zM157.3 125.3h1.45v1.45h-1.45zM121.7 144.0h1.45v1.45h-1.45zM136.7 123.1h1.45v1.45h-1.45zM113.3 122.3h1.45v1.45h-1.45zM164.7 114.5h1.45v1.45h-1.45zM125.5 112.0h1.45v1.45h-1.45zM105.6 97.6h1.45v1.45h-1.45zM128.5 154.7h1.45v1.45h-1.45zM144.6 136.2h1.45v1.45h-1.45zM150.6 151.0h1.45v1.45h-1.45zM101.9 150.7h1.45v1.45h-1.45zM125.5 141.2h1.45v1.45h-1.45zM107.3 127.5h1.45v1.45h-1.45zM133.6 153.4h1.45v1.45h-1.45zM129.4 143.1h1.45v1.45h-1.45zM134.1 114.9h1.45v1.45h-1.45zM148.6 123.9h1.45v1.45h-1.45zM141.9 121.3h1.45v1.45h-1.45zM123.1 112.6h1.45v1.45h-1.45zM147.8 113.2h1.45v1.45h-1.45zM147.1 131.9h1.45v1.45h-1.45zM164.0 132.4h1.45v1.45h-1.45zM162.0 131.2h1.45v1.45h-1.45zM107.7 110.0h1.45v1.45h-1.45zM118.9 126.3h1.45v1.45h-1.45zM133.4 98.4h1.45v1.45h-1.45zM146.4 147.0h1.45v1.45h-1.45zM127.1 120.1h1.45v1.45h-1.45zM155.7 108.4h1.45v1.45h-1.45zM162.1 151.6h1.45v1.45h-1.45zM147.5 131.2h1.45v1.45h-1.45zM166.4 115.8h1.45v1.45h-1.45zM140.9 109.5h1.45v1.45h-1.45zM155.9 125.4h1.45v1.45h-1.45zM133.0 103.1h1.45v1.45h-1.45zM110.4 140.6h1.45v1.45h-1.45zM137.5 127.3h1.45v1.45h-1.45zM104.2 103.6h1.45v1.45h-1.45zM117.3 129.3h1.45v1.45h-1.45zM142.6 115.3h1.45v1.45h-1.45zM148.1 152.0h1.45v1.45h-1.45zM124.5 154.3h1.45v1.45h-1.45zM127.4 102.7h1.45v1.45h-1.45zM130.3 143.2h1.45v1.45h-1.45zM104.5 105.4h1.45v1.45h-1.45zM106.4 120.7h1.45v1.45h-1.45zM129.5 150.1h1.45v1.45h-1.45zM143.0 125.5h1.45v1.45h-1.45zM106.3 152.7h1.45v1.45h-1.45zM131.3 114.6h1.45v1.45h-1.45zM122.4 112.6h1.45v1.45h-1.45zM166.9 96.2h1.45v1.45h-1.45zM130.6 139.0h1.45v1.45h-1.45zM146.4 94.2h1.45v1.45h-1.45zM145.8 108.8h1.45v1.45h-1.45zM109.8 147.2h1.45v1.45h-1.45zM150.3 111.4h1.45v1.45h-1.45zM162.6 139.6h1.45v1.45h-1.45zM164.3 147.5h1.45v1.45h-1.45zM108.0 147.0h1.45v1.45h-1.45zM108.7 103.0h1.45v1.45h-1.45zM131.6 147.1h1.45v1.45h-1.45z" fill="rgb(200,200,200)"/>
<path d="M154.2 106.0h1.45v1.45h-1.45zM115.0 133.0h1.45v1.45h-1.45zM125.0 140.0h1.45v1.45h-1.45zM142.0 108.7h1.45v1.45h-1.45zM155.3 112.2h1.45v1.45h-1.45zM146.1 103.4h1.45v1.45h-1.45zM117.6 119.4h1.45v1.45h-1.45zM118.4 109.0h1.45v1.45h-1.45zM116.9 147.5h1.45v1.45h-1.45zM143.8 144.1h1.45v1.45h-1.45zM165.2 135.1h1.45v1.45h-1.45zM153.3 113.3h1.45v1.45h-1.45zM159.0 105.0h1.45v1.45h-1.45zM161.0 137.7h1.45v1.45h-1.45zM122.1 127.6h1.45v1.45h-1.45zM110.4 99.3h1.45v1.45h-1.45zM126.1 129.5h1.45v1.45h-1.45zM142.4 99.9h1.45v1.45h-1.45zM160.6 118.7h1.45v1.45h-1.45zM130.4 104.9h1.45v1.45h-1.45zM151.2 119.1h1.45v1.45h-1.45zM160.1 124.8h1.45v1.45h-1.45zM109.2 153.7h1.45v1.45h-1.45zM145.5 145.8h1.45v1.45h-1.45zM132.1 116.0h1.45v1.45h-1.45zM149.7 119.8h1.45v1.45h-1.45zM133.3 153.8h1.45v1.45h-1.45zM141.0 138.6h1.45v1.45h-1.45zM114.6 123.1h1.45v1.45h-1.45zM115.4 123.1h1.45v1.45h-1.45zM167.2 94.8h1.45v1.45h-1.45zM146.9 98.1h1.45v1.45h-1.45zM136.1 127.1h1.45v1.45h-1.45zM142.7 104.6h1.45v1.45h-1.45zM115.4 123.8h1.45v1.45h-1.45zM125.9 134.8h1.45v1.45h-1.45zM138.1 107.8h1.45v1.45h-1.45zM165.1 118.3h1.45v1.45h-1.45zM107.5 142.6h1.45v1.45h-1.45zM130.2 139.4h1.45v1.45h-1.45zM165.6 115.2h1.45v1.45h-1.45zM127.4 99.5h1.45v1.45h-1.45zM115.5 95.9h1.45v1.45h-1.45zM151.4 148.3h1.45v1.45h-1.45zM105.8 131.8h1.45v1.45h-1.45zM148.1 150.3h1.45v1.45h-1.45zM148.3 147.9h1.45v1.45h-1.45zM157.8 116.6h1.45v1.45h-1.45zM127.3 127.5h1.45v1.45h-1.45z" fill="rgb(150,150,150)"/>
</g>
<rect x="105.30" y="150.70" width="20.00" height="2.10" fill="#fff" stroke="none" stroke-width="1"/>
<rect x="22.20" y="160.20" width="68.60" height="64.20" fill="#1e1e1e" stroke="#3a3a3a" stroke-width="0.8"/>
<g filter="url(#soft)">
<path d="M65.6 216.1h1.4v1.4h-1.4zM63.5 168.8h1.4v1.4h-1.4zM23.2 202.5h1.4v1.4h-1.4zM26.7 220.7h1.4v1.4h-1.4zM72.2 212.7h1.4v1.4h-1.4zM77.2 188.9h1.4v1.4h-1.4zM26.7 217.1h1.4v1.4h-1.4zM55.4 212.3h1.4v1.4h-1.4zM32.8 212.7h1.4v1.4h-1.4zM39.4 202.1h1.4v1.4h-1.4zM51.9 200.8h1.4v1.4h-1.4zM31.8 180.4h1.4v1.4h-1.4zM30.5 211.9h1.4v1.4h-1.4zM76.3 200.3h1.4v1.4h-1.4zM82.8 184.6h1.4v1.4h-1.4zM68.6 187.5h1.4v1.4h-1.4zM74.2 216.7h1.4v1.4h-1.4zM85.5 204.6h1.4v1.4h-1.4zM42.2 217.2h1.4v1.4h-1.4zM63.1 186.3h1.4v1.4h-1.4zM34.8 204.7h1.4v1.4h-1.4zM31.2 197.4h1.4v1.4h-1.4zM32.2 199.2h1.4v1.4h-1.4zM51.1 189.5h1.4v1.4h-1.4zM39.7 178.0h1.4v1.4h-1.4zM24.6 175.1h1.4v1.4h-1.4zM49.4 193.5h1.4v1.4h-1.4zM28.7 208.3h1.4v1.4h-1.4zM43.5 168.9h1.4v1.4h-1.4zM76.4 186.7h1.4v1.4h-1.4zM35.1 184.8h1.4v1.4h-1.4zM67.6 193.0h1.4v1.4h-1.4zM81.2 174.0h1.4v1.4h-1.4zM54.3 167.2h1.4v1.4h-1.4zM64.0 220.1h1.4v1.4h-1.4zM38.6 201.8h1.4v1.4h-1.4zM87.6 194.1h1.4v1.4h-1.4zM66.7 168.5h1.4v1.4h-1.4zM35.1 187.3h1.4v1.4h-1.4zM40.3 214.6h1.4v1.4h-1.4zM55.4 214.3h1.4v1.4h-1.4zM63.1 198.5h1.4v1.4h-1.4zM64.7 205.3h1.4v1.4h-1.4zM34.8 218.7h1.4v1.4h-1.4zM31.7 171.3h1.4v1.4h-1.4zM26.4 205.1h1.4v1.4h-1.4zM50.2 220.8h1.4v1.4h-1.4zM23.1 218.8h1.4v1.4h-1.4zM58.1 190.3h1.4v1.4h-1.4zM48.2 200.5h1.4v1.4h-1.4zM24.6 209.7h1.4v1.4h-1.4zM33.9 219.3h1.4v1.4h-1.4zM67.7 208.1h1.4v1.4h-1.4zM29.2 198.1h1.4v1.4h-1.4zM32.8 187.0h1.4v1.4h-1.4zM28.2 170.2h1.4v1.4h-1.4zM77.0 175.1h1.4v1.4h-1.4zM29.2 205.7h1.4v1.4h-1.4zM52.3 205.9h1.4v1.4h-1.4zM30.1 207.2h1.4v1.4h-1.4zM70.7 189.0h1.4v1.4h-1.4zM35.6 221.2h1.4v1.4h-1.4zM34.5 205.1h1.4v1.4h-1.4zM71.8 197.3h1.4v1.4h-1.4zM68.3 165.8h1.4v1.4h-1.4zM53.6 194.4h1.4v1.4h-1.4zM55.7 179.0h1.4v1.4h-1.4zM44.7 202.9h1.4v1.4h-1.4zM70.4 207.8h1.4v1.4h-1.4zM42.6 210.7h1.4v1.4h-1.4zM84.8 182.7h1.4v1.4h-1.4zM30.7 193.1h1.4v1.4h-1.4zM57.2 183.4h1.4v1.4h-1.4zM36.7 213.2h1.4v1.4h-1.4zM26.0 215.4h1.4v1.4h-1.4zM31.8 219.0h1.4v1.4h-1.4zM45.8 182.1h1.4v1.4h-1.4z" fill="rgb(255,255,255)"/>
<path d="M60.7 161.8h1.4v1.4h-1.4zM33.5 209.8h1.4v1.4h-1.4zM80.2 173.8h1.4v1.4h-1.4zM36.4 218.6h1.4v1.4h-1.4zM30.1 206.8h1.4v1.4h-1.4zM34.6 165.8h1.4v1.4h-1.4zM26.2 221.4h1.4v1.4h-1.4zM46.8 204.1h1.4v1.4h-1.4zM42.3 218.9h1.4v1.4h-1.4zM70.3 162.7h1.4v1.4h-1.4zM38.6 216.3h1.4v1.4h-1.4zM25.4 198.6h1.4v1.4h-1.4zM85.9 211.1h1.4v1.4h-1.4zM32.3 197.5h1.4v1.4h-1.4zM46.0 215.7h1.4v1.4h-1.4zM30.1 195.6h1.4v1.4h-1.4zM47.7 187.4h1.4v1.4h-1.4zM42.1 220.5h1.4v1.4h-1.4zM86.1 216.9h1.4v1.4h-1.4zM31.0 199.0h1.4v1.4h-1.4zM42.2 198.2h1.4v1.4h-1.4zM30.8 207.5h1.4v1.4h-1.4zM78.9 173.0h1.4v1.4h-1.4zM76.3 165.2h1.4v1.4h-1.4zM88.5 203.9h1.4v1.4h-1.4zM63.8 163.7h1.4v1.4h-1.4zM47.9 165.4h1.4v1.4h-1.4zM31.8 187.4h1.4v1.4h-1.4zM32.9 199.6h1.4v1.4h-1.4zM80.5 190.4h1.4v1.4h-1.4zM67.7 174.7h1.4v1.4h-1.4zM48.9 166.9h1.4v1.4h-1.4zM25.1 217.6h1.4v1.4h-1.4zM70.8 171.0h1.4v1.4h-1.4zM49.3 220.6h1.4v1.4h-1.4zM71.0 204.9h1.4v1.4h-1.4zM87.9 192.8h1.4v1.4h-1.4zM55.2 218.3h1.4v1.4h-1.4zM43.1 164.1h1.4v1.4h-1.4zM60.9 176.0h1.4v1.4h-1.4zM69.0 163.9h1.4v1.4h-1.4zM72.8 196.2h1.4v1.4h-1.4zM67.3 178.5h1.4v1.4h-1.4zM73.1 195.1h1.4v1.4h-1.4zM38.2 187.2h1.4v1.4h-1.4zM77.2 205.5h1.4v1.4h-1.4zM86.6 197.5h1.4v1.4h-1.4zM38.8 182.5h1.4v1.4h-1.4zM77.6 191.0h1.4v1.4h-1.4zM63.9 210.0h1.4v1.4h-1.4zM23.7 192.3h1.4v1.4h-1.4zM58.7 185.1h1.4v1.4h-1.4zM77.8 219.6h1.4v1.4h-1.4zM58.7 184.0h1.4v1.4h-1.4zM27.7 207.5h1.4v1.4h-1.4zM52.0 189.9h1.4v1.4h-1.4zM72.6 215.6h1.4v1.4h-1.4zM24.2 211.7h1.4v1.4h-1.4zM62.3 169.3h1.4v1.4h-1.4zM83.4 218.4h1.4v1.4h-1.4zM69.1 166.5h1.4v1.4h-1.4zM38.8 195.8h1.4v1.4h-1.4zM54.6 204.2h1.4v1.4h-1.4zM63.0 209.5h1.4v1.4h-1.4zM32.4 220.2h1.4v1.4h-1.4zM40.2 211.7h1.4v1.4h-1.4zM48.5 199.5h1.4v1.4h-1.4zM81.9 171.8h1.4v1.4h-1.4zM26.4 206.3h1.4v1.4h-1.4zM85.3 167.8h1.4v1.4h-1.4zM67.9 166.7h1.4v1.4h-1.4zM40.0 179.3h1.4v1.4h-1.4zM53.5 170.5h1.4v1.4h-1.4zM28.8 182.6h1.4v1.4h-1.4zM82.8 169.9h1.4v1.4h-1.4zM65.0 219.5h1.4v1.4h-1.4zM73.5 181.6h1.4v1.4h-1.4zM49.8 181.2h1.4v1.4h-1.4zM50.3 174.8h1.4v1.4h-1.4zM30.5 193.9h1.4v1.4h-1.4zM87.8 194.2h1.4v1.4h-1.4zM57.7 169.5h1.4v1.4h-1.4zM83.2 196.1h1.4v1.4h-1.4zM41.6 206.5h1.4v1.4h-1.4zM33.7 203.8h1.4v1.4h-1.4zM78.0 202.4h1.4v1.4h-1.4zM73.6 212.2h1.4v1.4h-1.4zM36.3 220.6h1.4v1.4h-1.4zM30.0 189.0h1.4v1.4h-1.4zM42.7 205.6h1.4v1.4h-1.4zM52.6 186.0h1.4v1.4h-1.4zM35.5 181.0h1.4v1.4h-1.4zM32.4 178.6h1.4v1.4h-1.4zM34.2 187.1h1.4v1.4h-1.4zM37.4 201.7h1.4v1.4h-1.4zM43.3 202.5h1.4v1.4h-1.4zM83.1 199.9h1.4v1.4h-1.4zM27.7 202.3h1.4v1.4h-1.4zM84.1 178.9h1.4v1.4h-1.4zM45.7 218.8h1.4v1.4h-1.4zM80.2 164.6h1.4v1.4h-1.4zM78.5 195.9h1.4v1.4h-1.4zM80.7 179.7h1.4v1.4h-1.4zM26.0 191.6h1.4v1.4h-1.4zM52.9 163.0h1.4v1.4h-1.4zM34.1 177.5h1.4v1.4h-1.4zM82.8 195.1h1.4v1.4h-1.4zM40.1 189.0h1.4v1.4h-1.4zM62.4 200.5h1.4v1.4h-1.4zM52.3 195.3h1.4v1.4h-1.4zM29.7 217.9h1.4v1.4h-1.4zM68.6 199.2h1.4v1.4h-1.4zM75.7 211.7h1.4v1.4h-1.4zM43.9 191.6h1.4v1.4h-1.4zM42.2 199.5h1.4v1.4h-1.4zM32.4 209.1h1.4v1.4h-1.4zM82.6 216.6h1.4v1.4h-1.4zM38.6 222.0h1.4v1.4h-1.4zM23.7 202.3h1.4v1.4h-1.4zM77.9 197.3h1.4v1.4h-1.4zM54.7 215.2h1.4v1.4h-1.4zM82.6 202.7h1.4v1.4h-1.4z" fill="rgb(200,200,200)"/>
<path d="M87.4 214.4h1.4v1.4h-1.4zM86.4 215.7h1.4v1.4h-1.4zM46.7 171.2h1.4v1.4h-1.4zM43.3 211.1h1.4v1.4h-1.4zM23.6 163.9h1.4v1.4h-1.4zM84.0 218.7h1.4v1.4h-1.4zM68.2 222.0h1.4v1.4h-1.4zM70.9 190.3h1.4v1.4h-1.4zM55.8 181.7h1.4v1.4h-1.4zM33.9 212.2h1.4v1.4h-1.4zM68.0 199.6h1.4v1.4h-1.4zM53.9 174.8h1.4v1.4h-1.4zM40.0 221.0h1.4v1.4h-1.4zM23.9 193.6h1.4v1.4h-1.4zM84.4 208.9h1.4v1.4h-1.4zM71.9 197.2h1.4v1.4h-1.4zM81.2 194.4h1.4v1.4h-1.4zM40.3 194.8h1.4v1.4h-1.4zM72.2 192.6h1.4v1.4h-1.4zM28.6 201.9h1.4v1.4h-1.4zM45.9 184.6h1.4v1.4h-1.4zM54.6 207.5h1.4v1.4h-1.4zM48.3 214.9h1.4v1.4h-1.4zM53.9 218.9h1.4v1.4h-1.4zM43.5 189.6h1.4v1.4h-1.4zM41.8 183.9h1.4v1.4h-1.4zM70.8 203.9h1.4v1.4h-1.4zM76.3 184.4h1.4v1.4h-1.4zM73.3 218.3h1.4v1.4h-1.4zM37.1 178.0h1.4v1.4h-1.4zM63.6 185.5h1.4v1.4h-1.4zM43.1 217.9h1.4v1.4h-1.4zM82.4 179.5h1.4v1.4h-1.4zM62.7 220.2h1.4v1.4h-1.4zM62.6 172.3h1.4v1.4h-1.4zM33.3 166.7h1.4v1.4h-1.4zM41.3 219.4h1.4v1.4h-1.4zM40.8 189.8h1.4v1.4h-1.4zM81.9 215.2h1.4v1.4h-1.4zM58.8 205.8h1.4v1.4h-1.4zM40.3 218.9h1.4v1.4h-1.4zM74.4 212.2h1.4v1.4h-1.4zM26.3 220.5h1.4v1.4h-1.4zM27.2 204.9h1.4v1.4h-1.4zM80.1 164.8h1.4v1.4h-1.4zM81.8 192.0h1.4v1.4h-1.4zM60.1 178.7h1.4v1.4h-1.4zM84.6 189.5h1.4v1.4h-1.4zM83.3 178.3h1.4v1.4h-1.4zM79.0 201.5h1.4v1.4h-1.4zM63.3 209.7h1.4v1.4h-1.4zM38.6 211.7h1.4v1.4h-1.4zM52.2 203.0h1.4v1.4h-1.4zM40.1 212.4h1.4v1.4h-1.4zM24.3 215.1h1.4v1.4h-1.4zM29.6 183.6h1.4v1.4h-1.4zM80.9 204.7h1.4v1.4h-1.4zM44.5 203.0h1.4v1.4h-1.4zM62.6 197.1h1.4v1.4h-1.4zM41.7 201.2h1.4v1.4h-1.4zM34.6 190.0h1.4v1.4h-1.4zM74.1 179.8h1.4v1.4h-1.4zM57.5 163.8h1.4v1.4h-1.4zM87.9 209.2h1.4v1.4h-1.4zM39.2 165.0h1.4v1.4h-1.4zM77.8 208.9h1.4v1.4h-1.4zM60.6 178.3h1.4v1.4h-1.4zM79.1 209.4h1.4v1.4h-1.4zM36.5 217.4h1.4v1.4h-1.4zM57.2 212.3h1.4v1.4h-1.4zM35.5 217.8h1.4v1.4h-1.4zM46.9 161.0h1.4v1.4h-1.4zM25.9 215.8h1.4v1.4h-1.4zM87.8 194.9h1.4v1.4h-1.4zM39.0 186.9h1.4v1.4h-1.4z" fill="rgb(150,150,150)"/>
</g>
<rect x="26.60" y="217.50" width="20.00" height="2.10" fill="#fff" stroke="none" stroke-width="1"/>
<rect x="100.90" y="161.00" width="68.60" height="64.30" fill="#1a1a1a" stroke="#3a3a3a" stroke-width="0.8"/>
<g filter="url(#soft)">
<path d="M149.6 187.2h1.4v1.4h-1.4zM135.5 201.3h1.4v1.4h-1.4zM154.5 221.7h1.4v1.4h-1.4zM125.4 198.7h1.4v1.4h-1.4zM122.2 173.8h1.4v1.4h-1.4zM105.2 187.7h1.4v1.4h-1.4zM141.9 178.2h1.4v1.4h-1.4zM126.4 198.8h1.4v1.4h-1.4zM163.1 179.6h1.4v1.4h-1.4zM131.2 165.3h1.4v1.4h-1.4zM155.1 191.9h1.4v1.4h-1.4zM108.3 184.0h1.4v1.4h-1.4zM130.6 209.5h1.4v1.4h-1.4zM154.2 221.8h1.4v1.4h-1.4zM137.6 190.2h1.4v1.4h-1.4zM138.7 217.6h1.4v1.4h-1.4zM112.4 181.2h1.4v1.4h-1.4zM137.8 202.4h1.4v1.4h-1.4zM104.3 208.3h1.4v1.4h-1.4zM148.3 167.9h1.4v1.4h-1.4zM109.6 168.7h1.4v1.4h-1.4zM146.0 206.5h1.4v1.4h-1.4zM110.8 162.4h1.4v1.4h-1.4zM101.9 212.6h1.4v1.4h-1.4zM142.8 191.3h1.4v1.4h-1.4zM131.1 211.4h1.4v1.4h-1.4zM163.9 211.4h1.4v1.4h-1.4zM109.6 198.1h1.4v1.4h-1.4zM158.8 214.2h1.4v1.4h-1.4zM118.2 169.9h1.4v1.4h-1.4zM121.7 166.9h1.4v1.4h-1.4zM166.0 202.6h1.4v1.4h-1.4zM161.5 178.6h1.4v1.4h-1.4zM131.6 165.6h1.4v1.4h-1.4zM108.4 213.0h1.4v1.4h-1.4zM132.5 186.6h1.4v1.4h-1.4zM165.3 203.4h1.4v1.4h-1.4zM116.0 206.5h1.4v1.4h-1.4zM156.6 177.3h1.4v1.4h-1.4zM165.3 180.2h1.4v1.4h-1.4zM126.0 222.7h1.4v1.4h-1.4zM160.5 171.8h1.4v1.4h-1.4zM130.5 194.5h1.4v1.4h-1.4zM160.3 176.5h1.4v1.4h-1.4zM108.2 163.3h1.4v1.4h-1.4zM109.1 202.8h1.4v1.4h-1.4zM144.2 198.1h1.4v1.4h-1.4zM125.6 192.4h1.4v1.4h-1.4zM128.7 197.9h1.4v1.4h-1.4zM146.1 190.5h1.4v1.4h-1.4zM131.5 223.1h1.4v1.4h-1.4zM124.4 201.7h1.4v1.4h-1.4zM103.7 201.3h1.4v1.4h-1.4zM133.4 219.1h1.4v1.4h-1.4zM129.1 183.7h1.4v1.4h-1.4zM126.0 208.1h1.4v1.4h-1.4zM138.5 192.6h1.4v1.4h-1.4zM128.3 183.8h1.4v1.4h-1.4zM140.8 202.0h1.4v1.4h-1.4zM106.0 194.6h1.4v1.4h-1.4zM140.9 222.7h1.4v1.4h-1.4zM103.5 183.5h1.4v1.4h-1.4zM126.2 186.7h1.4v1.4h-1.4zM117.4 218.6h1.4v1.4h-1.4zM143.6 213.4h1.4v1.4h-1.4zM148.0 208.9h1.4v1.4h-1.4zM104.9 179.9h1.4v1.4h-1.4zM158.9 178.3h1.4v1.4h-1.4zM161.2 221.3h1.4v1.4h-1.4zM105.2 178.6h1.4v1.4h-1.4zM117.9 177.1h1.4v1.4h-1.4zM119.6 171.4h1.4v1.4h-1.4zM126.7 200.5h1.4v1.4h-1.4zM142.5 163.1h1.4v1.4h-1.4zM136.0 169.1h1.4v1.4h-1.4zM159.3 199.9h1.4v1.4h-1.4zM164.6 179.0h1.4v1.4h-1.4zM146.2 217.2h1.4v1.4h-1.4zM121.2 211.2h1.4v1.4h-1.4zM108.6 190.2h1.4v1.4h-1.4zM132.6 189.5h1.4v1.4h-1.4zM152.7 215.7h1.4v1.4h-1.4zM144.8 195.6h1.4v1.4h-1.4zM140.3 222.7h1.4v1.4h-1.4zM107.3 218.7h1.4v1.4h-1.4zM144.6 219.9h1.4v1.4h-1.4zM144.3 199.4h1.4v1.4h-1.4zM140.6 221.5h1.4v1.4h-1.4zM102.3 192.4h1.4v1.4h-1.4zM138.7 176.1h1.4v1.4h-1.4zM153.0 185.8h1.4v1.4h-1.4zM159.9 168.3h1.4v1.4h-1.4zM132.4 204.2h1.4v1.4h-1.4zM142.7 168.9h1.4v1.4h-1.4zM110.5 208.4h1.4v1.4h-1.4zM102.4 180.3h1.4v1.4h-1.4zM155.6 209.1h1.4v1.4h-1.4zM164.4 212.6h1.4v1.4h-1.4zM111.1 175.0h1.4v1.4h-1.4zM137.5 180.5h1.4v1.4h-1.4zM116.7 176.6h1.4v1.4h-1.4zM114.9 201.2h1.4v1.4h-1.4zM105.6 189.2h1.4v1.4h-1.4zM101.9 186.6h1.4v1.4h-1.4zM117.6 211.4h1.4v1.4h-1.4zM106.3 163.4h1.4v1.4h-1.4zM116.4 216.9h1.4v1.4h-1.4zM112.1 195.0h1.4v1.4h-1.4zM138.4 186.2h1.4v1.4h-1.4zM153.4 210.5h1.4v1.4h-1.4zM106.9 217.6h1.4v1.4h-1.4zM164.4 213.2h1.4v1.4h-1.4zM123.8 178.4h1.4v1.4h-1.4zM130.8 211.1h1.4v1.4h-1.4zM125.8 208.2h1.4v1.4h-1.4zM117.1 180.2h1.4v1.4h-1.4zM106.3 193.9h1.4v1.4h-1.4zM118.0 190.7h1.4v1.4h-1.4zM145.0 209.9h1.4v1.4h-1.4zM135.6 175.3h1.4v1.4h-1.4zM121.2 170.6h1.4v1.4h-1.4zM156.5 220.3h1.4v1.4h-1.4zM142.9 186.8h1.4v1.4h-1.4zM134.8 207.0h1.4v1.4h-1.4z" fill="rgb(255,255,255)"/>
<path d="M153.7 212.2h1.4v1.4h-1.4zM130.9 167.5h1.4v1.4h-1.4zM110.8 174.7h1.4v1.4h-1.4zM142.4 180.6h1.4v1.4h-1.4zM127.8 221.9h1.4v1.4h-1.4zM165.9 216.5h1.4v1.4h-1.4zM148.0 186.9h1.4v1.4h-1.4zM150.7 178.1h1.4v1.4h-1.4zM153.1 172.4h1.4v1.4h-1.4zM109.8 197.9h1.4v1.4h-1.4zM133.1 170.5h1.4v1.4h-1.4zM121.8 211.1h1.4v1.4h-1.4zM143.0 204.8h1.4v1.4h-1.4zM131.4 204.3h1.4v1.4h-1.4zM119.8 205.5h1.4v1.4h-1.4zM162.2 163.8h1.4v1.4h-1.4zM155.3 200.9h1.4v1.4h-1.4zM164.0 204.8h1.4v1.4h-1.4zM106.6 166.3h1.4v1.4h-1.4zM103.7 194.0h1.4v1.4h-1.4zM139.2 210.0h1.4v1.4h-1.4zM144.0 211.2h1.4v1.4h-1.4zM145.4 221.4h1.4v1.4h-1.4zM120.5 189.0h1.4v1.4h-1.4zM115.7 198.1h1.4v1.4h-1.4zM148.2 203.7h1.4v1.4h-1.4zM107.8 198.3h1.4v1.4h-1.4zM130.3 212.8h1.4v1.4h-1.4zM140.5 178.5h1.4v1.4h-1.4zM152.1 218.6h1.4v1.4h-1.4zM135.8 209.4h1.4v1.4h-1.4zM154.0 165.9h1.4v1.4h-1.4zM146.8 209.6h1.4v1.4h-1.4zM161.8 172.5h1.4v1.4h-1.4zM143.0 214.5h1.4v1.4h-1.4zM131.6 211.1h1.4v1.4h-1.4zM149.0 185.3h1.4v1.4h-1.4zM136.6 213.2h1.4v1.4h-1.4zM107.6 215.4h1.4v1.4h-1.4zM113.8 173.0h1.4v1.4h-1.4zM116.2 185.4h1.4v1.4h-1.4zM129.9 197.6h1.4v1.4h-1.4zM165.5 191.4h1.4v1.4h-1.4zM135.0 166.6h1.4v1.4h-1.4zM119.0 161.9h1.4v1.4h-1.4zM122.0 185.6h1.4v1.4h-1.4zM157.6 205.8h1.4v1.4h-1.4zM158.4 217.0h1.4v1.4h-1.4zM153.8 170.1h1.4v1.4h-1.4zM119.8 172.6h1.4v1.4h-1.4zM142.0 173.6h1.4v1.4h-1.4zM128.4 186.1h1.4v1.4h-1.4zM161.4 184.9h1.4v1.4h-1.4zM140.4 190.7h1.4v1.4h-1.4zM159.8 199.0h1.4v1.4h-1.4zM106.3 197.8h1.4v1.4h-1.4zM136.9 212.7h1.4v1.4h-1.4zM154.4 162.2h1.4v1.4h-1.4zM115.2 222.9h1.4v1.4h-1.4zM161.7 214.2h1.4v1.4h-1.4zM114.4 222.5h1.4v1.4h-1.4zM139.0 191.3h1.4v1.4h-1.4zM152.3 162.4h1.4v1.4h-1.4zM103.6 168.2h1.4v1.4h-1.4zM140.7 201.9h1.4v1.4h-1.4zM120.3 180.2h1.4v1.4h-1.4zM134.6 200.4h1.4v1.4h-1.4zM102.5 174.7h1.4v1.4h-1.4zM165.2 213.1h1.4v1.4h-1.4zM127.2 183.3h1.4v1.4h-1.4zM112.8 172.6h1.4v1.4h-1.4zM110.0 210.7h1.4v1.4h-1.4zM123.2 200.9h1.4v1.4h-1.4zM138.5 198.4h1.4v1.4h-1.4zM129.5 193.0h1.4v1.4h-1.4zM149.6 209.7h1.4v1.4h-1.4zM114.9 171.6h1.4v1.4h-1.4zM117.8 170.7h1.4v1.4h-1.4zM143.5 208.9h1.4v1.4h-1.4zM118.6 200.7h1.4v1.4h-1.4zM165.8 184.2h1.4v1.4h-1.4zM128.0 200.9h1.4v1.4h-1.4zM157.9 205.5h1.4v1.4h-1.4zM134.9 162.9h1.4v1.4h-1.4zM114.4 222.1h1.4v1.4h-1.4zM108.6 175.1h1.4v1.4h-1.4zM106.4 163.3h1.4v1.4h-1.4zM161.8 210.1h1.4v1.4h-1.4zM114.9 183.0h1.4v1.4h-1.4zM122.9 206.8h1.4v1.4h-1.4zM155.0 189.9h1.4v1.4h-1.4zM166.2 211.5h1.4v1.4h-1.4zM109.3 193.7h1.4v1.4h-1.4zM163.1 185.3h1.4v1.4h-1.4zM157.2 170.9h1.4v1.4h-1.4zM131.4 211.4h1.4v1.4h-1.4zM102.8 165.2h1.4v1.4h-1.4zM107.7 172.0h1.4v1.4h-1.4zM146.7 204.6h1.4v1.4h-1.4zM158.1 213.8h1.4v1.4h-1.4zM151.2 216.7h1.4v1.4h-1.4zM102.4 218.1h1.4v1.4h-1.4zM156.2 200.7h1.4v1.4h-1.4zM129.6 184.6h1.4v1.4h-1.4zM141.7 213.8h1.4v1.4h-1.4zM165.9 206.1h1.4v1.4h-1.4zM133.2 179.2h1.4v1.4h-1.4zM127.2 216.5h1.4v1.4h-1.4zM151.0 210.1h1.4v1.4h-1.4zM120.1 185.9h1.4v1.4h-1.4zM112.9 201.8h1.4v1.4h-1.4zM138.1 191.8h1.4v1.4h-1.4zM162.0 221.7h1.4v1.4h-1.4zM159.4 217.3h1.4v1.4h-1.4zM161.4 205.5h1.4v1.4h-1.4zM102.9 213.0h1.4v1.4h-1.4zM103.0 213.3h1.4v1.4h-1.4zM131.2 182.4h1.4v1.4h-1.4zM163.5 214.7h1.4v1.4h-1.4zM159.5 219.7h1.4v1.4h-1.4zM118.3 219.6h1.4v1.4h-1.4zM126.5 199.4h1.4v1.4h-1.4zM160.5 166.0h1.4v1.4h-1.4zM130.1 167.9h1.4v1.4h-1.4zM145.9 203.5h1.4v1.4h-1.4zM124.1 203.5h1.4v1.4h-1.4zM121.0 214.2h1.4v1.4h-1.4zM127.3 197.8h1.4v1.4h-1.4zM103.6 187.8h1.4v1.4h-1.4zM121.2 162.0h1.4v1.4h-1.4zM114.4 172.3h1.4v1.4h-1.4zM165.5 192.0h1.4v1.4h-1.4zM134.9 189.1h1.4v1.4h-1.4zM117.8 218.5h1.4v1.4h-1.4zM161.9 217.7h1.4v1.4h-1.4zM102.4 173.4h1.4v1.4h-1.4zM157.2 209.6h1.4v1.4h-1.4zM128.6 200.9h1.4v1.4h-1.4zM123.5 172.3h1.4v1.4h-1.4zM132.6 180.6h1.4v1.4h-1.4zM128.6 188.6h1.4v1.4h-1.4zM108.8 220.3h1.4v1.4h-1.4zM145.8 210.4h1.4v1.4h-1.4zM165.3 183.0h1.4v1.4h-1.4zM125.9 171.5h1.4v1.4h-1.4zM130.9 169.5h1.4v1.4h-1.4zM148.5 206.5h1.4v1.4h-1.4zM107.4 199.6h1.4v1.4h-1.4zM108.1 175.4h1.4v1.4h-1.4zM145.3 173.0h1.4v1.4h-1.4zM102.9 220.5h1.4v1.4h-1.4zM110.4 177.9h1.4v1.4h-1.4zM140.6 191.5h1.4v1.4h-1.4zM133.5 212.0h1.4v1.4h-1.4zM164.3 208.3h1.4v1.4h-1.4zM108.8 208.5h1.4v1.4h-1.4zM147.7 182.2h1.4v1.4h-1.4zM163.7 208.6h1.4v1.4h-1.4zM103.3 173.4h1.4v1.4h-1.4zM110.5 190.3h1.4v1.4h-1.4zM107.4 201.8h1.4v1.4h-1.4zM123.0 182.2h1.4v1.4h-1.4zM150.9 181.1h1.4v1.4h-1.4zM157.0 198.0h1.4v1.4h-1.4zM139.9 180.5h1.4v1.4h-1.4zM120.6 182.9h1.4v1.4h-1.4zM162.6 185.8h1.4v1.4h-1.4z" fill="rgb(200,200,200)"/>
<path d="M118.9 161.8h1.4v1.4h-1.4zM132.5 208.4h1.4v1.4h-1.4zM146.7 213.6h1.4v1.4h-1.4zM153.9 193.5h1.4v1.4h-1.4zM105.8 173.6h1.4v1.4h-1.4zM142.7 199.0h1.4v1.4h-1.4zM142.9 167.8h1.4v1.4h-1.4zM120.1 221.0h1.4v1.4h-1.4zM103.8 172.4h1.4v1.4h-1.4zM106.8 206.6h1.4v1.4h-1.4zM120.2 171.1h1.4v1.4h-1.4zM127.2 175.5h1.4v1.4h-1.4zM114.0 181.7h1.4v1.4h-1.4zM142.7 185.4h1.4v1.4h-1.4zM158.1 209.5h1.4v1.4h-1.4zM126.9 198.2h1.4v1.4h-1.4zM110.7 216.2h1.4v1.4h-1.4zM158.2 194.3h1.4v1.4h-1.4zM157.8 184.0h1.4v1.4h-1.4zM140.5 215.0h1.4v1.4h-1.4zM111.9 192.8h1.4v1.4h-1.4zM149.8 221.3h1.4v1.4h-1.4zM106.3 169.2h1.4v1.4h-1.4zM131.4 221.9h1.4v1.4h-1.4zM134.2 194.7h1.4v1.4h-1.4zM104.0 162.7h1.4v1.4h-1.4zM121.7 171.2h1.4v1.4h-1.4zM125.3 202.0h1.4v1.4h-1.4zM127.9 191.8h1.4v1.4h-1.4zM141.8 191.7h1.4v1.4h-1.4zM116.3 183.4h1.4v1.4h-1.4zM165.8 193.4h1.4v1.4h-1.4zM125.5 217.6h1.4v1.4h-1.4zM165.3 211.5h1.4v1.4h-1.4zM142.3 187.4h1.4v1.4h-1.4zM157.3 183.4h1.4v1.4h-1.4zM145.9 201.0h1.4v1.4h-1.4zM115.8 174.5h1.4v1.4h-1.4zM103.8 188.7h1.4v1.4h-1.4zM119.4 209.7h1.4v1.4h-1.4zM141.4 193.9h1.4v1.4h-1.4zM120.4 209.6h1.4v1.4h-1.4zM109.2 211.8h1.4v1.4h-1.4zM146.7 168.0h1.4v1.4h-1.4zM119.6 194.8h1.4v1.4h-1.4zM135.2 213.9h1.4v1.4h-1.4zM162.0 171.4h1.4v1.4h-1.4zM157.6 219.6h1.4v1.4h-1.4zM120.9 161.9h1.4v1.4h-1.4zM110.1 162.0h1.4v1.4h-1.4zM123.4 218.1h1.4v1.4h-1.4zM129.0 177.8h1.4v1.4h-1.4zM149.9 171.9h1.4v1.4h-1.4zM111.9 172.7h1.4v1.4h-1.4zM117.8 201.9h1.4v1.4h-1.4zM158.7 207.5h1.4v1.4h-1.4zM109.6 219.6h1.4v1.4h-1.4zM122.3 195.6h1.4v1.4h-1.4zM136.0 192.0h1.4v1.4h-1.4zM166.4 198.2h1.4v1.4h-1.4zM104.4 195.4h1.4v1.4h-1.4zM136.9 179.7h1.4v1.4h-1.4zM145.2 199.4h1.4v1.4h-1.4zM133.2 223.0h1.4v1.4h-1.4zM129.5 189.2h1.4v1.4h-1.4zM125.6 184.5h1.4v1.4h-1.4zM162.1 163.4h1.4v1.4h-1.4zM114.7 164.5h1.4v1.4h-1.4zM137.3 202.0h1.4v1.4h-1.4zM134.2 213.7h1.4v1.4h-1.4zM118.6 175.5h1.4v1.4h-1.4zM146.1 179.2h1.4v1.4h-1.4zM120.2 213.8h1.4v1.4h-1.4zM143.9 203.9h1.4v1.4h-1.4zM154.4 188.9h1.4v1.4h-1.4zM114.3 189.7h1.4v1.4h-1.4zM129.2 201.5h1.4v1.4h-1.4zM152.4 186.0h1.4v1.4h-1.4zM110.4 202.2h1.4v1.4h-1.4zM163.7 208.4h1.4v1.4h-1.4zM131.2 165.4h1.4v1.4h-1.4zM116.6 174.6h1.4v1.4h-1.4zM113.5 168.6h1.4v1.4h-1.4zM159.8 206.3h1.4v1.4h-1.4zM150.9 189.3h1.4v1.4h-1.4zM109.2 164.8h1.4v1.4h-1.4zM128.8 211.6h1.4v1.4h-1.4zM111.2 199.8h1.4v1.4h-1.4zM158.7 193.0h1.4v1.4h-1.4zM108.0 209.9h1.4v1.4h-1.4zM147.7 166.1h1.4v1.4h-1.4zM146.1 213.8h1.4v1.4h-1.4zM123.7 218.5h1.4v1.4h-1.4zM117.1 183.1h1.4v1.4h-1.4zM114.8 192.8h1.4v1.4h-1.4zM133.8 178.1h1.4v1.4h-1.4zM105.9 222.9h1.4v1.4h-1.4zM139.0 202.2h1.4v1.4h-1.4zM131.6 171.7h1.4v1.4h-1.4zM151.4 182.6h1.4v1.4h-1.4zM115.2 162.0h1.4v1.4h-1.4zM161.0 175.7h1.4v1.4h-1.4zM155.4 194.9h1.4v1.4h-1.4zM150.0 190.7h1.4v1.4h-1.4zM147.1 202.5h1.4v1.4h-1.4zM125.4 196.2h1.4v1.4h-1.4zM121.9 200.0h1.4v1.4h-1.4zM156.9 213.7h1.4v1.4h-1.4zM146.7 215.3h1.4v1.4h-1.4zM158.5 216.3h1.4v1.4h-1.4zM124.8 180.5h1.4v1.4h-1.4zM157.0 171.4h1.4v1.4h-1.4zM125.2 188.5h1.4v1.4h-1.4zM145.4 191.2h1.4v1.4h-1.4zM111.7 201.4h1.4v1.4h-1.4zM120.0 219.9h1.4v1.4h-1.4zM165.0 176.3h1.4v1.4h-1.4z" fill="rgb(150,150,150)"/>
</g>
<rect x="105.30" y="218.30" width="20.00" height="2.10" fill="#fff" stroke="none" stroke-width="1"/>
<rect x="22.20" y="227.50" width="68.60" height="64.20" fill="#1e1e1e" stroke="#3a3a3a" stroke-width="0.8"/>
<g filter="url(#soft)">
<path d="M58.0 250.6h1.6v1.6h-1.6zM31.1 241.9h1.6v1.6h-1.6zM60.7 252.5h1.6v1.6h-1.6zM32.4 235.5h1.6v1.6h-1.6zM34.8 263.8h1.6v1.6h-1.6z" fill="rgb(255,255,255)"/>
<path d="M65.6 232.7h1.6v1.6h-1.6zM26.8 259.3h1.6v1.6h-1.6zM25.5 254.8h1.6v1.6h-1.6zM86.8 231.1h1.6v1.6h-1.6zM43.2 278.1h1.6v1.6h-1.6zM64.8 251.0h1.6v1.6h-1.6zM26.9 240.9h1.6v1.6h-1.6zM43.5 264.0h1.6v1.6h-1.6zM52.6 246.6h1.6v1.6h-1.6z" fill="rgb(200,200,200)"/>
<path d="M44.2 237.5h1.6v1.6h-1.6zM27.6 233.8h1.6v1.6h-1.6zM50.8 278.7h1.6v1.6h-1.6zM64.0 286.1h1.6v1.6h-1.6zM79.1 246.0h1.6v1.6h-1.6zM58.8 232.1h1.6v1.6h-1.6zM67.5 254.4h1.6v1.6h-1.6z" fill="rgb(150,150,150)"/>
</g>
<rect x="26.60" y="285.30" width="20.00" height="2.10" fill="#fff" stroke="none" stroke-width="1"/>
<rect x="100.90" y="228.80" width="68.60" height="64.30" fill="#060606" stroke="#3a3a3a" stroke-width="0.8"/>
<g filter="url(#soft)">
<path d="M167.0 242.4h1.6v1.6h-1.6zM131.3 259.8h1.6v1.6h-1.6zM103.0 245.9h1.6v1.6h-1.6zM118.6 290.2h1.6v1.6h-1.6zM123.8 271.8h1.6v1.6h-1.6zM160.6 265.1h1.6v1.6h-1.6zM159.3 247.1h1.6v1.6h-1.6zM125.0 283.3h1.6v1.6h-1.6zM110.5 276.3h1.6v1.6h-1.6zM108.1 271.8h1.6v1.6h-1.6zM116.1 244.5h1.6v1.6h-1.6zM102.5 250.6h1.6v1.6h-1.6zM119.2 255.5h1.6v1.6h-1.6z" fill="rgb(255,255,255)"/>
<path d="M116.5 288.4h1.6v1.6h-1.6zM143.7 257.7h1.6v1.6h-1.6zM114.3 280.3h1.6v1.6h-1.6zM126.5 236.5h1.6v1.6h-1.6zM126.4 270.0h1.6v1.6h-1.6zM134.2 269.3h1.6v1.6h-1.6zM111.0 233.5h1.6v1.6h-1.6zM163.6 259.5h1.6v1.6h-1.6zM114.4 287.4h1.6v1.6h-1.6zM139.6 274.1h1.6v1.6h-1.6zM147.6 287.6h1.6v1.6h-1.6zM156.9 260.4h1.6v1.6h-1.6zM136.3 260.7h1.6v1.6h-1.6z" fill="rgb(200,200,200)"/>
<path d="M110.0 272.7h1.6v1.6h-1.6zM107.3 244.7h1.6v1.6h-1.6zM107.6 243.9h1.6v1.6h-1.6zM128.4 284.7h1.6v1.6h-1.6zM105.8 267.5h1.6v1.6h-1.6zM114.6 238.8h1.6v1.6h-1.6zM106.4 284.8h1.6v1.6h-1.6zM134.9 272.4h1.6v1.6h-1.6z" fill="rgb(150,150,150)"/>
</g>
<rect x="105.30" y="286.60" width="20.00" height="2.10" fill="#fff" stroke="none" stroke-width="1"/>
<text x="342.80" y="12.90" font-size="16" font-weight="bold" font-style="normal" text-anchor="start" fill="#000">c</text>
<text x="398.90" y="15.20" font-size="11.2" font-weight="bold" font-style="normal" text-anchor="middle" fill="#000">Veh</text>
<text x="478.80" y="15.10" font-size="11.0" font-weight="bold" font-style="normal" text-anchor="middle" fill="#ee7b35">Abema</text>
<line x1="365.60" y1="20.10" x2="432.90" y2="20.10" stroke="#000" stroke-width="1.6"/>
<line x1="444.90" y1="20.10" x2="512.60" y2="20.10" stroke="#ee7b35" stroke-width="1.6"/>
<line x1="439.50" y1="2.90" x2="439.50" y2="301.50" stroke="#000" stroke-width="1.0" stroke-dasharray="3.3,2.4"/>
<line x1="360.80" y1="25.80" x2="360.80" y2="82.80" stroke="#000" stroke-width="1.3"/>
<text x="355.70" y="54.40" font-size="10.1" font-weight="normal" font-style="normal" text-anchor="middle" fill="#000" transform="rotate(-90 355.7 54.400000000000006)">Veh</text>
<line x1="360.80" y1="93.00" x2="360.80" y2="150.00" stroke="#000" stroke-width="1.3"/>
<text x="355.70" y="121.60" font-size="10.1" font-weight="normal" font-style="normal" text-anchor="middle" fill="#000" transform="rotate(-90 355.7 121.6)">Cisplatin</text>
<line x1="360.80" y1="161.00" x2="360.80" y2="218.00" stroke="#000" stroke-width="1.3"/>
<text x="355.70" y="189.60" font-size="10.1" font-weight="normal" font-style="normal" text-anchor="middle" fill="#000" transform="rotate(-90 355.7 189.6)">5-FU</text>
<line x1="360.80" y1="228.20" x2="360.80" y2="285.20" stroke="#000" stroke-width="1.3"/>
<text x="355.70" y="256.80" font-size="10.1" font-weight="normal" font-style="normal" text-anchor="middle" fill="#000" transform="rotate(-90 355.7 256.8)">Dox</text>
<rect x="365.60" y="24.80" width="69.30" height="64.00" fill="#242424" stroke="#3a3a3a" stroke-width="0.8"/>
<g filter="url(#soft)">
<path d="M397.4 56.7h1.15v1.15h-1.15zM419.2 31.4h1.15v1.15h-1.15zM379.1 40.4h1.15v1.15h-1.15zM380.4 81.4h1.15v1.15h-1.15zM408.3 73.3h1.15v1.15h-1.15zM416.8 32.8h1.15v1.15h-1.15zM419.9 44.2h1.15v1.15h-1.15zM380.4 49.7h1.15v1.15h-1.15zM430.2 55.2h1.15v1.15h-1.15zM426.9 75.7h1.15v1.15h-1.15zM406.1 43.6h1.15v1.15h-1.15zM385.0 81.8h1.15v1.15h-1.15zM412.4 61.4h1.15v1.15h-1.15zM387.6 86.8h1.15v1.15h-1.15zM415.5 68.7h1.15v1.15h-1.15zM419.0 78.5h1.15v1.15h-1.15zM408.0 49.0h1.15v1.15h-1.15zM395.7 77.0h1.15v1.15h-1.15zM379.6 52.0h1.15v1.15h-1.15zM419.1 26.8h1.15v1.15h-1.15zM382.2 34.2h1.15v1.15h-1.15zM412.0 37.8h1.15v1.15h-1.15zM409.7 38.1h1.15v1.15h-1.15zM431.4 58.5h1.15v1.15h-1.15zM368.3 75.2h1.15v1.15h-1.15zM412.3 83.5h1.15v1.15h-1.15zM401.4 43.4h1.15v1.15h-1.15zM403.7 44.7h1.15v1.15h-1.15zM412.4 29.6h1.15v1.15h-1.15zM398.1 45.0h1.15v1.15h-1.15zM401.6 35.4h1.15v1.15h-1.15zM370.5 83.9h1.15v1.15h-1.15zM393.4 37.6h1.15v1.15h-1.15zM408.3 50.4h1.15v1.15h-1.15zM418.2 75.5h1.15v1.15h-1.15zM414.5 29.9h1.15v1.15h-1.15zM397.6 26.2h1.15v1.15h-1.15zM392.3 86.8h1.15v1.15h-1.15zM383.1 81.1h1.15v1.15h-1.15zM432.6 64.7h1.15v1.15h-1.15zM394.4 57.9h1.15v1.15h-1.15zM392.4 80.6h1.15v1.15h-1.15zM406.6 32.6h1.15v1.15h-1.15zM401.5 33.2h1.15v1.15h-1.15zM410.8 53.5h1.15v1.15h-1.15zM415.3 40.2h1.15v1.15h-1.15zM390.3 42.2h1.15v1.15h-1.15zM416.5 37.2h1.15v1.15h-1.15zM394.7 63.8h1.15v1.15h-1.15zM394.6 41.4h1.15v1.15h-1.15zM427.7 51.8h1.15v1.15h-1.15zM374.2 69.0h1.15v1.15h-1.15zM395.5 74.8h1.15v1.15h-1.15zM419.4 58.7h1.15v1.15h-1.15zM425.0 42.8h1.15v1.15h-1.15zM400.7 58.9h1.15v1.15h-1.15zM382.7 39.1h1.15v1.15h-1.15zM388.9 84.9h1.15v1.15h-1.15zM399.3 58.5h1.15v1.15h-1.15zM413.5 81.6h1.15v1.15h-1.15zM381.3 36.9h1.15v1.15h-1.15zM402.9 75.6h1.15v1.15h-1.15zM383.7 78.8h1.15v1.15h-1.15zM402.0 34.8h1.15v1.15h-1.15zM423.5 44.2h1.15v1.15h-1.15zM394.1 81.8h1.15v1.15h-1.15zM386.7 54.2h1.15v1.15h-1.15zM391.5 69.1h1.15v1.15h-1.15zM407.4 43.4h1.15v1.15h-1.15zM367.6 45.9h1.15v1.15h-1.15zM409.7 32.1h1.15v1.15h-1.15zM407.1 35.3h1.15v1.15h-1.15zM426.5 59.2h1.15v1.15h-1.15zM382.7 60.9h1.15v1.15h-1.15zM375.4 81.0h1.15v1.15h-1.15zM419.9 26.6h1.15v1.15h-1.15zM404.3 36.2h1.15v1.15h-1.15zM412.3 72.0h1.15v1.15h-1.15zM416.4 44.3h1.15v1.15h-1.15zM404.1 80.9h1.15v1.15h-1.15zM397.9 38.2h1.15v1.15h-1.15zM379.8 64.3h1.15v1.15h-1.15zM425.0 28.7h1.15v1.15h-1.15zM371.7 39.3h1.15v1.15h-1.15zM413.7 37.6h1.15v1.15h-1.15zM369.4 62.3h1.15v1.15h-1.15zM426.1 86.1h1.15v1.15h-1.15zM403.4 65.1h1.15v1.15h-1.15zM414.0 60.7h1.15v1.15h-1.15zM399.4 52.2h1.15v1.15h-1.15zM426.8 60.4h1.15v1.15h-1.15zM387.1 28.2h1.15v1.15h-1.15zM409.6 29.2h1.15v1.15h-1.15zM412.6 78.5h1.15v1.15h-1.15zM380.7 46.9h1.15v1.15h-1.15zM403.0 35.6h1.15v1.15h-1.15zM392.6 40.2h1.15v1.15h-1.15zM387.2 51.6h1.15v1.15h-1.15zM380.0 42.8h1.15v1.15h-1.15zM431.3 43.9h1.15v1.15h-1.15zM391.9 45.7h1.15v1.15h-1.15zM394.5 34.8h1.15v1.15h-1.15zM413.1 59.5h1.15v1.15h-1.15zM399.4 61.5h1.15v1.15h-1.15zM431.4 34.8h1.15v1.15h-1.15zM382.3 55.8h1.15v1.15h-1.15zM402.9 63.8h1.15v1.15h-1.15zM421.7 84.9h1.15v1.15h-1.15zM414.0 68.2h1.15v1.15h-1.15zM430.5 76.1h1.15v1.15h-1.15zM407.8 55.7h1.15v1.15h-1.15zM391.0 43.1h1.15v1.15h-1.15zM374.8 29.5h1.15v1.15h-1.15zM373.2 68.8h1.15v1.15h-1.15zM396.5 72.9h1.15v1.15h-1.15zM383.2 69.4h1.15v1.15h-1.15zM402.5 55.2h1.15v1.15h-1.15zM385.3 49.6h1.15v1.15h-1.15zM428.5 41.0h1.15v1.15h-1.15zM398.6 51.0h1.15v1.15h-1.15zM410.1 63.8h1.15v1.15h-1.15zM416.5 44.6h1.15v1.15h-1.15zM419.1 70.6h1.15v1.15h-1.15zM432.0 31.8h1.15v1.15h-1.15zM410.1 75.3h1.15v1.15h-1.15zM426.6 45.3h1.15v1.15h-1.15zM388.7 71.0h1.15v1.15h-1.15zM373.6 86.1h1.15v1.15h-1.15zM413.4 36.5h1.15v1.15h-1.15zM425.5 78.1h1.15v1.15h-1.15zM381.7 62.4h1.15v1.15h-1.15zM415.4 86.2h1.15v1.15h-1.15z" fill="rgb(225,225,225)"/>
<path d="M378.7 57.0h1.15v1.15h-1.15zM372.4 75.2h1.15v1.15h-1.15zM367.4 58.0h1.15v1.15h-1.15zM413.5 44.9h1.15v1.15h-1.15zM431.6 49.9h1.15v1.15h-1.15zM378.2 59.9h1.15v1.15h-1.15zM380.6 41.4h1.15v1.15h-1.15zM372.4 61.3h1.15v1.15h-1.15zM406.6 51.4h1.15v1.15h-1.15zM414.3 29.8h1.15v1.15h-1.15zM403.6 77.8h1.15v1.15h-1.15zM367.5 42.1h1.15v1.15h-1.15zM404.5 33.7h1.15v1.15h-1.15zM425.7 85.7h1.15v1.15h-1.15zM413.0 84.6h1.15v1.15h-1.15zM408.7 55.1h1.15v1.15h-1.15zM427.3 47.1h1.15v1.15h-1.15zM426.4 79.0h1.15v1.15h-1.15zM432.5 79.5h1.15v1.15h-1.15zM392.3 70.6h1.15v1.15h-1.15zM398.4 39.7h1.15v1.15h-1.15zM411.5 38.0h1.15v1.15h-1.15zM426.7 66.0h1.15v1.15h-1.15zM425.7 45.6h1.15v1.15h-1.15zM427.2 79.5h1.15v1.15h-1.15zM405.2 45.0h1.15v1.15h-1.15zM377.7 53.2h1.15v1.15h-1.15zM380.6 51.0h1.15v1.15h-1.15zM399.3 44.9h1.15v1.15h-1.15zM368.5 79.1h1.15v1.15h-1.15zM396.7 27.1h1.15v1.15h-1.15zM413.9 36.6h1.15v1.15h-1.15zM389.4 68.3h1.15v1.15h-1.15zM419.1 81.1h1.15v1.15h-1.15zM391.5 60.4h1.15v1.15h-1.15zM419.4 83.4h1.15v1.15h-1.15zM420.9 64.9h1.15v1.15h-1.15zM389.6 30.7h1.15v1.15h-1.15zM419.6 36.2h1.15v1.15h-1.15zM418.8 34.2h1.15v1.15h-1.15zM429.6 30.9h1.15v1.15h-1.15zM422.7 80.8h1.15v1.15h-1.15zM423.0 84.9h1.15v1.15h-1.15zM430.9 57.2h1.15v1.15h-1.15zM419.7 60.1h1.15v1.15h-1.15zM407.5 82.3h1.15v1.15h-1.15zM418.3 27.0h1.15v1.15h-1.15zM390.0 63.6h1.15v1.15h-1.15zM415.0 33.1h1.15v1.15h-1.15zM408.4 64.7h1.15v1.15h-1.15zM423.1 63.1h1.15v1.15h-1.15zM381.9 71.0h1.15v1.15h-1.15zM426.5 44.9h1.15v1.15h-1.15zM425.5 33.8h1.15v1.15h-1.15zM414.8 41.5h1.15v1.15h-1.15zM421.8 51.4h1.15v1.15h-1.15zM400.1 72.0h1.15v1.15h-1.15zM373.5 27.9h1.15v1.15h-1.15zM417.3 45.6h1.15v1.15h-1.15zM400.7 51.9h1.15v1.15h-1.15zM378.5 53.4h1.15v1.15h-1.15zM383.6 81.4h1.15v1.15h-1.15zM426.1 79.5h1.15v1.15h-1.15zM408.9 63.8h1.15v1.15h-1.15zM429.3 66.4h1.15v1.15h-1.15zM400.2 84.8h1.15v1.15h-1.15zM390.7 43.1h1.15v1.15h-1.15zM403.7 43.0h1.15v1.15h-1.15zM386.1 26.5h1.15v1.15h-1.15zM398.2 85.2h1.15v1.15h-1.15zM401.2 83.0h1.15v1.15h-1.15zM396.7 38.1h1.15v1.15h-1.15zM405.1 51.3h1.15v1.15h-1.15zM404.0 61.8h1.15v1.15h-1.15zM402.4 30.0h1.15v1.15h-1.15zM411.4 59.3h1.15v1.15h-1.15zM391.2 54.9h1.15v1.15h-1.15zM371.9 60.2h1.15v1.15h-1.15zM412.0 43.9h1.15v1.15h-1.15zM371.5 38.7h1.15v1.15h-1.15zM390.2 70.1h1.15v1.15h-1.15zM403.9 36.4h1.15v1.15h-1.15zM430.7 65.5h1.15v1.15h-1.15zM426.2 30.8h1.15v1.15h-1.15zM401.1 72.4h1.15v1.15h-1.15zM413.7 74.7h1.15v1.15h-1.15zM394.4 34.6h1.15v1.15h-1.15zM432.4 48.6h1.15v1.15h-1.15zM374.0 65.3h1.15v1.15h-1.15zM405.3 81.3h1.15v1.15h-1.15zM382.1 69.5h1.15v1.15h-1.15zM398.5 39.1h1.15v1.15h-1.15zM429.5 74.7h1.15v1.15h-1.15zM401.5 57.2h1.15v1.15h-1.15zM432.3 65.9h1.15v1.15h-1.15zM367.1 54.5h1.15v1.15h-1.15zM419.4 69.3h1.15v1.15h-1.15zM421.1 30.6h1.15v1.15h-1.15zM414.1 31.6h1.15v1.15h-1.15zM397.6 84.1h1.15v1.15h-1.15zM421.4 38.4h1.15v1.15h-1.15zM401.4 35.3h1.15v1.15h-1.15zM387.1 44.6h1.15v1.15h-1.15zM421.6 65.7h1.15v1.15h-1.15zM403.9 53.7h1.15v1.15h-1.15zM402.3 43.9h1.15v1.15h-1.15zM379.7 70.4h1.15v1.15h-1.15zM429.3 60.1h1.15v1.15h-1.15zM388.5 76.2h1.15v1.15h-1.15zM413.5 36.6h1.15v1.15h-1.15zM422.1 61.9h1.15v1.15h-1.15zM381.5 35.2h1.15v1.15h-1.15zM394.8 56.9h1.15v1.15h-1.15zM417.4 75.9h1.15v1.15h-1.15zM388.5 50.8h1.15v1.15h-1.15zM432.1 57.2h1.15v1.15h-1.15zM408.1 37.7h1.15v1.15h-1.15zM388.3 82.5h1.15v1.15h-1.15zM385.6 80.5h1.15v1.15h-1.15zM404.6 76.5h1.15v1.15h-1.15zM415.5 49.0h1.15v1.15h-1.15zM383.9 60.4h1.15v1.15h-1.15zM409.1 27.9h1.15v1.15h-1.15zM397.7 50.8h1.15v1.15h-1.15zM426.3 70.4h1.15v1.15h-1.15zM412.6 57.8h1.15v1.15h-1.15zM386.8 49.8h1.15v1.15h-1.15zM429.7 25.6h1.15v1.15h-1.15zM426.0 75.5h1.15v1.15h-1.15zM390.1 61.5h1.15v1.15h-1.15zM368.5 80.6h1.15v1.15h-1.15zM427.8 80.5h1.15v1.15h-1.15zM424.3 69.3h1.15v1.15h-1.15zM412.7 83.0h1.15v1.15h-1.15zM382.1 66.3h1.15v1.15h-1.15zM428.1 66.5h1.15v1.15h-1.15zM383.1 74.8h1.15v1.15h-1.15zM385.4 71.9h1.15v1.15h-1.15zM428.2 56.2h1.15v1.15h-1.15zM410.2 73.6h1.15v1.15h-1.15zM400.0 77.4h1.15v1.15h-1.15zM401.0 83.9h1.15v1.15h-1.15zM382.1 52.6h1.15v1.15h-1.15zM418.7 74.1h1.15v1.15h-1.15zM399.0 39.2h1.15v1.15h-1.15zM383.9 74.5h1.15v1.15h-1.15zM419.1 40.2h1.15v1.15h-1.15zM407.7 57.8h1.15v1.15h-1.15zM405.6 31.0h1.15v1.15h-1.15zM377.8 41.2h1.15v1.15h-1.15zM412.4 76.5h1.15v1.15h-1.15zM370.5 50.8h1.15v1.15h-1.15zM376.0 53.5h1.15v1.15h-1.15zM375.8 49.7h1.15v1.15h-1.15zM394.6 30.3h1.15v1.15h-1.15zM381.7 41.1h1.15v1.15h-1.15zM407.1 28.0h1.15v1.15h-1.15zM422.5 48.9h1.15v1.15h-1.15zM396.2 86.4h1.15v1.15h-1.15zM371.2 67.9h1.15v1.15h-1.15zM384.7 26.7h1.15v1.15h-1.15zM414.0 42.1h1.15v1.15h-1.15zM371.9 79.6h1.15v1.15h-1.15zM417.7 57.4h1.15v1.15h-1.15zM375.5 68.9h1.15v1.15h-1.15zM393.4 49.3h1.15v1.15h-1.15zM381.4 43.5h1.15v1.15h-1.15zM380.8 28.1h1.15v1.15h-1.15zM408.4 60.3h1.15v1.15h-1.15zM367.9 49.6h1.15v1.15h-1.15zM370.6 50.4h1.15v1.15h-1.15zM389.5 80.2h1.15v1.15h-1.15zM393.7 51.1h1.15v1.15h-1.15zM421.6 79.5h1.15v1.15h-1.15zM389.5 79.9h1.15v1.15h-1.15zM401.9 40.1h1.15v1.15h-1.15zM370.0 41.2h1.15v1.15h-1.15zM419.7 33.3h1.15v1.15h-1.15zM410.9 39.8h1.15v1.15h-1.15zM394.3 64.3h1.15v1.15h-1.15zM428.5 86.2h1.15v1.15h-1.15zM412.6 59.0h1.15v1.15h-1.15zM374.4 45.4h1.15v1.15h-1.15zM404.1 34.4h1.15v1.15h-1.15zM370.7 80.3h1.15v1.15h-1.15zM371.6 36.8h1.15v1.15h-1.15zM432.8 38.0h1.15v1.15h-1.15zM378.1 27.2h1.15v1.15h-1.15zM419.8 76.3h1.15v1.15h-1.15zM426.9 27.0h1.15v1.15h-1.15zM408.9 47.3h1.15v1.15h-1.15zM415.9 59.1h1.15v1.15h-1.15zM389.7 52.0h1.15v1.15h-1.15zM425.0 45.3h1.15v1.15h-1.15zM430.5 39.1h1.15v1.15h-1.15zM411.5 83.6h1.15v1.15h-1.15zM376.3 64.5h1.15v1.15h-1.15zM409.3 38.6h1.15v1.15h-1.15zM422.1 67.9h1.15v1.15h-1.15zM410.7 51.3h1.15v1.15h-1.15zM400.7 27.6h1.15v1.15h-1.15zM396.1 61.9h1.15v1.15h-1.15zM432.5 70.8h1.15v1.15h-1.15zM424.1 33.4h1.15v1.15h-1.15zM399.1 39.9h1.15v1.15h-1.15z" fill="rgb(180,180,180)"/>
<path d="M409.9 63.3h1.15v1.15h-1.15zM397.3 52.6h1.15v1.15h-1.15zM400.9 64.8h1.15v1.15h-1.15zM410.5 53.6h1.15v1.15h-1.15zM393.0 77.5h1.15v1.15h-1.15zM430.2 77.5h1.15v1.15h-1.15zM379.1 70.4h1.15v1.15h-1.15zM409.2 32.7h1.15v1.15h-1.15zM388.3 43.7h1.15v1.15h-1.15zM406.4 48.4h1.15v1.15h-1.15zM424.1 36.8h1.15v1.15h-1.15zM369.0 84.6h1.15v1.15h-1.15zM413.3 41.3h1.15v1.15h-1.15zM406.9 30.5h1.15v1.15h-1.15zM416.3 27.4h1.15v1.15h-1.15zM383.4 26.3h1.15v1.15h-1.15zM413.7 83.8h1.15v1.15h-1.15zM431.8 53.3h1.15v1.15h-1.15zM413.6 60.5h1.15v1.15h-1.15zM408.3 52.9h1.15v1.15h-1.15zM378.3 26.3h1.15v1.15h-1.15zM407.3 71.9h1.15v1.15h-1.15zM428.5 69.8h1.15v1.15h-1.15zM403.0 72.7h1.15v1.15h-1.15zM408.9 57.6h1.15v1.15h-1.15zM404.5 37.9h1.15v1.15h-1.15zM399.9 62.7h1.15v1.15h-1.15zM384.3 54.6h1.15v1.15h-1.15zM381.5 67.7h1.15v1.15h-1.15zM383.1 37.7h1.15v1.15h-1.15zM395.5 48.6h1.15v1.15h-1.15zM374.8 50.3h1.15v1.15h-1.15zM367.6 37.9h1.15v1.15h-1.15zM427.1 84.9h1.15v1.15h-1.15zM412.0 37.2h1.15v1.15h-1.15zM400.7 60.4h1.15v1.15h-1.15zM432.3 82.4h1.15v1.15h-1.15zM400.5 26.5h1.15v1.15h-1.15zM417.5 72.5h1.15v1.15h-1.15zM410.3 60.5h1.15v1.15h-1.15zM367.9 63.3h1.15v1.15h-1.15zM383.5 50.2h1.15v1.15h-1.15zM379.4 48.6h1.15v1.15h-1.15zM371.5 62.2h1.15v1.15h-1.15zM369.4 82.6h1.15v1.15h-1.15zM397.8 36.0h1.15v1.15h-1.15zM371.3 81.1h1.15v1.15h-1.15zM425.8 73.6h1.15v1.15h-1.15zM407.9 72.7h1.15v1.15h-1.15zM388.1 59.2h1.15v1.15h-1.15zM372.9 79.2h1.15v1.15h-1.15zM371.8 44.2h1.15v1.15h-1.15zM412.6 42.9h1.15v1.15h-1.15zM425.9 40.8h1.15v1.15h-1.15zM390.7 47.9h1.15v1.15h-1.15zM392.2 37.5h1.15v1.15h-1.15zM370.7 59.1h1.15v1.15h-1.15zM376.0 71.3h1.15v1.15h-1.15zM430.1 64.8h1.15v1.15h-1.15zM380.0 51.6h1.15v1.15h-1.15zM430.9 29.2h1.15v1.15h-1.15zM373.6 36.9h1.15v1.15h-1.15zM377.9 72.0h1.15v1.15h-1.15zM408.8 86.4h1.15v1.15h-1.15zM390.3 67.7h1.15v1.15h-1.15zM432.4 74.6h1.15v1.15h-1.15zM392.5 66.4h1.15v1.15h-1.15zM419.0 66.0h1.15v1.15h-1.15zM399.7 34.3h1.15v1.15h-1.15zM422.0 37.7h1.15v1.15h-1.15zM403.7 59.9h1.15v1.15h-1.15zM406.4 33.1h1.15v1.15h-1.15zM402.9 30.3h1.15v1.15h-1.15zM410.2 44.4h1.15v1.15h-1.15zM397.5 34.4h1.15v1.15h-1.15zM376.0 84.4h1.15v1.15h-1.15zM423.3 50.7h1.15v1.15h-1.15zM404.1 81.0h1.15v1.15h-1.15zM399.9 49.9h1.15v1.15h-1.15zM410.7 78.7h1.15v1.15h-1.15zM420.0 39.2h1.15v1.15h-1.15zM419.1 33.2h1.15v1.15h-1.15zM386.3 45.5h1.15v1.15h-1.15zM422.2 47.3h1.15v1.15h-1.15zM414.7 44.8h1.15v1.15h-1.15zM405.7 39.6h1.15v1.15h-1.15zM395.7 58.0h1.15v1.15h-1.15zM385.0 59.2h1.15v1.15h-1.15zM397.1 71.6h1.15v1.15h-1.15zM418.3 35.7h1.15v1.15h-1.15zM399.6 27.8h1.15v1.15h-1.15zM378.4 34.9h1.15v1.15h-1.15zM380.8 85.0h1.15v1.15h-1.15zM432.7 72.4h1.15v1.15h-1.15zM425.4 53.9h1.15v1.15h-1.15zM380.7 54.2h1.15v1.15h-1.15zM423.8 38.1h1.15v1.15h-1.15zM376.6 83.0h1.15v1.15h-1.15zM367.8 45.3h1.15v1.15h-1.15zM376.4 62.1h1.15v1.15h-1.15zM414.7 66.4h1.15v1.15h-1.15zM427.6 38.8h1.15v1.15h-1.15zM382.0 64.3h1.15v1.15h-1.15zM394.9 49.6h1.15v1.15h-1.15zM398.0 35.8h1.15v1.15h-1.15zM388.1 41.1h1.15v1.15h-1.15zM383.8 66.5h1.15v1.15h-1.15zM417.7 64.0h1.15v1.15h-1.15zM426.9 27.9h1.15v1.15h-1.15zM400.1 44.5h1.15v1.15h-1.15zM381.6 67.3h1.15v1.15h-1.15zM366.5 58.9h1.15v1.15h-1.15zM419.4 49.6h1.15v1.15h-1.15zM421.5 60.4h1.15v1.15h-1.15zM413.4 63.8h1.15v1.15h-1.15zM431.0 33.8h1.15v1.15h-1.15zM413.9 32.9h1.15v1.15h-1.15zM374.4 45.8h1.15v1.15h-1.15zM417.3 85.7h1.15v1.15h-1.15zM376.2 36.3h1.15v1.15h-1.15zM384.6 39.5h1.15v1.15h-1.15zM390.7 41.5h1.15v1.15h-1.15zM392.7 29.1h1.15v1.15h-1.15zM395.9 76.7h1.15v1.15h-1.15zM367.1 57.9h1.15v1.15h-1.15zM393.2 68.8h1.15v1.15h-1.15zM381.5 49.4h1.15v1.15h-1.15zM378.2 32.1h1.15v1.15h-1.15zM399.8 50.3h1.15v1.15h-1.15zM402.1 83.9h1.15v1.15h-1.15zM400.0 60.4h1.15v1.15h-1.15zM428.4 34.9h1.15v1.15h-1.15zM370.7 78.9h1.15v1.15h-1.15zM383.1 75.0h1.15v1.15h-1.15zM402.1 78.6h1.15v1.15h-1.15z" fill="rgb(140,140,140)"/>
</g>
<text x="369.10" y="35.20" font-size="8.5" font-weight="normal" font-style="normal" text-anchor="start" fill="#fff" stroke="#fff" stroke-width="0.3">DAPI</text>
<rect x="369.40" y="81.20" width="20.00" height="2.10" fill="#fff" stroke="none" stroke-width="1"/>
<rect x="444.20" y="24.80" width="69.30" height="64.00" fill="#222222" stroke="#3a3a3a" stroke-width="0.8"/>
<g filter="url(#soft)">
<path d="M454.7 52.5h1.2v1.2h-1.2zM450.0 67.6h1.2v1.2h-1.2zM452.5 51.5h1.2v1.2h-1.2zM491.3 28.7h1.2v1.2h-1.2zM499.2 50.1h1.2v1.2h-1.2zM479.0 75.2h1.2v1.2h-1.2zM446.9 75.9h1.2v1.2h-1.2zM481.6 36.5h1.2v1.2h-1.2zM458.9 42.9h1.2v1.2h-1.2zM456.1 82.2h1.2v1.2h-1.2zM487.5 39.6h1.2v1.2h-1.2zM491.9 38.7h1.2v1.2h-1.2zM483.6 46.9h1.2v1.2h-1.2zM493.9 60.1h1.2v1.2h-1.2zM504.7 81.3h1.2v1.2h-1.2zM463.6 37.9h1.2v1.2h-1.2zM509.7 59.5h1.2v1.2h-1.2zM478.2 47.7h1.2v1.2h-1.2zM454.0 39.4h1.2v1.2h-1.2zM461.7 28.4h1.2v1.2h-1.2zM479.8 28.8h1.2v1.2h-1.2zM480.7 53.0h1.2v1.2h-1.2zM487.3 54.2h1.2v1.2h-1.2zM473.2 58.8h1.2v1.2h-1.2zM510.8 55.3h1.2v1.2h-1.2zM473.0 44.8h1.2v1.2h-1.2zM452.8 44.4h1.2v1.2h-1.2zM454.7 39.6h1.2v1.2h-1.2zM469.4 37.1h1.2v1.2h-1.2zM468.9 50.1h1.2v1.2h-1.2zM501.0 80.5h1.2v1.2h-1.2zM509.3 58.2h1.2v1.2h-1.2zM464.0 71.8h1.2v1.2h-1.2zM473.6 75.7h1.2v1.2h-1.2zM466.6 61.5h1.2v1.2h-1.2zM502.2 41.6h1.2v1.2h-1.2zM464.9 38.3h1.2v1.2h-1.2zM506.3 77.0h1.2v1.2h-1.2zM467.2 84.4h1.2v1.2h-1.2zM488.8 35.9h1.2v1.2h-1.2zM445.3 30.8h1.2v1.2h-1.2zM451.2 80.0h1.2v1.2h-1.2zM452.2 51.5h1.2v1.2h-1.2zM510.4 67.5h1.2v1.2h-1.2zM456.0 51.4h1.2v1.2h-1.2zM449.8 78.2h1.2v1.2h-1.2zM496.7 61.1h1.2v1.2h-1.2zM481.4 50.4h1.2v1.2h-1.2zM466.9 69.7h1.2v1.2h-1.2zM503.6 51.8h1.2v1.2h-1.2zM510.5 56.0h1.2v1.2h-1.2zM497.5 41.3h1.2v1.2h-1.2zM449.1 80.7h1.2v1.2h-1.2zM474.7 74.5h1.2v1.2h-1.2zM477.2 32.9h1.2v1.2h-1.2zM467.0 25.7h1.2v1.2h-1.2zM504.2 52.9h1.2v1.2h-1.2zM476.7 67.7h1.2v1.2h-1.2zM495.1 36.3h1.2v1.2h-1.2zM451.9 53.4h1.2v1.2h-1.2zM490.2 32.8h1.2v1.2h-1.2zM483.8 33.1h1.2v1.2h-1.2zM490.2 77.7h1.2v1.2h-1.2zM504.5 41.8h1.2v1.2h-1.2zM458.2 71.0h1.2v1.2h-1.2zM486.3 26.2h1.2v1.2h-1.2zM498.7 70.8h1.2v1.2h-1.2zM479.8 54.0h1.2v1.2h-1.2zM488.0 52.9h1.2v1.2h-1.2z" fill="rgb(225,225,225)"/>
<path d="M463.2 75.2h1.2v1.2h-1.2zM485.0 59.8h1.2v1.2h-1.2zM505.2 29.2h1.2v1.2h-1.2zM465.8 63.6h1.2v1.2h-1.2zM484.6 54.8h1.2v1.2h-1.2zM469.1 67.8h1.2v1.2h-1.2zM470.8 72.8h1.2v1.2h-1.2zM447.5 42.5h1.2v1.2h-1.2zM487.4 28.8h1.2v1.2h-1.2zM445.4 42.0h1.2v1.2h-1.2zM467.7 40.4h1.2v1.2h-1.2zM511.4 56.4h1.2v1.2h-1.2zM508.0 80.3h1.2v1.2h-1.2zM464.4 79.0h1.2v1.2h-1.2zM462.0 67.4h1.2v1.2h-1.2zM453.8 79.8h1.2v1.2h-1.2zM509.0 72.1h1.2v1.2h-1.2zM497.5 48.8h1.2v1.2h-1.2zM490.8 58.7h1.2v1.2h-1.2zM451.0 44.7h1.2v1.2h-1.2zM474.5 36.6h1.2v1.2h-1.2zM485.3 77.2h1.2v1.2h-1.2zM471.3 66.8h1.2v1.2h-1.2zM464.0 82.9h1.2v1.2h-1.2zM472.4 63.4h1.2v1.2h-1.2zM471.6 75.0h1.2v1.2h-1.2zM492.6 43.8h1.2v1.2h-1.2zM470.8 51.0h1.2v1.2h-1.2zM477.7 78.0h1.2v1.2h-1.2zM508.6 67.4h1.2v1.2h-1.2zM500.8 33.5h1.2v1.2h-1.2zM452.2 30.8h1.2v1.2h-1.2zM445.6 40.9h1.2v1.2h-1.2zM476.6 38.2h1.2v1.2h-1.2zM507.1 47.8h1.2v1.2h-1.2zM506.4 62.3h1.2v1.2h-1.2zM445.8 39.6h1.2v1.2h-1.2zM486.5 58.4h1.2v1.2h-1.2zM494.5 41.0h1.2v1.2h-1.2zM456.5 59.1h1.2v1.2h-1.2zM468.6 86.7h1.2v1.2h-1.2zM471.6 38.1h1.2v1.2h-1.2zM449.9 66.7h1.2v1.2h-1.2zM475.9 47.6h1.2v1.2h-1.2zM495.0 40.2h1.2v1.2h-1.2zM465.4 27.1h1.2v1.2h-1.2zM505.0 34.9h1.2v1.2h-1.2zM472.5 28.8h1.2v1.2h-1.2zM453.1 76.5h1.2v1.2h-1.2zM505.5 82.6h1.2v1.2h-1.2zM452.2 63.4h1.2v1.2h-1.2zM474.0 26.9h1.2v1.2h-1.2zM481.2 77.4h1.2v1.2h-1.2zM490.0 78.8h1.2v1.2h-1.2zM469.2 43.2h1.2v1.2h-1.2zM459.9 50.2h1.2v1.2h-1.2zM456.3 26.9h1.2v1.2h-1.2zM468.8 31.4h1.2v1.2h-1.2zM472.6 45.5h1.2v1.2h-1.2zM466.1 82.6h1.2v1.2h-1.2zM492.0 38.1h1.2v1.2h-1.2zM508.8 29.6h1.2v1.2h-1.2zM505.6 45.0h1.2v1.2h-1.2zM508.8 79.5h1.2v1.2h-1.2zM458.4 50.8h1.2v1.2h-1.2zM490.5 57.2h1.2v1.2h-1.2zM454.6 58.7h1.2v1.2h-1.2zM460.5 70.3h1.2v1.2h-1.2zM504.2 35.3h1.2v1.2h-1.2zM507.4 62.9h1.2v1.2h-1.2zM503.4 66.6h1.2v1.2h-1.2zM447.8 76.5h1.2v1.2h-1.2zM445.6 70.5h1.2v1.2h-1.2zM462.5 69.7h1.2v1.2h-1.2zM494.4 79.4h1.2v1.2h-1.2zM505.8 86.7h1.2v1.2h-1.2zM460.2 82.7h1.2v1.2h-1.2zM500.0 44.7h1.2v1.2h-1.2zM492.5 36.2h1.2v1.2h-1.2zM468.6 44.6h1.2v1.2h-1.2zM486.4 31.2h1.2v1.2h-1.2zM473.4 37.0h1.2v1.2h-1.2zM477.0 77.8h1.2v1.2h-1.2zM486.2 36.0h1.2v1.2h-1.2zM484.7 50.8h1.2v1.2h-1.2zM456.9 67.4h1.2v1.2h-1.2zM482.4 53.3h1.2v1.2h-1.2zM445.4 64.7h1.2v1.2h-1.2zM458.8 55.5h1.2v1.2h-1.2zM470.0 33.1h1.2v1.2h-1.2zM500.3 56.0h1.2v1.2h-1.2zM448.8 39.2h1.2v1.2h-1.2zM454.0 76.5h1.2v1.2h-1.2zM454.4 67.9h1.2v1.2h-1.2zM462.8 55.0h1.2v1.2h-1.2zM488.0 45.4h1.2v1.2h-1.2zM499.5 75.6h1.2v1.2h-1.2zM466.6 53.9h1.2v1.2h-1.2zM504.5 63.1h1.2v1.2h-1.2zM479.1 33.6h1.2v1.2h-1.2zM497.1 48.0h1.2v1.2h-1.2z" fill="rgb(180,180,180)"/>
<path d="M454.5 26.3h1.2v1.2h-1.2zM471.9 77.2h1.2v1.2h-1.2zM449.0 81.6h1.2v1.2h-1.2zM509.9 66.2h1.2v1.2h-1.2zM452.6 40.0h1.2v1.2h-1.2zM479.5 39.2h1.2v1.2h-1.2zM476.7 64.0h1.2v1.2h-1.2zM507.8 57.1h1.2v1.2h-1.2zM453.3 58.3h1.2v1.2h-1.2zM471.2 40.6h1.2v1.2h-1.2zM466.5 67.5h1.2v1.2h-1.2zM469.3 27.4h1.2v1.2h-1.2zM467.7 40.2h1.2v1.2h-1.2zM507.8 26.1h1.2v1.2h-1.2zM459.7 81.8h1.2v1.2h-1.2zM491.4 35.5h1.2v1.2h-1.2zM468.3 70.4h1.2v1.2h-1.2zM472.1 48.8h1.2v1.2h-1.2zM503.1 75.9h1.2v1.2h-1.2zM493.9 44.3h1.2v1.2h-1.2zM502.5 76.6h1.2v1.2h-1.2zM503.5 27.1h1.2v1.2h-1.2zM445.9 36.1h1.2v1.2h-1.2zM485.4 31.9h1.2v1.2h-1.2zM488.3 74.6h1.2v1.2h-1.2zM460.3 49.2h1.2v1.2h-1.2zM451.8 70.7h1.2v1.2h-1.2zM483.4 48.8h1.2v1.2h-1.2zM478.4 53.7h1.2v1.2h-1.2zM464.7 45.9h1.2v1.2h-1.2zM489.8 36.1h1.2v1.2h-1.2zM463.8 77.1h1.2v1.2h-1.2zM458.1 64.7h1.2v1.2h-1.2zM475.5 82.9h1.2v1.2h-1.2zM493.3 56.3h1.2v1.2h-1.2zM486.0 69.3h1.2v1.2h-1.2zM500.7 77.0h1.2v1.2h-1.2zM506.2 57.5h1.2v1.2h-1.2zM504.9 27.1h1.2v1.2h-1.2zM454.4 62.5h1.2v1.2h-1.2zM466.0 82.9h1.2v1.2h-1.2zM511.4 73.3h1.2v1.2h-1.2zM476.9 38.1h1.2v1.2h-1.2zM504.6 82.7h1.2v1.2h-1.2zM490.1 61.7h1.2v1.2h-1.2zM476.4 53.0h1.2v1.2h-1.2zM505.8 65.4h1.2v1.2h-1.2zM482.0 34.7h1.2v1.2h-1.2zM478.0 81.2h1.2v1.2h-1.2zM463.3 59.2h1.2v1.2h-1.2zM497.8 81.7h1.2v1.2h-1.2zM462.1 72.6h1.2v1.2h-1.2zM502.4 81.7h1.2v1.2h-1.2zM491.3 65.7h1.2v1.2h-1.2zM493.4 28.5h1.2v1.2h-1.2zM466.0 49.6h1.2v1.2h-1.2zM510.8 26.0h1.2v1.2h-1.2zM494.1 39.5h1.2v1.2h-1.2zM454.5 74.1h1.2v1.2h-1.2zM494.9 47.2h1.2v1.2h-1.2zM474.6 32.5h1.2v1.2h-1.2zM476.5 28.7h1.2v1.2h-1.2zM506.5 85.8h1.2v1.2h-1.2zM502.6 58.4h1.2v1.2h-1.2zM470.5 63.7h1.2v1.2h-1.2zM451.9 66.6h1.2v1.2h-1.2zM486.7 58.7h1.2v1.2h-1.2zM479.2 65.2h1.2v1.2h-1.2zM486.4 77.5h1.2v1.2h-1.2zM456.9 75.5h1.2v1.2h-1.2zM497.8 51.3h1.2v1.2h-1.2zM504.6 69.4h1.2v1.2h-1.2zM502.6 41.3h1.2v1.2h-1.2zM494.9 56.5h1.2v1.2h-1.2zM469.8 71.1h1.2v1.2h-1.2zM492.8 51.0h1.2v1.2h-1.2z" fill="rgb(140,140,140)"/>
</g>
<text x="447.70" y="35.20" font-size="8.5" font-weight="normal" font-style="normal" text-anchor="start" fill="#fff" stroke="#fff" stroke-width="0.3">DAPI</text>
<rect x="448.00" y="82.80" width="20.00" height="2.10" fill="#fff" stroke="none" stroke-width="1"/>
<rect x="365.60" y="92.00" width="69.30" height="64.00" fill="#1c1c1c" stroke="#3a3a3a" stroke-width="0.8"/>
<g filter="url(#soft)">
<path d="M383.6 134.6h1.45v1.45h-1.45zM401.6 105.8h1.45v1.45h-1.45zM421.9 129.9h1.45v1.45h-1.45zM376.1 145.9h1.45v1.45h-1.45zM420.0 141.9h1.45v1.45h-1.45zM383.4 144.6h1.45v1.45h-1.45zM390.5 119.0h1.45v1.45h-1.45zM420.7 141.5h1.45v1.45h-1.45zM395.8 103.6h1.45v1.45h-1.45zM379.8 124.7h1.45v1.45h-1.45zM379.3 115.1h1.45v1.45h-1.45zM379.9 144.8h1.45v1.45h-1.45zM391.2 136.5h1.45v1.45h-1.45zM380.4 130.4h1.45v1.45h-1.45zM368.5 123.4h1.45v1.45h-1.45zM417.7 104.4h1.45v1.45h-1.45zM398.2 126.6h1.45v1.45h-1.45zM388.5 110.4h1.45v1.45h-1.45zM423.6 99.6h1.45v1.45h-1.45zM386.5 116.5h1.45v1.45h-1.45zM390.3 119.7h1.45v1.45h-1.45zM424.5 153.1h1.45v1.45h-1.45zM375.0 141.8h1.45v1.45h-1.45zM387.8 147.2h1.45v1.45h-1.45zM402.5 100.5h1.45v1.45h-1.45zM366.7 107.9h1.45v1.45h-1.45zM398.1 115.5h1.45v1.45h-1.45zM389.3 141.7h1.45v1.45h-1.45zM380.6 136.6h1.45v1.45h-1.45zM400.8 148.9h1.45v1.45h-1.45zM395.6 127.7h1.45v1.45h-1.45zM414.6 99.3h1.45v1.45h-1.45zM413.8 145.6h1.45v1.45h-1.45zM373.6 111.6h1.45v1.45h-1.45zM368.3 108.6h1.45v1.45h-1.45zM388.4 149.9h1.45v1.45h-1.45zM398.5 108.7h1.45v1.45h-1.45zM402.0 104.6h1.45v1.45h-1.45zM379.0 127.7h1.45v1.45h-1.45zM405.4 111.5h1.45v1.45h-1.45zM400.9 143.7h1.45v1.45h-1.45z" fill="rgb(255,255,255)"/>
<path d="M378.7 106.9h1.45v1.45h-1.45zM376.1 106.5h1.45v1.45h-1.45zM421.1 138.2h1.45v1.45h-1.45zM398.6 138.8h1.45v1.45h-1.45zM403.8 119.0h1.45v1.45h-1.45zM387.2 100.0h1.45v1.45h-1.45zM431.7 134.9h1.45v1.45h-1.45zM375.3 134.1h1.45v1.45h-1.45zM406.5 116.9h1.45v1.45h-1.45zM419.8 143.9h1.45v1.45h-1.45zM393.8 145.7h1.45v1.45h-1.45zM425.1 141.8h1.45v1.45h-1.45zM406.4 136.8h1.45v1.45h-1.45zM404.9 128.8h1.45v1.45h-1.45zM390.2 137.2h1.45v1.45h-1.45zM389.0 110.8h1.45v1.45h-1.45zM371.0 132.0h1.45v1.45h-1.45zM369.0 119.6h1.45v1.45h-1.45zM389.1 98.4h1.45v1.45h-1.45zM366.6 153.6h1.45v1.45h-1.45zM384.2 129.2h1.45v1.45h-1.45zM390.7 143.7h1.45v1.45h-1.45zM366.8 113.2h1.45v1.45h-1.45zM400.6 121.7h1.45v1.45h-1.45zM410.8 110.9h1.45v1.45h-1.45zM426.7 137.8h1.45v1.45h-1.45zM383.5 134.5h1.45v1.45h-1.45zM379.9 114.2h1.45v1.45h-1.45zM368.9 117.0h1.45v1.45h-1.45zM372.1 139.0h1.45v1.45h-1.45zM395.2 101.1h1.45v1.45h-1.45zM423.9 101.9h1.45v1.45h-1.45zM410.6 149.8h1.45v1.45h-1.45zM407.5 144.0h1.45v1.45h-1.45zM375.5 125.3h1.45v1.45h-1.45zM432.6 142.1h1.45v1.45h-1.45zM394.5 130.7h1.45v1.45h-1.45zM421.6 136.4h1.45v1.45h-1.45zM384.1 140.6h1.45v1.45h-1.45zM396.2 93.0h1.45v1.45h-1.45zM382.8 144.6h1.45v1.45h-1.45zM422.9 118.2h1.45v1.45h-1.45zM391.3 121.8h1.45v1.45h-1.45z" fill="rgb(200,200,200)"/>
<path d="M411.7 144.6h1.45v1.45h-1.45zM415.0 100.7h1.45v1.45h-1.45zM385.9 119.1h1.45v1.45h-1.45zM367.4 109.6h1.45v1.45h-1.45zM429.3 141.2h1.45v1.45h-1.45zM403.1 138.4h1.45v1.45h-1.45zM383.2 120.8h1.45v1.45h-1.45zM375.1 122.7h1.45v1.45h-1.45zM382.0 107.2h1.45v1.45h-1.45zM371.3 132.5h1.45v1.45h-1.45zM429.6 116.6h1.45v1.45h-1.45zM414.0 149.7h1.45v1.45h-1.45zM369.3 101.4h1.45v1.45h-1.45zM408.7 102.5h1.45v1.45h-1.45zM375.5 152.0h1.45v1.45h-1.45zM377.3 134.5h1.45v1.45h-1.45zM373.8 106.5h1.45v1.45h-1.45zM403.2 125.9h1.45v1.45h-1.45zM374.5 111.2h1.45v1.45h-1.45zM371.5 121.4h1.45v1.45h-1.45zM399.3 151.9h1.45v1.45h-1.45zM422.7 108.6h1.45v1.45h-1.45zM405.4 114.5h1.45v1.45h-1.45zM382.6 110.3h1.45v1.45h-1.45zM406.1 93.0h1.45v1.45h-1.45zM421.0 106.1h1.45v1.45h-1.45zM368.6 100.6h1.45v1.45h-1.45zM369.3 125.4h1.45v1.45h-1.45zM425.9 99.8h1.45v1.45h-1.45zM420.2 125.3h1.45v1.45h-1.45zM386.2 151.4h1.45v1.45h-1.45zM386.1 98.1h1.45v1.45h-1.45zM369.9 94.7h1.45v1.45h-1.45zM385.6 139.2h1.45v1.45h-1.45zM432.4 121.5h1.45v1.45h-1.45zM432.2 139.2h1.45v1.45h-1.45zM396.9 147.8h1.45v1.45h-1.45zM368.7 142.9h1.45v1.45h-1.45zM378.2 99.1h1.45v1.45h-1.45zM425.0 123.1h1.45v1.45h-1.45z" fill="rgb(150,150,150)"/>
</g>
<rect x="369.40" y="149.00" width="20.00" height="2.10" fill="#fff" stroke="none" stroke-width="1"/>
<rect x="444.20" y="92.00" width="69.30" height="64.00" fill="#1c1c1c" stroke="#3a3a3a" stroke-width="0.8"/>
<g filter="url(#soft)">
<path d="M452.1 135.6h1.45v1.45h-1.45zM488.2 150.1h1.45v1.45h-1.45zM493.6 132.9h1.45v1.45h-1.45zM465.1 134.5h1.45v1.45h-1.45zM452.8 106.4h1.45v1.45h-1.45zM504.7 114.6h1.45v1.45h-1.45zM462.3 141.8h1.45v1.45h-1.45zM486.8 101.9h1.45v1.45h-1.45zM481.5 133.3h1.45v1.45h-1.45zM485.2 146.0h1.45v1.45h-1.45zM484.0 131.4h1.45v1.45h-1.45zM457.8 120.4h1.45v1.45h-1.45zM479.8 98.5h1.45v1.45h-1.45zM476.8 134.6h1.45v1.45h-1.45zM507.2 108.9h1.45v1.45h-1.45zM486.6 121.4h1.45v1.45h-1.45zM463.7 149.9h1.45v1.45h-1.45zM502.8 108.9h1.45v1.45h-1.45zM505.8 110.6h1.45v1.45h-1.45zM505.6 130.1h1.45v1.45h-1.45zM476.1 113.5h1.45v1.45h-1.45zM449.1 134.3h1.45v1.45h-1.45zM451.4 145.6h1.45v1.45h-1.45zM484.0 93.1h1.45v1.45h-1.45zM477.8 125.0h1.45v1.45h-1.45zM504.7 144.9h1.45v1.45h-1.45zM471.4 119.9h1.45v1.45h-1.45zM467.9 149.8h1.45v1.45h-1.45zM508.4 142.0h1.45v1.45h-1.45zM474.3 147.7h1.45v1.45h-1.45zM483.2 141.2h1.45v1.45h-1.45zM473.0 134.3h1.45v1.45h-1.45zM458.2 94.6h1.45v1.45h-1.45zM502.1 121.8h1.45v1.45h-1.45zM488.0 140.0h1.45v1.45h-1.45zM494.3 130.9h1.45v1.45h-1.45zM469.7 134.9h1.45v1.45h-1.45zM470.5 129.5h1.45v1.45h-1.45zM499.9 111.7h1.45v1.45h-1.45zM453.8 145.0h1.45v1.45h-1.45zM480.4 102.2h1.45v1.45h-1.45zM446.6 123.7h1.45v1.45h-1.45zM458.2 141.1h1.45v1.45h-1.45zM460.0 116.4h1.45v1.45h-1.45zM496.0 139.4h1.45v1.45h-1.45zM450.3 138.2h1.45v1.45h-1.45zM449.3 133.4h1.45v1.45h-1.45zM509.4 114.8h1.45v1.45h-1.45zM504.5 113.4h1.45v1.45h-1.45zM463.1 120.5h1.45v1.45h-1.45zM506.3 148.6h1.45v1.45h-1.45zM508.8 118.6h1.45v1.45h-1.45z" fill="rgb(255,255,255)"/>
<path d="M471.3 140.2h1.45v1.45h-1.45zM453.2 113.3h1.45v1.45h-1.45zM450.5 105.3h1.45v1.45h-1.45zM510.6 119.5h1.45v1.45h-1.45zM478.2 99.0h1.45v1.45h-1.45zM499.2 98.3h1.45v1.45h-1.45zM494.0 99.7h1.45v1.45h-1.45zM477.1 119.4h1.45v1.45h-1.45zM476.4 107.2h1.45v1.45h-1.45zM446.3 135.8h1.45v1.45h-1.45zM468.0 127.5h1.45v1.45h-1.45zM465.0 104.3h1.45v1.45h-1.45zM447.3 111.8h1.45v1.45h-1.45zM510.1 128.5h1.45v1.45h-1.45zM468.7 108.1h1.45v1.45h-1.45zM447.3 101.7h1.45v1.45h-1.45zM461.5 129.6h1.45v1.45h-1.45zM482.2 129.1h1.45v1.45h-1.45zM507.4 139.0h1.45v1.45h-1.45zM469.3 116.2h1.45v1.45h-1.45zM508.6 126.1h1.45v1.45h-1.45zM496.2 112.0h1.45v1.45h-1.45zM462.4 99.1h1.45v1.45h-1.45zM458.3 135.0h1.45v1.45h-1.45zM470.2 140.7h1.45v1.45h-1.45zM489.3 106.3h1.45v1.45h-1.45zM487.9 132.8h1.45v1.45h-1.45zM488.5 126.8h1.45v1.45h-1.45zM462.6 121.4h1.45v1.45h-1.45zM506.8 145.5h1.45v1.45h-1.45zM473.2 152.6h1.45v1.45h-1.45zM454.0 115.9h1.45v1.45h-1.45zM464.6 152.0h1.45v1.45h-1.45zM511.0 107.2h1.45v1.45h-1.45zM491.8 151.8h1.45v1.45h-1.45zM479.7 143.7h1.45v1.45h-1.45zM470.7 124.5h1.45v1.45h-1.45zM460.6 108.3h1.45v1.45h-1.45zM501.9 107.8h1.45v1.45h-1.45zM482.0 94.5h1.45v1.45h-1.45zM473.1 106.5h1.45v1.45h-1.45zM476.3 138.8h1.45v1.45h-1.45zM468.1 123.1h1.45v1.45h-1.45zM456.6 131.6h1.45v1.45h-1.45zM463.2 147.9h1.45v1.45h-1.45zM456.6 141.4h1.45v1.45h-1.45zM476.5 129.7h1.45v1.45h-1.45zM501.5 126.7h1.45v1.45h-1.45zM511.2 119.1h1.45v1.45h-1.45zM504.5 103.3h1.45v1.45h-1.45zM452.6 144.6h1.45v1.45h-1.45zM484.4 99.6h1.45v1.45h-1.45zM496.3 119.5h1.45v1.45h-1.45zM499.4 107.5h1.45v1.45h-1.45zM484.2 105.3h1.45v1.45h-1.45zM453.7 145.4h1.45v1.45h-1.45zM486.5 143.4h1.45v1.45h-1.45zM451.0 126.7h1.45v1.45h-1.45zM452.0 121.6h1.45v1.45h-1.45zM449.1 115.7h1.45v1.45h-1.45zM461.2 99.1h1.45v1.45h-1.45zM478.9 140.5h1.45v1.45h-1.45zM473.2 103.7h1.45v1.45h-1.45zM482.0 150.8h1.45v1.45h-1.45zM491.5 150.5h1.45v1.45h-1.45zM480.9 135.3h1.45v1.45h-1.45z" fill="rgb(200,200,200)"/>
<path d="M463.0 108.4h1.45v1.45h-1.45zM455.9 132.5h1.45v1.45h-1.45zM509.8 117.4h1.45v1.45h-1.45zM490.5 99.6h1.45v1.45h-1.45zM457.0 98.6h1.45v1.45h-1.45zM503.0 124.1h1.45v1.45h-1.45zM459.5 141.5h1.45v1.45h-1.45zM463.6 94.5h1.45v1.45h-1.45zM480.4 120.5h1.45v1.45h-1.45zM484.4 98.6h1.45v1.45h-1.45zM502.3 150.0h1.45v1.45h-1.45zM449.4 101.5h1.45v1.45h-1.45zM491.6 127.6h1.45v1.45h-1.45zM507.5 118.6h1.45v1.45h-1.45zM462.0 116.4h1.45v1.45h-1.45zM458.2 106.8h1.45v1.45h-1.45zM495.5 115.3h1.45v1.45h-1.45zM478.7 144.1h1.45v1.45h-1.45zM461.4 149.7h1.45v1.45h-1.45zM454.3 108.6h1.45v1.45h-1.45zM474.6 126.0h1.45v1.45h-1.45zM462.0 115.3h1.45v1.45h-1.45zM473.2 100.7h1.45v1.45h-1.45zM459.7 101.7h1.45v1.45h-1.45zM493.1 101.7h1.45v1.45h-1.45zM468.4 149.7h1.45v1.45h-1.45zM448.1 117.6h1.45v1.45h-1.45zM506.9 125.9h1.45v1.45h-1.45zM502.9 143.3h1.45v1.45h-1.45zM506.7 97.0h1.45v1.45h-1.45zM497.6 111.4h1.45v1.45h-1.45zM474.8 140.6h1.45v1.45h-1.45zM461.4 134.3h1.45v1.45h-1.45zM487.8 92.8h1.45v1.45h-1.45zM510.5 149.4h1.45v1.45h-1.45zM446.9 101.1h1.45v1.45h-1.45zM449.6 119.5h1.45v1.45h-1.45zM509.1 118.3h1.45v1.45h-1.45zM453.0 106.3h1.45v1.45h-1.45zM451.0 145.6h1.45v1.45h-1.45zM489.7 134.6h1.45v1.45h-1.45zM491.6 104.0h1.45v1.45h-1.45zM479.5 134.4h1.45v1.45h-1.45zM477.2 131.5h1.45v1.45h-1.45zM469.4 151.3h1.45v1.45h-1.45zM449.4 100.8h1.45v1.45h-1.45zM484.0 147.9h1.45v1.45h-1.45zM465.5 117.3h1.45v1.45h-1.45zM468.2 114.2h1.45v1.45h-1.45zM468.4 142.7h1.45v1.45h-1.45zM446.0 111.4h1.45v1.45h-1.45zM450.1 142.9h1.45v1.45h-1.45zM480.7 138.6h1.45v1.45h-1.45zM470.0 125.3h1.45v1.45h-1.45zM460.3 147.7h1.45v1.45h-1.45zM476.2 116.3h1.45v1.45h-1.45zM509.4 140.3h1.45v1.45h-1.45zM486.9 95.2h1.45v1.45h-1.45zM474.9 93.7h1.45v1.45h-1.45zM467.7 143.0h1.45v1.45h-1.45zM455.1 150.3h1.45v1.45h-1.45zM464.9 107.7h1.45v1.45h-1.45z" fill="rgb(150,150,150)"/>
</g>
<rect x="448.00" y="149.00" width="20.00" height="2.10" fill="#fff" stroke="none" stroke-width="1"/>
<rect x="365.60" y="160.00" width="69.30" height="64.00" fill="#1d1d1d" stroke="#3a3a3a" stroke-width="0.8"/>
<g filter="url(#soft)">
<path d="M413.4 177.9h1.4v1.4h-1.4zM407.4 203.8h1.4v1.4h-1.4zM406.5 203.6h1.4v1.4h-1.4zM431.9 201.2h1.4v1.4h-1.4zM412.6 208.6h1.4v1.4h-1.4zM423.8 164.2h1.4v1.4h-1.4zM407.0 188.8h1.4v1.4h-1.4zM410.5 166.7h1.4v1.4h-1.4zM383.0 190.9h1.4v1.4h-1.4zM429.3 194.9h1.4v1.4h-1.4zM417.3 174.4h1.4v1.4h-1.4zM374.5 198.9h1.4v1.4h-1.4zM398.4 202.9h1.4v1.4h-1.4zM427.7 212.5h1.4v1.4h-1.4zM408.3 198.9h1.4v1.4h-1.4zM404.8 187.2h1.4v1.4h-1.4zM398.3 203.2h1.4v1.4h-1.4zM382.3 202.8h1.4v1.4h-1.4zM398.2 180.3h1.4v1.4h-1.4zM413.4 189.0h1.4v1.4h-1.4zM399.1 179.2h1.4v1.4h-1.4zM382.7 164.9h1.4v1.4h-1.4zM394.7 193.0h1.4v1.4h-1.4zM410.1 211.9h1.4v1.4h-1.4zM368.5 179.0h1.4v1.4h-1.4zM417.3 212.6h1.4v1.4h-1.4zM424.4 204.3h1.4v1.4h-1.4zM375.2 161.3h1.4v1.4h-1.4zM370.0 212.8h1.4v1.4h-1.4zM399.1 201.2h1.4v1.4h-1.4zM394.5 188.8h1.4v1.4h-1.4zM375.9 200.8h1.4v1.4h-1.4zM378.0 217.6h1.4v1.4h-1.4zM424.2 165.6h1.4v1.4h-1.4zM426.3 203.8h1.4v1.4h-1.4zM395.8 172.2h1.4v1.4h-1.4zM431.3 182.3h1.4v1.4h-1.4zM394.5 212.4h1.4v1.4h-1.4zM430.1 167.9h1.4v1.4h-1.4zM369.8 173.7h1.4v1.4h-1.4zM370.1 205.8h1.4v1.4h-1.4zM395.0 192.8h1.4v1.4h-1.4zM402.8 194.0h1.4v1.4h-1.4zM405.5 172.2h1.4v1.4h-1.4z" fill="rgb(255,255,255)"/>
<path d="M376.9 221.0h1.4v1.4h-1.4zM432.7 175.4h1.4v1.4h-1.4zM400.3 174.9h1.4v1.4h-1.4zM394.2 165.6h1.4v1.4h-1.4zM393.0 191.4h1.4v1.4h-1.4zM429.3 182.4h1.4v1.4h-1.4zM387.0 211.1h1.4v1.4h-1.4zM426.4 181.3h1.4v1.4h-1.4zM409.4 184.0h1.4v1.4h-1.4zM425.6 215.2h1.4v1.4h-1.4zM410.8 182.0h1.4v1.4h-1.4zM400.7 169.6h1.4v1.4h-1.4zM411.8 180.0h1.4v1.4h-1.4zM415.3 194.2h1.4v1.4h-1.4zM366.7 208.6h1.4v1.4h-1.4zM390.9 175.0h1.4v1.4h-1.4zM384.5 168.7h1.4v1.4h-1.4zM419.1 204.8h1.4v1.4h-1.4zM394.2 214.3h1.4v1.4h-1.4zM397.8 189.4h1.4v1.4h-1.4zM412.0 177.3h1.4v1.4h-1.4zM424.0 208.0h1.4v1.4h-1.4zM407.7 210.3h1.4v1.4h-1.4zM392.5 192.5h1.4v1.4h-1.4zM422.1 199.6h1.4v1.4h-1.4zM370.7 217.0h1.4v1.4h-1.4zM420.8 166.3h1.4v1.4h-1.4zM430.5 163.7h1.4v1.4h-1.4zM420.2 167.4h1.4v1.4h-1.4zM414.9 198.6h1.4v1.4h-1.4zM390.8 172.2h1.4v1.4h-1.4zM432.6 214.5h1.4v1.4h-1.4zM371.9 181.1h1.4v1.4h-1.4zM422.9 183.1h1.4v1.4h-1.4zM404.8 214.4h1.4v1.4h-1.4zM384.8 216.0h1.4v1.4h-1.4zM380.3 165.5h1.4v1.4h-1.4zM394.4 205.1h1.4v1.4h-1.4zM426.7 208.9h1.4v1.4h-1.4zM391.3 193.8h1.4v1.4h-1.4zM429.5 174.2h1.4v1.4h-1.4zM426.0 209.8h1.4v1.4h-1.4zM402.1 168.8h1.4v1.4h-1.4zM382.2 177.7h1.4v1.4h-1.4zM409.9 197.2h1.4v1.4h-1.4zM387.5 174.8h1.4v1.4h-1.4zM383.3 168.4h1.4v1.4h-1.4zM394.7 194.1h1.4v1.4h-1.4zM427.7 169.2h1.4v1.4h-1.4zM425.4 187.5h1.4v1.4h-1.4zM407.5 198.7h1.4v1.4h-1.4zM426.0 208.6h1.4v1.4h-1.4zM424.3 174.9h1.4v1.4h-1.4zM431.7 212.2h1.4v1.4h-1.4zM427.0 211.0h1.4v1.4h-1.4zM406.2 206.5h1.4v1.4h-1.4zM398.1 212.9h1.4v1.4h-1.4zM431.4 173.2h1.4v1.4h-1.4zM371.7 181.6h1.4v1.4h-1.4z" fill="rgb(200,200,200)"/>
<path d="M367.6 169.4h1.4v1.4h-1.4zM373.0 167.9h1.4v1.4h-1.4zM397.5 212.1h1.4v1.4h-1.4zM397.9 167.8h1.4v1.4h-1.4zM415.5 178.3h1.4v1.4h-1.4zM425.7 218.4h1.4v1.4h-1.4zM405.7 203.0h1.4v1.4h-1.4zM372.0 161.3h1.4v1.4h-1.4zM374.9 166.8h1.4v1.4h-1.4zM409.9 211.9h1.4v1.4h-1.4zM400.9 167.9h1.4v1.4h-1.4zM425.0 174.8h1.4v1.4h-1.4zM404.1 191.4h1.4v1.4h-1.4zM392.3 210.0h1.4v1.4h-1.4zM408.5 207.1h1.4v1.4h-1.4zM429.6 188.3h1.4v1.4h-1.4zM430.9 195.6h1.4v1.4h-1.4zM399.9 201.0h1.4v1.4h-1.4zM392.6 186.9h1.4v1.4h-1.4zM420.4 203.6h1.4v1.4h-1.4zM391.7 220.6h1.4v1.4h-1.4zM381.4 201.8h1.4v1.4h-1.4zM412.9 176.5h1.4v1.4h-1.4zM405.3 180.1h1.4v1.4h-1.4zM409.9 217.6h1.4v1.4h-1.4zM390.2 172.8h1.4v1.4h-1.4zM400.0 184.6h1.4v1.4h-1.4zM376.7 218.2h1.4v1.4h-1.4zM395.8 206.7h1.4v1.4h-1.4zM427.0 218.3h1.4v1.4h-1.4zM410.1 197.2h1.4v1.4h-1.4zM421.9 183.2h1.4v1.4h-1.4zM429.6 204.0h1.4v1.4h-1.4zM390.9 211.8h1.4v1.4h-1.4zM408.5 176.3h1.4v1.4h-1.4zM367.9 167.2h1.4v1.4h-1.4zM427.1 192.2h1.4v1.4h-1.4zM390.4 217.2h1.4v1.4h-1.4zM380.5 181.3h1.4v1.4h-1.4zM383.2 195.5h1.4v1.4h-1.4zM420.5 165.1h1.4v1.4h-1.4zM369.1 206.0h1.4v1.4h-1.4zM384.8 219.3h1.4v1.4h-1.4zM419.4 214.6h1.4v1.4h-1.4zM381.8 199.8h1.4v1.4h-1.4zM415.3 166.9h1.4v1.4h-1.4zM400.3 179.7h1.4v1.4h-1.4zM383.7 187.5h1.4v1.4h-1.4zM380.3 168.8h1.4v1.4h-1.4zM429.2 208.5h1.4v1.4h-1.4zM424.6 177.5h1.4v1.4h-1.4zM396.8 198.7h1.4v1.4h-1.4zM378.0 169.6h1.4v1.4h-1.4zM379.3 211.4h1.4v1.4h-1.4zM384.7 175.1h1.4v1.4h-1.4zM385.9 193.4h1.4v1.4h-1.4z" fill="rgb(150,150,150)"/>
</g>
<rect x="369.40" y="217.00" width="20.00" height="2.10" fill="#fff" stroke="none" stroke-width="1"/>
<rect x="444.20" y="160.00" width="69.30" height="64.00" fill="#1d1d1d" stroke="#3a3a3a" stroke-width="0.8"/>
<g filter="url(#soft)">
<path d="M462.2 199.5h1.4v1.4h-1.4zM475.3 199.0h1.4v1.4h-1.4zM487.6 218.7h1.4v1.4h-1.4zM497.4 192.7h1.4v1.4h-1.4zM455.2 179.4h1.4v1.4h-1.4zM471.9 183.3h1.4v1.4h-1.4zM488.7 185.2h1.4v1.4h-1.4zM451.7 166.5h1.4v1.4h-1.4zM495.7 170.1h1.4v1.4h-1.4zM452.2 167.9h1.4v1.4h-1.4zM477.5 165.7h1.4v1.4h-1.4zM486.8 174.3h1.4v1.4h-1.4zM488.9 199.7h1.4v1.4h-1.4zM497.9 192.0h1.4v1.4h-1.4zM485.7 196.6h1.4v1.4h-1.4zM454.7 187.0h1.4v1.4h-1.4zM497.1 162.1h1.4v1.4h-1.4zM474.8 211.7h1.4v1.4h-1.4zM472.7 178.5h1.4v1.4h-1.4zM462.8 167.3h1.4v1.4h-1.4zM487.0 166.3h1.4v1.4h-1.4zM499.3 173.3h1.4v1.4h-1.4zM493.8 179.9h1.4v1.4h-1.4zM498.7 215.0h1.4v1.4h-1.4zM504.3 200.1h1.4v1.4h-1.4zM477.5 169.5h1.4v1.4h-1.4zM495.3 200.1h1.4v1.4h-1.4zM481.4 164.8h1.4v1.4h-1.4zM500.9 214.8h1.4v1.4h-1.4zM495.4 187.4h1.4v1.4h-1.4zM495.5 181.7h1.4v1.4h-1.4zM480.0 211.4h1.4v1.4h-1.4zM504.8 217.6h1.4v1.4h-1.4zM487.4 169.3h1.4v1.4h-1.4zM470.7 203.8h1.4v1.4h-1.4zM509.4 195.0h1.4v1.4h-1.4zM457.7 184.0h1.4v1.4h-1.4zM456.4 170.4h1.4v1.4h-1.4zM470.7 169.0h1.4v1.4h-1.4zM496.7 161.1h1.4v1.4h-1.4zM463.0 196.8h1.4v1.4h-1.4zM448.5 198.3h1.4v1.4h-1.4zM499.0 201.1h1.4v1.4h-1.4zM491.7 171.5h1.4v1.4h-1.4zM501.7 195.1h1.4v1.4h-1.4zM509.1 206.8h1.4v1.4h-1.4zM487.9 215.4h1.4v1.4h-1.4zM467.9 196.7h1.4v1.4h-1.4zM507.6 169.8h1.4v1.4h-1.4zM504.2 162.0h1.4v1.4h-1.4zM461.5 214.6h1.4v1.4h-1.4zM493.9 176.9h1.4v1.4h-1.4zM490.4 184.6h1.4v1.4h-1.4zM482.7 199.8h1.4v1.4h-1.4zM509.6 177.4h1.4v1.4h-1.4zM447.0 170.4h1.4v1.4h-1.4zM470.1 178.8h1.4v1.4h-1.4zM496.7 203.7h1.4v1.4h-1.4zM470.9 216.6h1.4v1.4h-1.4zM450.6 208.6h1.4v1.4h-1.4zM462.7 162.4h1.4v1.4h-1.4zM510.4 178.9h1.4v1.4h-1.4zM479.9 198.3h1.4v1.4h-1.4zM487.0 170.3h1.4v1.4h-1.4zM460.7 205.8h1.4v1.4h-1.4zM457.7 161.8h1.4v1.4h-1.4zM470.0 210.5h1.4v1.4h-1.4zM461.1 178.2h1.4v1.4h-1.4z" fill="rgb(255,255,255)"/>
<path d="M474.6 185.8h1.4v1.4h-1.4zM465.0 181.2h1.4v1.4h-1.4zM494.3 179.7h1.4v1.4h-1.4zM505.9 189.8h1.4v1.4h-1.4zM446.5 169.6h1.4v1.4h-1.4zM488.5 210.6h1.4v1.4h-1.4zM454.8 184.5h1.4v1.4h-1.4zM489.2 217.2h1.4v1.4h-1.4zM451.8 174.0h1.4v1.4h-1.4zM465.2 191.2h1.4v1.4h-1.4zM476.3 196.8h1.4v1.4h-1.4zM448.5 181.2h1.4v1.4h-1.4zM492.1 185.3h1.4v1.4h-1.4zM486.3 164.2h1.4v1.4h-1.4zM505.7 192.1h1.4v1.4h-1.4zM455.3 172.1h1.4v1.4h-1.4zM460.2 173.2h1.4v1.4h-1.4zM457.1 166.3h1.4v1.4h-1.4zM447.2 170.0h1.4v1.4h-1.4zM496.7 207.9h1.4v1.4h-1.4zM472.2 168.3h1.4v1.4h-1.4zM446.1 172.5h1.4v1.4h-1.4zM484.4 186.0h1.4v1.4h-1.4zM474.7 217.6h1.4v1.4h-1.4zM480.6 219.9h1.4v1.4h-1.4zM490.7 217.1h1.4v1.4h-1.4zM474.5 205.0h1.4v1.4h-1.4zM458.1 165.8h1.4v1.4h-1.4zM495.7 180.2h1.4v1.4h-1.4zM468.7 161.0h1.4v1.4h-1.4zM461.8 186.4h1.4v1.4h-1.4zM509.2 169.8h1.4v1.4h-1.4zM471.3 181.2h1.4v1.4h-1.4zM480.7 162.0h1.4v1.4h-1.4zM511.2 185.6h1.4v1.4h-1.4zM484.1 193.0h1.4v1.4h-1.4zM478.0 168.8h1.4v1.4h-1.4zM492.7 175.7h1.4v1.4h-1.4zM473.6 170.0h1.4v1.4h-1.4zM502.8 197.9h1.4v1.4h-1.4zM461.4 163.3h1.4v1.4h-1.4zM486.9 175.8h1.4v1.4h-1.4zM458.3 170.5h1.4v1.4h-1.4zM458.5 186.7h1.4v1.4h-1.4zM497.6 183.6h1.4v1.4h-1.4zM450.7 201.7h1.4v1.4h-1.4zM465.3 195.1h1.4v1.4h-1.4zM491.4 199.0h1.4v1.4h-1.4zM509.0 196.9h1.4v1.4h-1.4zM506.4 210.2h1.4v1.4h-1.4zM451.3 183.3h1.4v1.4h-1.4zM473.8 202.3h1.4v1.4h-1.4zM499.9 188.6h1.4v1.4h-1.4zM478.8 213.7h1.4v1.4h-1.4zM497.7 204.7h1.4v1.4h-1.4zM485.6 201.9h1.4v1.4h-1.4zM479.9 170.5h1.4v1.4h-1.4zM453.3 202.5h1.4v1.4h-1.4zM497.1 204.7h1.4v1.4h-1.4zM470.2 195.6h1.4v1.4h-1.4zM486.6 208.4h1.4v1.4h-1.4zM462.8 181.1h1.4v1.4h-1.4zM464.2 207.1h1.4v1.4h-1.4zM465.2 199.4h1.4v1.4h-1.4zM448.9 168.0h1.4v1.4h-1.4zM491.7 182.1h1.4v1.4h-1.4zM459.4 170.3h1.4v1.4h-1.4zM459.4 168.3h1.4v1.4h-1.4zM455.9 177.1h1.4v1.4h-1.4zM474.2 164.0h1.4v1.4h-1.4zM499.9 174.0h1.4v1.4h-1.4zM479.9 174.5h1.4v1.4h-1.4zM464.8 189.3h1.4v1.4h-1.4zM458.8 203.9h1.4v1.4h-1.4zM457.8 174.1h1.4v1.4h-1.4zM497.8 202.6h1.4v1.4h-1.4zM484.0 215.8h1.4v1.4h-1.4zM488.6 178.4h1.4v1.4h-1.4zM454.3 190.5h1.4v1.4h-1.4zM463.4 195.9h1.4v1.4h-1.4zM468.8 203.5h1.4v1.4h-1.4zM451.1 218.6h1.4v1.4h-1.4zM485.5 186.4h1.4v1.4h-1.4zM492.0 216.3h1.4v1.4h-1.4zM485.6 192.5h1.4v1.4h-1.4zM476.6 182.0h1.4v1.4h-1.4zM463.0 162.3h1.4v1.4h-1.4zM510.2 200.2h1.4v1.4h-1.4zM454.9 165.7h1.4v1.4h-1.4zM488.3 202.6h1.4v1.4h-1.4zM498.8 197.1h1.4v1.4h-1.4zM460.8 209.4h1.4v1.4h-1.4zM473.8 182.6h1.4v1.4h-1.4zM500.4 166.7h1.4v1.4h-1.4zM463.7 183.2h1.4v1.4h-1.4zM494.5 195.5h1.4v1.4h-1.4zM480.4 164.7h1.4v1.4h-1.4zM489.7 170.9h1.4v1.4h-1.4zM497.2 207.6h1.4v1.4h-1.4zM475.3 184.1h1.4v1.4h-1.4zM510.9 209.9h1.4v1.4h-1.4z" fill="rgb(200,200,200)"/>
<path d="M469.0 190.1h1.4v1.4h-1.4zM498.5 201.5h1.4v1.4h-1.4zM459.9 179.7h1.4v1.4h-1.4zM497.2 182.0h1.4v1.4h-1.4zM445.9 212.2h1.4v1.4h-1.4zM475.1 198.2h1.4v1.4h-1.4zM461.9 171.7h1.4v1.4h-1.4zM479.8 216.9h1.4v1.4h-1.4zM475.8 205.3h1.4v1.4h-1.4zM447.6 162.6h1.4v1.4h-1.4zM503.1 187.2h1.4v1.4h-1.4zM502.1 173.5h1.4v1.4h-1.4zM446.5 179.4h1.4v1.4h-1.4zM489.3 205.0h1.4v1.4h-1.4zM446.5 198.9h1.4v1.4h-1.4zM508.4 203.0h1.4v1.4h-1.4zM483.5 182.1h1.4v1.4h-1.4zM494.6 216.1h1.4v1.4h-1.4zM494.9 167.8h1.4v1.4h-1.4zM457.8 206.1h1.4v1.4h-1.4zM508.1 185.9h1.4v1.4h-1.4zM468.1 200.6h1.4v1.4h-1.4zM508.8 171.0h1.4v1.4h-1.4zM509.1 171.0h1.4v1.4h-1.4zM485.4 185.7h1.4v1.4h-1.4zM499.0 215.3h1.4v1.4h-1.4zM509.0 189.7h1.4v1.4h-1.4zM447.6 165.9h1.4v1.4h-1.4zM485.4 179.4h1.4v1.4h-1.4zM480.3 162.0h1.4v1.4h-1.4zM465.9 186.5h1.4v1.4h-1.4zM453.0 165.7h1.4v1.4h-1.4zM449.0 182.0h1.4v1.4h-1.4zM468.4 201.4h1.4v1.4h-1.4zM493.6 197.2h1.4v1.4h-1.4zM498.5 164.2h1.4v1.4h-1.4zM454.8 162.8h1.4v1.4h-1.4zM460.7 179.2h1.4v1.4h-1.4zM468.0 167.4h1.4v1.4h-1.4zM480.6 167.1h1.4v1.4h-1.4zM498.5 164.9h1.4v1.4h-1.4zM481.5 216.8h1.4v1.4h-1.4zM457.5 209.5h1.4v1.4h-1.4zM498.6 160.9h1.4v1.4h-1.4zM465.1 219.5h1.4v1.4h-1.4zM472.7 162.2h1.4v1.4h-1.4zM506.1 211.6h1.4v1.4h-1.4zM495.6 200.8h1.4v1.4h-1.4zM496.1 167.7h1.4v1.4h-1.4zM493.1 212.8h1.4v1.4h-1.4zM481.7 170.3h1.4v1.4h-1.4zM445.7 214.9h1.4v1.4h-1.4zM488.7 174.1h1.4v1.4h-1.4zM497.2 164.7h1.4v1.4h-1.4zM479.5 167.4h1.4v1.4h-1.4zM472.7 183.0h1.4v1.4h-1.4zM504.2 190.8h1.4v1.4h-1.4zM478.4 217.5h1.4v1.4h-1.4zM504.2 169.0h1.4v1.4h-1.4zM461.4 199.4h1.4v1.4h-1.4zM493.2 198.0h1.4v1.4h-1.4zM507.5 189.4h1.4v1.4h-1.4zM486.2 209.6h1.4v1.4h-1.4zM449.8 215.1h1.4v1.4h-1.4zM494.2 164.7h1.4v1.4h-1.4zM509.1 218.1h1.4v1.4h-1.4zM466.5 187.4h1.4v1.4h-1.4zM510.8 172.3h1.4v1.4h-1.4zM470.2 186.4h1.4v1.4h-1.4zM457.2 189.2h1.4v1.4h-1.4zM461.4 195.5h1.4v1.4h-1.4zM472.5 192.8h1.4v1.4h-1.4zM465.3 214.3h1.4v1.4h-1.4zM480.1 206.5h1.4v1.4h-1.4zM510.2 165.4h1.4v1.4h-1.4zM473.7 192.2h1.4v1.4h-1.4zM503.6 194.4h1.4v1.4h-1.4zM499.3 216.5h1.4v1.4h-1.4zM492.0 192.9h1.4v1.4h-1.4zM453.9 173.4h1.4v1.4h-1.4zM478.4 203.1h1.4v1.4h-1.4zM507.4 210.7h1.4v1.4h-1.4zM508.8 173.7h1.4v1.4h-1.4zM458.2 162.4h1.4v1.4h-1.4zM469.7 175.8h1.4v1.4h-1.4zM501.9 202.4h1.4v1.4h-1.4zM480.8 186.7h1.4v1.4h-1.4zM469.1 171.9h1.4v1.4h-1.4zM489.3 196.1h1.4v1.4h-1.4zM453.6 190.7h1.4v1.4h-1.4zM455.6 187.3h1.4v1.4h-1.4zM503.6 211.0h1.4v1.4h-1.4zM489.0 217.0h1.4v1.4h-1.4zM474.7 204.0h1.4v1.4h-1.4zM449.3 194.4h1.4v1.4h-1.4zM504.8 163.4h1.4v1.4h-1.4zM458.7 217.9h1.4v1.4h-1.4z" fill="rgb(150,150,150)"/>
</g>
<rect x="448.00" y="217.50" width="20.00" height="2.10" fill="#fff" stroke="none" stroke-width="1"/>
<rect x="365.60" y="227.20" width="69.30" height="64.00" fill="#030303" stroke="#3a3a3a" stroke-width="0.8"/>
<g filter="url(#soft)">
<path d="M429.8 245.6h1.7v1.7h-1.7zM417.0 270.7h1.7v1.7h-1.7zM399.5 247.3h1.7v1.7h-1.7zM424.2 237.2h1.7v1.7h-1.7zM402.0 281.6h1.7v1.7h-1.7zM389.8 286.2h1.7v1.7h-1.7zM391.1 275.0h1.7v1.7h-1.7zM423.7 242.5h1.7v1.7h-1.7zM403.1 286.1h1.7v1.7h-1.7zM401.2 249.8h1.7v1.7h-1.7zM388.3 283.2h1.7v1.7h-1.7z" fill="rgb(255,255,255)"/>
<path d="M400.9 277.0h1.7v1.7h-1.7zM368.2 251.3h1.7v1.7h-1.7zM415.7 243.3h1.7v1.7h-1.7zM422.3 285.4h1.7v1.7h-1.7zM370.5 277.3h1.7v1.7h-1.7zM408.6 246.8h1.7v1.7h-1.7zM371.8 285.0h1.7v1.7h-1.7zM397.7 288.5h1.7v1.7h-1.7zM367.6 250.6h1.7v1.7h-1.7zM369.8 273.6h1.7v1.7h-1.7zM379.1 264.7h1.7v1.7h-1.7z" fill="rgb(200,200,200)"/>
<path d="M410.1 234.7h1.7v1.7h-1.7zM392.9 288.6h1.7v1.7h-1.7zM413.0 261.9h1.7v1.7h-1.7zM429.4 240.7h1.7v1.7h-1.7zM375.7 277.3h1.7v1.7h-1.7zM420.1 283.8h1.7v1.7h-1.7zM384.0 275.7h1.7v1.7h-1.7zM403.1 261.6h1.7v1.7h-1.7zM374.9 268.0h1.7v1.7h-1.7zM426.9 247.4h1.7v1.7h-1.7z" fill="rgb(150,150,150)"/>
</g>
<rect x="370.10" y="284.70" width="20.00" height="2.10" fill="#fff" stroke="none" stroke-width="1"/>
<rect x="444.20" y="227.20" width="69.30" height="64.00" fill="#030303" stroke="#3a3a3a" stroke-width="0.8"/>
<g filter="url(#soft)">
<path d="M493.5 262.9h1.7v1.7h-1.7zM458.3 269.1h1.7v1.7h-1.7zM459.5 272.1h1.7v1.7h-1.7zM480.5 264.0h1.7v1.7h-1.7zM471.9 257.2h1.7v1.7h-1.7zM451.7 270.8h1.7v1.7h-1.7zM450.9 237.0h1.7v1.7h-1.7zM458.5 283.3h1.7v1.7h-1.7zM500.8 246.3h1.7v1.7h-1.7zM482.7 236.9h1.7v1.7h-1.7zM455.7 272.8h1.7v1.7h-1.7zM488.0 253.9h1.7v1.7h-1.7zM479.0 261.9h1.7v1.7h-1.7zM475.3 234.1h1.7v1.7h-1.7z" fill="rgb(255,255,255)"/>
<path d="M477.3 258.0h1.7v1.7h-1.7zM476.7 255.8h1.7v1.7h-1.7zM462.5 243.4h1.7v1.7h-1.7zM490.7 247.7h1.7v1.7h-1.7zM489.5 275.8h1.7v1.7h-1.7zM455.6 240.6h1.7v1.7h-1.7zM467.4 277.3h1.7v1.7h-1.7zM455.0 232.8h1.7v1.7h-1.7zM487.8 261.0h1.7v1.7h-1.7zM486.6 276.1h1.7v1.7h-1.7zM499.0 269.4h1.7v1.7h-1.7zM503.4 257.0h1.7v1.7h-1.7zM498.9 239.0h1.7v1.7h-1.7zM472.5 244.4h1.7v1.7h-1.7z" fill="rgb(200,200,200)"/>
<path d="M457.0 268.1h1.7v1.7h-1.7zM467.1 240.0h1.7v1.7h-1.7zM502.2 285.3h1.7v1.7h-1.7zM460.5 242.4h1.7v1.7h-1.7zM502.6 278.7h1.7v1.7h-1.7zM459.3 246.1h1.7v1.7h-1.7zM445.4 287.2h1.7v1.7h-1.7zM479.8 278.1h1.7v1.7h-1.7zM484.6 246.4h1.7v1.7h-1.7zM452.6 257.0h1.7v1.7h-1.7zM505.9 236.8h1.7v1.7h-1.7zM490.1 266.3h1.7v1.7h-1.7zM490.3 254.5h1.7v1.7h-1.7zM483.8 260.4h1.7v1.7h-1.7zM499.4 261.1h1.7v1.7h-1.7zM479.8 287.8h1.7v1.7h-1.7zM453.8 269.8h1.7v1.7h-1.7zM471.2 270.6h1.7v1.7h-1.7zM454.5 248.5h1.7v1.7h-1.7zM453.3 288.4h1.7v1.7h-1.7zM480.7 229.1h1.7v1.7h-1.7z" fill="rgb(150,150,150)"/>
</g>
<rect x="448.70" y="285.20" width="20.00" height="2.10" fill="#fff" stroke="none" stroke-width="1"/>
<text x="180.70" y="12.90" font-size="16" font-weight="bold" font-style="normal" text-anchor="start" fill="#000">b</text>
<circle cx="259.30" cy="46.40" r="1.90" fill="#000" stroke="none" stroke-width="1"/>
<text x="274.2" y="50.3" font-size="11.3"><tspan font-weight="normal" font-style="italic">CDK4</tspan>-WT</text>
<rect x="256.90" y="62.30" width="3.50" height="3.50" fill="#f2211b" stroke="none" stroke-width="1"/>
<text x="274.2" y="68.2" font-size="11.3"><tspan font-weight="normal" font-style="italic">CDK4</tspan>-KO</text>
<rect x="244.10" y="118.33" width="5.50" height="108.67" fill="#d4d4d4" stroke="#000" stroke-width="1.25"/>
<line x1="246.85" y1="118.33" x2="246.85" y2="115.07" stroke="#000" stroke-width="0.9"/>
<line x1="245.35" y1="115.07" x2="248.35" y2="115.07" stroke="#000" stroke-width="0.9"/>
<circle cx="246.41" cy="112.90" r="1.70" fill="#000" stroke="none" stroke-width="1"/>
<circle cx="247.05" cy="118.33" r="1.50" fill="#fff" stroke="#000" stroke-width="0.8"/>
<circle cx="247.81" cy="121.59" r="1.70" fill="#000" stroke="none" stroke-width="1"/>
<circle cx="247.62" cy="120.51" r="1.50" fill="#fff" stroke="#000" stroke-width="0.8"/>
<rect x="251.40" y="118.33" width="5.60" height="108.67" fill="#f4b0ae" stroke="#f2211b" stroke-width="1.25"/>
<line x1="254.20" y1="118.33" x2="254.20" y2="113.99" stroke="#f2211b" stroke-width="0.9"/>
<line x1="252.70" y1="113.99" x2="255.70" y2="113.99" stroke="#f2211b" stroke-width="0.9"/>
<rect x="252.42" y="110.21" width="3.20" height="3.20" fill="#f2211b" stroke="none" stroke-width="1"/>
<rect x="252.84" y="112.59" width="2.80" height="2.80" fill="#fff" stroke="#f2211b" stroke-width="0.8"/>
<rect x="252.37" y="121.08" width="3.20" height="3.20" fill="#f2211b" stroke="none" stroke-width="1"/>
<rect x="252.32" y="124.54" width="2.80" height="2.80" fill="#fff" stroke="#f2211b" stroke-width="0.8"/>
<rect x="265.00" y="171.58" width="5.50" height="55.42" fill="#d4d4d4" stroke="#000" stroke-width="1.25"/>
<line x1="267.75" y1="171.58" x2="267.75" y2="163.97" stroke="#000" stroke-width="0.9"/>
<line x1="266.25" y1="163.97" x2="269.25" y2="163.97" stroke="#000" stroke-width="0.9"/>
<circle cx="267.12" cy="157.45" r="1.70" fill="#000" stroke="none" stroke-width="1"/>
<circle cx="268.42" cy="170.49" r="1.50" fill="#fff" stroke="#000" stroke-width="0.8"/>
<circle cx="268.24" cy="174.84" r="1.70" fill="#000" stroke="none" stroke-width="1"/>
<circle cx="266.97" cy="180.27" r="1.50" fill="#fff" stroke="#000" stroke-width="0.8"/>
<rect x="272.30" y="158.54" width="5.60" height="68.46" fill="#f4b0ae" stroke="#f2211b" stroke-width="1.25"/>
<line x1="275.10" y1="158.54" x2="275.10" y2="148.76" stroke="#f2211b" stroke-width="0.9"/>
<line x1="273.60" y1="148.76" x2="276.60" y2="148.76" stroke="#f2211b" stroke-width="0.9"/>
<rect x="273.15" y="143.90" width="3.20" height="3.20" fill="#f2211b" stroke="none" stroke-width="1"/>
<rect x="273.21" y="153.88" width="2.80" height="2.80" fill="#fff" stroke="#f2211b" stroke-width="0.8"/>
<rect x="274.15" y="164.55" width="3.20" height="3.20" fill="#f2211b" stroke="none" stroke-width="1"/>
<rect x="274.18" y="169.09" width="2.80" height="2.80" fill="#fff" stroke="#f2211b" stroke-width="0.8"/>
<rect x="285.50" y="170.49" width="5.50" height="56.51" fill="#d4d4d4" stroke="#000" stroke-width="1.25"/>
<line x1="288.25" y1="170.49" x2="288.25" y2="163.97" stroke="#000" stroke-width="0.9"/>
<line x1="286.75" y1="163.97" x2="289.75" y2="163.97" stroke="#000" stroke-width="0.9"/>
<circle cx="288.02" cy="157.45" r="1.70" fill="#000" stroke="none" stroke-width="1"/>
<circle cx="288.70" cy="170.49" r="1.50" fill="#fff" stroke="#000" stroke-width="0.8"/>
<circle cx="288.19" cy="174.84" r="1.70" fill="#000" stroke="none" stroke-width="1"/>
<circle cx="288.89" cy="178.10" r="1.50" fill="#fff" stroke="#000" stroke-width="0.8"/>
<rect x="292.80" y="153.11" width="5.60" height="73.89" fill="#f4b0ae" stroke="#f2211b" stroke-width="1.25"/>
<line x1="295.60" y1="153.11" x2="295.60" y2="146.59" stroke="#f2211b" stroke-width="0.9"/>
<line x1="294.10" y1="146.59" x2="297.10" y2="146.59" stroke="#f2211b" stroke-width="0.9"/>
<rect x="294.79" y="142.81" width="3.20" height="3.20" fill="#f2211b" stroke="none" stroke-width="1"/>
<rect x="293.95" y="146.27" width="2.80" height="2.80" fill="#fff" stroke="#f2211b" stroke-width="0.8"/>
<rect x="294.95" y="152.59" width="3.20" height="3.20" fill="#f2211b" stroke="none" stroke-width="1"/>
<rect x="293.68" y="158.23" width="2.80" height="2.80" fill="#fff" stroke="#f2211b" stroke-width="0.8"/>
<rect x="306.10" y="202.01" width="5.50" height="24.99" fill="#d4d4d4" stroke="#000" stroke-width="1.25"/>
<line x1="308.85" y1="202.01" x2="308.85" y2="200.38" stroke="#000" stroke-width="0.9"/>
<line x1="307.35" y1="200.38" x2="310.35" y2="200.38" stroke="#000" stroke-width="0.9"/>
<circle cx="309.51" cy="199.83" r="1.70" fill="#000" stroke="none" stroke-width="1"/>
<circle cx="309.03" cy="200.92" r="1.50" fill="#fff" stroke="#000" stroke-width="0.8"/>
<circle cx="309.00" cy="203.09" r="1.70" fill="#000" stroke="none" stroke-width="1"/>
<rect x="313.40" y="188.97" width="5.60" height="38.03" fill="#f4b0ae" stroke="#f2211b" stroke-width="1.25"/>
<line x1="316.20" y1="188.97" x2="316.20" y2="187.34" stroke="#f2211b" stroke-width="0.9"/>
<line x1="314.70" y1="187.34" x2="317.70" y2="187.34" stroke="#f2211b" stroke-width="0.9"/>
<rect x="314.53" y="186.28" width="3.20" height="3.20" fill="#f2211b" stroke="none" stroke-width="1"/>
<rect x="314.06" y="187.57" width="2.80" height="2.80" fill="#fff" stroke="#f2211b" stroke-width="0.8"/>
<rect x="313.77" y="189.54" width="3.20" height="3.20" fill="#f2211b" stroke="none" stroke-width="1"/>
<line x1="241.20" y1="63.40" x2="241.20" y2="227.60" stroke="#000" stroke-width="1.3"/>
<line x1="235.60" y1="227.00" x2="241.20" y2="227.00" stroke="#000" stroke-width="1.3"/>
<text x="233.80" y="230.78" font-size="10.5" font-weight="bold" font-style="normal" text-anchor="end" fill="#000">0</text>
<line x1="235.60" y1="172.67" x2="241.20" y2="172.67" stroke="#000" stroke-width="1.3"/>
<text x="233.80" y="176.45" font-size="10.5" font-weight="bold" font-style="normal" text-anchor="end" fill="#000">50</text>
<line x1="235.60" y1="118.33" x2="241.20" y2="118.33" stroke="#000" stroke-width="1.3"/>
<text x="233.80" y="122.11" font-size="10.5" font-weight="bold" font-style="normal" text-anchor="end" fill="#000">100</text>
<line x1="235.60" y1="64.00" x2="241.20" y2="64.00" stroke="#000" stroke-width="1.3"/>
<text x="233.80" y="67.78" font-size="10.5" font-weight="bold" font-style="normal" text-anchor="end" fill="#000">150</text>
<line x1="240.60" y1="227.00" x2="322.00" y2="227.00" stroke="#000" stroke-width="1.3"/>
<line x1="250.30" y1="227.00" x2="250.30" y2="232.00" stroke="#000" stroke-width="1.3"/>
<line x1="271.20" y1="227.00" x2="271.20" y2="232.00" stroke="#000" stroke-width="1.3"/>
<line x1="291.70" y1="227.00" x2="291.70" y2="232.00" stroke="#000" stroke-width="1.3"/>
<line x1="312.30" y1="227.00" x2="312.30" y2="232.00" stroke="#000" stroke-width="1.3"/>
<text x="198.00" y="146.00" font-size="10.2" font-weight="bold" font-style="normal" text-anchor="middle" fill="#000" transform="rotate(-90 198.0 146.0)">Relative number of</text>
<text x="210.00" y="146.00" font-size="10.2" font-weight="bold" font-style="normal" text-anchor="middle" fill="#000" transform="rotate(-90 210.0 146.0)">viable cells (% vs. Veh)</text>
<text x="253.30" y="243.50" font-size="10.2" font-weight="bold" text-anchor="end" transform="rotate(-45 253.30 243.50)">Veh</text>
<text x="274.20" y="243.50" font-size="10.2" font-weight="bold" text-anchor="end" transform="rotate(-45 274.20 243.50)">Cisplatin</text>
<text x="294.70" y="243.50" font-size="10.2" font-weight="bold" text-anchor="end" transform="rotate(-45 294.70 243.50)">5-FU</text>
<text x="315.30" y="243.50" font-size="10.2" font-weight="bold" text-anchor="end" transform="rotate(-45 315.30 243.50)">Dox</text>
<text x="271.30" y="135.43" font-size="8.7" font-weight="bold" font-style="italic" text-anchor="middle" fill="#000">0.0354</text>
<line x1="267.50" y1="140.40" x2="274.70" y2="140.40" stroke="#000" stroke-width="1.4"/>
<text x="292.00" y="118.53" font-size="8.7" font-weight="bold" font-style="italic" text-anchor="middle" fill="#000">0.0056</text>
<line x1="288.40" y1="124.00" x2="295.30" y2="124.00" stroke="#000" stroke-width="1.4"/>
<text x="312.50" y="174.63" font-size="8.7" font-weight="bold" font-style="italic" text-anchor="middle" fill="#000">0.0490</text>
<line x1="309.00" y1="180.10" x2="316.00" y2="180.10" stroke="#000" stroke-width="1.4"/>
<text x="527.60" y="12.90" font-size="16" font-weight="bold" font-style="normal" text-anchor="start" fill="#000">d</text>
<circle cx="609.30" cy="47.10" r="1.90" fill="#000" stroke="none" stroke-width="1"/>
<text x="624.20" y="51.00" font-size="11.3" font-weight="normal" font-style="normal" text-anchor="start" fill="#000">Veh</text>
<rect x="607.50" y="63.20" width="3.50" height="3.50" fill="#f26522" stroke="none" stroke-width="1"/>
<text x="624.20" y="69.00" font-size="11.3" font-weight="normal" font-style="normal" text-anchor="start" fill="#000">Abema</text>
<rect x="593.10" y="118.87" width="5.50" height="108.53" fill="#d4d4d4" stroke="#000" stroke-width="1.25"/>
<line x1="595.85" y1="118.87" x2="595.85" y2="117.78" stroke="#000" stroke-width="0.9"/>
<line x1="594.35" y1="117.78" x2="597.35" y2="117.78" stroke="#000" stroke-width="0.9"/>
<circle cx="596.29" cy="118.87" r="1.70" fill="#000" stroke="none" stroke-width="1"/>
<circle cx="596.06" cy="118.87" r="1.50" fill="#fff" stroke="#000" stroke-width="0.8"/>
<circle cx="594.88" cy="119.95" r="1.70" fill="#000" stroke="none" stroke-width="1"/>
<rect x="600.40" y="118.87" width="5.60" height="108.53" fill="#fce3c6" stroke="#f26522" stroke-width="1.25"/>
<line x1="603.20" y1="118.87" x2="603.20" y2="109.10" stroke="#f26522" stroke-width="0.9"/>
<line x1="601.70" y1="109.10" x2="604.70" y2="109.10" stroke="#f26522" stroke-width="0.9"/>
<rect x="601.91" y="97.73" width="3.20" height="3.20" fill="#f26522" stroke="none" stroke-width="1"/>
<rect x="602.38" y="117.47" width="2.80" height="2.80" fill="#fff" stroke="#f26522" stroke-width="0.8"/>
<rect x="602.14" y="125.95" width="3.20" height="3.20" fill="#f26522" stroke="none" stroke-width="1"/>
<rect x="613.70" y="150.34" width="5.50" height="77.06" fill="#d4d4d4" stroke="#000" stroke-width="1.25"/>
<line x1="616.45" y1="150.34" x2="616.45" y2="144.91" stroke="#000" stroke-width="0.9"/>
<line x1="614.95" y1="144.91" x2="617.95" y2="144.91" stroke="#000" stroke-width="0.9"/>
<circle cx="617.27" cy="140.57" r="1.70" fill="#000" stroke="none" stroke-width="1"/>
<circle cx="615.74" cy="149.26" r="1.50" fill="#fff" stroke="#000" stroke-width="0.8"/>
<circle cx="616.90" cy="157.94" r="1.70" fill="#000" stroke="none" stroke-width="1"/>
<rect x="621.00" y="123.21" width="5.60" height="104.19" fill="#fce3c6" stroke="#f26522" stroke-width="1.25"/>
<line x1="623.80" y1="123.21" x2="623.80" y2="109.10" stroke="#f26522" stroke-width="0.9"/>
<line x1="622.30" y1="109.10" x2="625.30" y2="109.10" stroke="#f26522" stroke-width="0.9"/>
<rect x="621.84" y="93.39" width="3.20" height="3.20" fill="#f26522" stroke="none" stroke-width="1"/>
<rect x="622.30" y="121.81" width="2.80" height="2.80" fill="#fff" stroke="#f26522" stroke-width="0.8"/>
<rect x="621.35" y="130.29" width="3.20" height="3.20" fill="#f26522" stroke="none" stroke-width="1"/>
<rect x="621.96" y="139.17" width="2.80" height="2.80" fill="#fff" stroke="#f26522" stroke-width="0.8"/>
<rect x="634.20" y="163.37" width="5.50" height="64.03" fill="#d4d4d4" stroke="#000" stroke-width="1.25"/>
<line x1="636.95" y1="163.37" x2="636.95" y2="161.19" stroke="#000" stroke-width="0.9"/>
<line x1="635.45" y1="161.19" x2="638.45" y2="161.19" stroke="#000" stroke-width="0.9"/>
<circle cx="637.25" cy="160.11" r="1.70" fill="#000" stroke="none" stroke-width="1"/>
<circle cx="636.63" cy="163.37" r="1.50" fill="#fff" stroke="#000" stroke-width="0.8"/>
<circle cx="636.20" cy="165.54" r="1.70" fill="#000" stroke="none" stroke-width="1"/>
<rect x="641.50" y="129.72" width="5.60" height="97.68" fill="#fce3c6" stroke="#f26522" stroke-width="1.25"/>
<line x1="644.30" y1="129.72" x2="644.30" y2="124.29" stroke="#f26522" stroke-width="0.9"/>
<line x1="642.80" y1="124.29" x2="645.80" y2="124.29" stroke="#f26522" stroke-width="0.9"/>
<rect x="642.09" y="120.52" width="3.20" height="3.20" fill="#f26522" stroke="none" stroke-width="1"/>
<rect x="642.66" y="126.15" width="2.80" height="2.80" fill="#fff" stroke="#f26522" stroke-width="0.8"/>
<rect x="642.65" y="133.55" width="3.20" height="3.20" fill="#f26522" stroke="none" stroke-width="1"/>
<rect x="654.80" y="210.03" width="5.50" height="17.37" fill="#d4d4d4" stroke="#000" stroke-width="1.25"/>
<line x1="657.55" y1="210.03" x2="657.55" y2="208.95" stroke="#000" stroke-width="0.9"/>
<line x1="656.05" y1="208.95" x2="659.05" y2="208.95" stroke="#000" stroke-width="0.9"/>
<circle cx="658.05" cy="210.03" r="1.70" fill="#000" stroke="none" stroke-width="1"/>
<circle cx="658.10" cy="211.12" r="1.50" fill="#fff" stroke="#000" stroke-width="0.8"/>
<rect x="662.10" y="187.24" width="5.60" height="40.16" fill="#fce3c6" stroke="#f26522" stroke-width="1.25"/>
<line x1="664.90" y1="187.24" x2="664.90" y2="183.99" stroke="#f26522" stroke-width="0.9"/>
<line x1="663.40" y1="183.99" x2="666.40" y2="183.99" stroke="#f26522" stroke-width="0.9"/>
<rect x="663.32" y="180.22" width="3.20" height="3.20" fill="#f26522" stroke="none" stroke-width="1"/>
<rect x="663.58" y="184.76" width="2.80" height="2.80" fill="#fff" stroke="#f26522" stroke-width="0.8"/>
<rect x="663.47" y="187.81" width="3.20" height="3.20" fill="#f26522" stroke="none" stroke-width="1"/>
<line x1="590.00" y1="64.00" x2="590.00" y2="228.00" stroke="#000" stroke-width="1.3"/>
<line x1="584.40" y1="227.40" x2="590.00" y2="227.40" stroke="#000" stroke-width="1.3"/>
<text x="582.60" y="231.18" font-size="10.5" font-weight="bold" font-style="normal" text-anchor="end" fill="#000">0</text>
<line x1="584.40" y1="173.13" x2="590.00" y2="173.13" stroke="#000" stroke-width="1.3"/>
<text x="582.60" y="176.91" font-size="10.5" font-weight="bold" font-style="normal" text-anchor="end" fill="#000">50</text>
<line x1="584.40" y1="118.87" x2="590.00" y2="118.87" stroke="#000" stroke-width="1.3"/>
<text x="582.60" y="122.65" font-size="10.5" font-weight="bold" font-style="normal" text-anchor="end" fill="#000">100</text>
<line x1="584.40" y1="64.60" x2="590.00" y2="64.60" stroke="#000" stroke-width="1.3"/>
<text x="582.60" y="68.38" font-size="10.5" font-weight="bold" font-style="normal" text-anchor="end" fill="#000">150</text>
<line x1="589.40" y1="227.40" x2="671.00" y2="227.40" stroke="#000" stroke-width="1.3"/>
<line x1="599.30" y1="227.40" x2="599.30" y2="232.40" stroke="#000" stroke-width="1.3"/>
<line x1="619.90" y1="227.40" x2="619.90" y2="232.40" stroke="#000" stroke-width="1.3"/>
<line x1="640.40" y1="227.40" x2="640.40" y2="232.40" stroke="#000" stroke-width="1.3"/>
<line x1="661.00" y1="227.40" x2="661.00" y2="232.40" stroke="#000" stroke-width="1.3"/>
<text x="547.20" y="145.50" font-size="10.2" font-weight="bold" font-style="normal" text-anchor="middle" fill="#000" transform="rotate(-90 547.2 145.5)">Relative number of</text>
<text x="559.20" y="145.50" font-size="10.2" font-weight="bold" font-style="normal" text-anchor="middle" fill="#000" transform="rotate(-90 559.2 145.5)">viable cells (% vs. Veh)</text>
<text x="602.30" y="243.90" font-size="10.2" font-weight="bold" text-anchor="end" transform="rotate(-45 602.30 243.90)">Veh</text>
<text x="622.90" y="243.90" font-size="10.2" font-weight="bold" text-anchor="end" transform="rotate(-45 622.90 243.90)">Cisplatin</text>
<text x="643.40" y="243.90" font-size="10.2" font-weight="bold" text-anchor="end" transform="rotate(-45 643.40 243.90)">5-FU</text>
<text x="664.00" y="243.90" font-size="10.2" font-weight="bold" text-anchor="end" transform="rotate(-45 664.00 243.90)">Dox</text>
<text x="620.20" y="83.79" font-size="8.3" font-weight="bold" font-style="italic" text-anchor="middle" fill="#000">0.0288</text>
<line x1="616.40" y1="89.90" x2="623.20" y2="89.90" stroke="#000" stroke-width="1.4"/>
<text x="641.00" y="110.49" font-size="8.3" font-weight="bold" font-style="italic" text-anchor="middle" fill="#000">0.0122</text>
<line x1="637.20" y1="115.80" x2="644.00" y2="115.80" stroke="#000" stroke-width="1.4"/>
<text x="661.70" y="169.49" font-size="8.3" font-weight="normal" font-style="italic" text-anchor="middle" fill="#2a2a2a">0.0586</text>
<line x1="658.20" y1="175.00" x2="664.70" y2="175.00" stroke="#000" stroke-width="1.4"/>
<text x="1.00" y="313.00" font-size="16" font-weight="bold" font-style="normal" text-anchor="start" fill="#000">e</text>
<circle cx="116.90" cy="313.10" r="1.45" fill="#000" stroke="none" stroke-width="1"/>
<text x="131.40" y="317.10" font-size="11.5" font-weight="normal" font-style="normal" text-anchor="start" fill="#000">Veh</text>
<rect x="187.00" y="311.60" width="3.10" height="3.10" fill="#f26522" stroke="none" stroke-width="1"/>
<text x="202.00" y="317.10" font-size="11.5" font-weight="normal" font-style="normal" text-anchor="start" fill="#000">Abema</text>
<rect x="62.50" y="371.53" width="4.70" height="82.67" fill="#d4d4d4" stroke="#000" stroke-width="1.25"/>
<circle cx="65.36" cy="371.53" r="1.70" fill="#000" stroke="none" stroke-width="1"/>
<rect x="69.30" y="371.53" width="4.90" height="82.67" fill="#fce3c6" stroke="#f26522" stroke-width="1.25"/>
<rect x="70.51" y="369.93" width="3.20" height="3.20" fill="#f26522" stroke="none" stroke-width="1"/>
<rect x="81.52" y="400.47" width="4.70" height="53.73" fill="#d4d4d4" stroke="#000" stroke-width="1.25"/>
<line x1="83.87" y1="400.47" x2="83.87" y2="391.37" stroke="#000" stroke-width="0.9"/>
<line x1="82.37" y1="391.37" x2="85.37" y2="391.37" stroke="#000" stroke-width="0.9"/>
<circle cx="84.21" cy="388.07" r="1.70" fill="#000" stroke="none" stroke-width="1"/>
<circle cx="83.78" cy="396.33" r="1.50" fill="#fff" stroke="#000" stroke-width="0.8"/>
<circle cx="83.68" cy="408.73" r="1.70" fill="#000" stroke="none" stroke-width="1"/>
<circle cx="83.29" cy="417.00" r="1.50" fill="#fff" stroke="#000" stroke-width="0.8"/>
<rect x="88.32" y="373.19" width="4.90" height="81.01" fill="#fce3c6" stroke="#f26522" stroke-width="1.25"/>
<line x1="90.77" y1="373.19" x2="90.77" y2="366.57" stroke="#f26522" stroke-width="0.9"/>
<line x1="89.27" y1="366.57" x2="92.27" y2="366.57" stroke="#f26522" stroke-width="0.9"/>
<rect x="89.92" y="359.19" width="3.20" height="3.20" fill="#f26522" stroke="none" stroke-width="1"/>
<rect x="88.66" y="370.13" width="2.80" height="2.80" fill="#fff" stroke="#f26522" stroke-width="0.8"/>
<rect x="88.53" y="375.72" width="3.20" height="3.20" fill="#f26522" stroke="none" stroke-width="1"/>
<rect x="88.42" y="380.05" width="2.80" height="2.80" fill="#fff" stroke="#f26522" stroke-width="0.8"/>
<rect x="100.54" y="402.95" width="4.70" height="51.25" fill="#d4d4d4" stroke="#000" stroke-width="1.25"/>
<line x1="102.89" y1="402.95" x2="102.89" y2="399.64" stroke="#000" stroke-width="0.9"/>
<line x1="101.39" y1="399.64" x2="104.39" y2="399.64" stroke="#000" stroke-width="0.9"/>
<circle cx="102.48" cy="397.99" r="1.70" fill="#000" stroke="none" stroke-width="1"/>
<circle cx="103.68" cy="402.95" r="1.50" fill="#fff" stroke="#000" stroke-width="0.8"/>
<circle cx="102.03" cy="406.25" r="1.70" fill="#000" stroke="none" stroke-width="1"/>
<rect x="107.34" y="377.32" width="4.90" height="76.88" fill="#fce3c6" stroke="#f26522" stroke-width="1.25"/>
<line x1="109.79" y1="377.32" x2="109.79" y2="373.19" stroke="#f26522" stroke-width="0.9"/>
<line x1="108.29" y1="373.19" x2="111.29" y2="373.19" stroke="#f26522" stroke-width="0.9"/>
<rect x="108.59" y="369.11" width="3.20" height="3.20" fill="#f26522" stroke="none" stroke-width="1"/>
<rect x="107.83" y="374.27" width="2.80" height="2.80" fill="#fff" stroke="#f26522" stroke-width="0.8"/>
<rect x="108.91" y="379.85" width="3.20" height="3.20" fill="#f26522" stroke="none" stroke-width="1"/>
<rect x="119.56" y="435.19" width="4.70" height="19.01" fill="#d4d4d4" stroke="#000" stroke-width="1.25"/>
<line x1="121.91" y1="435.19" x2="121.91" y2="431.05" stroke="#000" stroke-width="0.9"/>
<line x1="120.41" y1="431.05" x2="123.41" y2="431.05" stroke="#000" stroke-width="0.9"/>
<circle cx="121.58" cy="427.75" r="1.70" fill="#000" stroke="none" stroke-width="1"/>
<circle cx="122.74" cy="433.53" r="1.50" fill="#fff" stroke="#000" stroke-width="0.8"/>
<circle cx="121.68" cy="439.32" r="1.70" fill="#000" stroke="none" stroke-width="1"/>
<rect x="126.36" y="417.00" width="4.90" height="37.20" fill="#fce3c6" stroke="#f26522" stroke-width="1.25"/>
<line x1="128.81" y1="417.00" x2="128.81" y2="412.04" stroke="#f26522" stroke-width="0.9"/>
<line x1="127.31" y1="412.04" x2="130.31" y2="412.04" stroke="#f26522" stroke-width="0.9"/>
<rect x="128.07" y="408.79" width="3.20" height="3.20" fill="#f26522" stroke="none" stroke-width="1"/>
<rect x="127.05" y="414.77" width="2.80" height="2.80" fill="#fff" stroke="#f26522" stroke-width="0.8"/>
<rect x="126.88" y="419.53" width="3.20" height="3.20" fill="#f26522" stroke="none" stroke-width="1"/>
<rect x="138.58" y="405.43" width="4.70" height="48.77" fill="#d4d4d4" stroke="#000" stroke-width="1.25"/>
<line x1="140.93" y1="405.43" x2="140.93" y2="400.47" stroke="#000" stroke-width="0.9"/>
<line x1="139.43" y1="400.47" x2="142.43" y2="400.47" stroke="#000" stroke-width="0.9"/>
<circle cx="141.40" cy="397.16" r="1.70" fill="#000" stroke="none" stroke-width="1"/>
<circle cx="140.41" cy="404.60" r="1.50" fill="#fff" stroke="#000" stroke-width="0.8"/>
<circle cx="140.96" cy="411.21" r="1.70" fill="#000" stroke="none" stroke-width="1"/>
<rect x="145.38" y="391.37" width="4.90" height="62.83" fill="#fce3c6" stroke="#f26522" stroke-width="1.25"/>
<line x1="147.83" y1="391.37" x2="147.83" y2="386.41" stroke="#f26522" stroke-width="0.9"/>
<line x1="146.33" y1="386.41" x2="149.33" y2="386.41" stroke="#f26522" stroke-width="0.9"/>
<rect x="145.84" y="383.16" width="3.20" height="3.20" fill="#f26522" stroke="none" stroke-width="1"/>
<rect x="146.33" y="386.67" width="2.80" height="2.80" fill="#fff" stroke="#f26522" stroke-width="0.8"/>
<rect x="147.13" y="394.73" width="3.20" height="3.20" fill="#f26522" stroke="none" stroke-width="1"/>
<rect x="157.60" y="403.77" width="4.70" height="50.43" fill="#d4d4d4" stroke="#000" stroke-width="1.25"/>
<line x1="159.95" y1="403.77" x2="159.95" y2="397.99" stroke="#000" stroke-width="0.9"/>
<line x1="158.45" y1="397.99" x2="161.45" y2="397.99" stroke="#000" stroke-width="0.9"/>
<circle cx="159.09" cy="396.33" r="1.70" fill="#000" stroke="none" stroke-width="1"/>
<circle cx="159.09" cy="402.95" r="1.50" fill="#fff" stroke="#000" stroke-width="0.8"/>
<circle cx="159.84" cy="407.91" r="1.70" fill="#000" stroke="none" stroke-width="1"/>
<rect x="164.40" y="380.63" width="4.90" height="73.57" fill="#fce3c6" stroke="#f26522" stroke-width="1.25"/>
<line x1="166.85" y1="380.63" x2="166.85" y2="371.53" stroke="#f26522" stroke-width="0.9"/>
<line x1="165.35" y1="371.53" x2="168.35" y2="371.53" stroke="#f26522" stroke-width="0.9"/>
<rect x="166.06" y="367.45" width="3.20" height="3.20" fill="#f26522" stroke="none" stroke-width="1"/>
<rect x="166.38" y="373.44" width="2.80" height="2.80" fill="#fff" stroke="#f26522" stroke-width="0.8"/>
<rect x="166.07" y="386.47" width="3.20" height="3.20" fill="#f26522" stroke="none" stroke-width="1"/>
<line x1="59.20" y1="329.60" x2="59.20" y2="454.80" stroke="#000" stroke-width="1.3"/>
<line x1="54.50" y1="454.20" x2="59.20" y2="454.20" stroke="#000" stroke-width="1.3"/>
<text x="52.30" y="457.94" font-size="10.4" font-weight="bold" font-style="normal" text-anchor="end" fill="#000">0</text>
<line x1="54.50" y1="412.87" x2="59.20" y2="412.87" stroke="#000" stroke-width="1.3"/>
<text x="52.30" y="416.61" font-size="10.4" font-weight="bold" font-style="normal" text-anchor="end" fill="#000">50</text>
<line x1="54.50" y1="371.53" x2="59.20" y2="371.53" stroke="#000" stroke-width="1.3"/>
<text x="52.30" y="375.28" font-size="10.4" font-weight="bold" font-style="normal" text-anchor="end" fill="#000">100</text>
<line x1="54.50" y1="330.20" x2="59.20" y2="330.20" stroke="#000" stroke-width="1.3"/>
<text x="52.30" y="333.94" font-size="10.4" font-weight="bold" font-style="normal" text-anchor="end" fill="#000">150</text>
<line x1="58.60" y1="454.20" x2="172.30" y2="454.20" stroke="#000" stroke-width="1.3"/>
<line x1="68.10" y1="454.20" x2="68.10" y2="459.20" stroke="#000" stroke-width="1.3"/>
<line x1="87.12" y1="454.20" x2="87.12" y2="459.20" stroke="#000" stroke-width="1.3"/>
<line x1="106.14" y1="454.20" x2="106.14" y2="459.20" stroke="#000" stroke-width="1.3"/>
<line x1="125.16" y1="454.20" x2="125.16" y2="459.20" stroke="#000" stroke-width="1.3"/>
<line x1="144.18" y1="454.20" x2="144.18" y2="459.20" stroke="#000" stroke-width="1.3"/>
<line x1="163.20" y1="454.20" x2="163.20" y2="459.20" stroke="#000" stroke-width="1.3"/>
<text x="16.50" y="391.00" font-size="10.3" font-weight="bold" font-style="normal" text-anchor="middle" fill="#000" transform="rotate(-90 16.5 391.0)">Relative number of</text>
<text x="28.80" y="391.00" font-size="10.3" font-weight="bold" font-style="normal" text-anchor="middle" fill="#000" transform="rotate(-90 28.8 391.0)">viable cells (% vs. Veh)</text>
<text x="70.60" y="468.70" font-size="8.8" font-weight="bold" text-anchor="end" transform="rotate(-45 70.60 468.70)">Veh</text>
<text x="89.62" y="468.70" font-size="8.8" font-weight="bold" text-anchor="end" transform="rotate(-45 89.62 468.70)">Cisplatin</text>
<text x="108.64" y="468.70" font-size="8.8" font-weight="bold" text-anchor="end" transform="rotate(-45 108.64 468.70)">5-FU</text>
<text x="127.66" y="468.70" font-size="8.8" font-weight="bold" text-anchor="end" transform="rotate(-45 127.66 468.70)">Dox</text>
<text x="146.68" y="468.70" font-size="8.8" font-weight="bold" text-anchor="end" transform="rotate(-45 146.68 468.70)">H<tspan font-size="7" dy="2.5">2</tspan><tspan dy="-2.5">0</tspan><tspan font-size="7" dy="2.5">2</tspan></text>
<text x="165.70" y="468.70" font-size="8.8" font-weight="bold" text-anchor="end" transform="rotate(-45 165.70 468.70)">O+A</text>
<text x="87.30" y="340.38" font-size="8.0" font-weight="bold" font-style="italic" text-anchor="middle" fill="#000">&lt;0.0001</text>
<line x1="83.60" y1="346.20" x2="91.00" y2="346.20" stroke="#000" stroke-width="1.4"/>
<text x="105.90" y="355.88" font-size="8.0" font-weight="bold" font-style="italic" text-anchor="middle" fill="#000">0.0001</text>
<line x1="102.60" y1="361.10" x2="108.60" y2="361.10" stroke="#000" stroke-width="1.4"/>
<text x="125.30" y="395.18" font-size="8.0" font-weight="bold" font-style="italic" text-anchor="middle" fill="#000">0.0021</text>
<line x1="121.60" y1="400.50" x2="128.20" y2="400.50" stroke="#000" stroke-width="1.4"/>
<text x="144.30" y="370.18" font-size="8.0" font-weight="bold" font-style="italic" text-anchor="middle" fill="#000">0.0121</text>
<line x1="140.60" y1="376.00" x2="147.40" y2="376.00" stroke="#000" stroke-width="1.4"/>
<text x="163.30" y="353.08" font-size="8.0" font-weight="bold" font-style="italic" text-anchor="middle" fill="#000">0.0004</text>
<line x1="159.70" y1="357.80" x2="166.20" y2="357.80" stroke="#000" stroke-width="1.4"/>
<line x1="35.30" y1="496.90" x2="162.40" y2="496.90" stroke="#000" stroke-width="1.6"/>
<text x="98.4" y="511.2" font-size="11.3" text-anchor="middle"><tspan font-weight="normal" font-style="italic">CDK4</tspan>-<tspan font-weight="bold">WT</tspan></text>
<rect x="210.90" y="371.53" width="4.70" height="82.67" fill="#d4d4d4" stroke="#000" stroke-width="1.25"/>
<circle cx="213.76" cy="371.53" r="1.70" fill="#000" stroke="none" stroke-width="1"/>
<rect x="217.70" y="371.53" width="4.90" height="82.67" fill="#fce3c6" stroke="#f26522" stroke-width="1.25"/>
<rect x="218.91" y="369.93" width="3.20" height="3.20" fill="#f26522" stroke="none" stroke-width="1"/>
<rect x="229.90" y="382.28" width="4.70" height="71.92" fill="#d4d4d4" stroke="#000" stroke-width="1.25"/>
<line x1="232.25" y1="382.28" x2="232.25" y2="372.36" stroke="#000" stroke-width="0.9"/>
<line x1="230.75" y1="372.36" x2="233.75" y2="372.36" stroke="#000" stroke-width="0.9"/>
<circle cx="232.59" cy="363.27" r="1.70" fill="#000" stroke="none" stroke-width="1"/>
<circle cx="232.16" cy="384.76" r="1.50" fill="#fff" stroke="#000" stroke-width="0.8"/>
<circle cx="232.06" cy="389.72" r="1.70" fill="#000" stroke="none" stroke-width="1"/>
<rect x="236.70" y="368.23" width="4.90" height="85.97" fill="#fce3c6" stroke="#f26522" stroke-width="1.25"/>
<line x1="239.15" y1="368.23" x2="239.15" y2="359.96" stroke="#f26522" stroke-width="0.9"/>
<line x1="237.65" y1="359.96" x2="240.65" y2="359.96" stroke="#f26522" stroke-width="0.9"/>
<rect x="236.97" y="356.71" width="3.20" height="3.20" fill="#f26522" stroke="none" stroke-width="1"/>
<rect x="238.50" y="361.87" width="2.80" height="2.80" fill="#fff" stroke="#f26522" stroke-width="0.8"/>
<rect x="236.84" y="369.93" width="3.20" height="3.20" fill="#f26522" stroke="none" stroke-width="1"/>
<rect x="237.11" y="378.40" width="2.80" height="2.80" fill="#fff" stroke="#f26522" stroke-width="0.8"/>
<rect x="248.90" y="380.63" width="4.70" height="73.57" fill="#d4d4d4" stroke="#000" stroke-width="1.25"/>
<line x1="251.25" y1="380.63" x2="251.25" y2="374.84" stroke="#000" stroke-width="0.9"/>
<line x1="249.75" y1="374.84" x2="252.75" y2="374.84" stroke="#000" stroke-width="0.9"/>
<circle cx="250.30" cy="371.53" r="1.70" fill="#000" stroke="none" stroke-width="1"/>
<circle cx="250.84" cy="378.15" r="1.50" fill="#fff" stroke="#000" stroke-width="0.8"/>
<circle cx="252.04" cy="383.93" r="1.70" fill="#000" stroke="none" stroke-width="1"/>
<rect x="255.70" y="368.23" width="4.90" height="85.97" fill="#fce3c6" stroke="#f26522" stroke-width="1.25"/>
<line x1="258.15" y1="368.23" x2="258.15" y2="364.09" stroke="#f26522" stroke-width="0.9"/>
<line x1="256.65" y1="364.09" x2="259.65" y2="364.09" stroke="#f26522" stroke-width="0.9"/>
<rect x="255.69" y="361.67" width="3.20" height="3.20" fill="#f26522" stroke="none" stroke-width="1"/>
<rect x="257.15" y="366.00" width="2.80" height="2.80" fill="#fff" stroke="#f26522" stroke-width="0.8"/>
<rect x="255.99" y="369.93" width="3.20" height="3.20" fill="#f26522" stroke="none" stroke-width="1"/>
<rect x="267.90" y="417.83" width="4.70" height="36.37" fill="#d4d4d4" stroke="#000" stroke-width="1.25"/>
<line x1="270.25" y1="417.83" x2="270.25" y2="414.52" stroke="#000" stroke-width="0.9"/>
<line x1="268.75" y1="414.52" x2="271.75" y2="414.52" stroke="#000" stroke-width="0.9"/>
<circle cx="270.97" cy="412.04" r="1.70" fill="#000" stroke="none" stroke-width="1"/>
<circle cx="269.92" cy="417.00" r="1.50" fill="#fff" stroke="#000" stroke-width="0.8"/>
<circle cx="271.08" cy="419.48" r="1.70" fill="#000" stroke="none" stroke-width="1"/>
<rect x="274.70" y="402.12" width="4.90" height="52.08" fill="#fce3c6" stroke="#f26522" stroke-width="1.25"/>
<line x1="277.15" y1="402.12" x2="277.15" y2="393.85" stroke="#f26522" stroke-width="0.9"/>
<line x1="275.65" y1="393.85" x2="278.65" y2="393.85" stroke="#f26522" stroke-width="0.9"/>
<rect x="275.32" y="388.95" width="3.20" height="3.20" fill="#f26522" stroke="none" stroke-width="1"/>
<rect x="276.61" y="400.72" width="2.80" height="2.80" fill="#fff" stroke="#f26522" stroke-width="0.8"/>
<rect x="275.19" y="407.13" width="3.20" height="3.20" fill="#f26522" stroke="none" stroke-width="1"/>
<rect x="286.90" y="369.88" width="4.70" height="84.32" fill="#d4d4d4" stroke="#000" stroke-width="1.25"/>
<line x1="289.25" y1="369.88" x2="289.25" y2="364.92" stroke="#000" stroke-width="0.9"/>
<line x1="287.75" y1="364.92" x2="290.75" y2="364.92" stroke="#000" stroke-width="0.9"/>
<circle cx="288.92" cy="363.27" r="1.70" fill="#000" stroke="none" stroke-width="1"/>
<circle cx="289.72" cy="369.05" r="1.50" fill="#fff" stroke="#000" stroke-width="0.8"/>
<circle cx="288.73" cy="373.19" r="1.70" fill="#000" stroke="none" stroke-width="1"/>
<rect x="293.70" y="364.09" width="4.90" height="90.11" fill="#fce3c6" stroke="#f26522" stroke-width="1.25"/>
<line x1="296.15" y1="364.09" x2="296.15" y2="361.61" stroke="#f26522" stroke-width="0.9"/>
<line x1="294.65" y1="361.61" x2="297.65" y2="361.61" stroke="#f26522" stroke-width="0.9"/>
<rect x="294.58" y="360.01" width="3.20" height="3.20" fill="#f26522" stroke="none" stroke-width="1"/>
<rect x="294.36" y="361.87" width="2.80" height="2.80" fill="#fff" stroke="#f26522" stroke-width="0.8"/>
<rect x="294.45" y="364.97" width="3.20" height="3.20" fill="#f26522" stroke="none" stroke-width="1"/>
<rect x="305.90" y="371.53" width="4.70" height="82.67" fill="#d4d4d4" stroke="#000" stroke-width="1.25"/>
<line x1="308.25" y1="371.53" x2="308.25" y2="368.23" stroke="#000" stroke-width="0.9"/>
<line x1="306.75" y1="368.23" x2="309.75" y2="368.23" stroke="#000" stroke-width="0.9"/>
<circle cx="309.15" cy="366.57" r="1.70" fill="#000" stroke="none" stroke-width="1"/>
<circle cx="307.39" cy="370.71" r="1.50" fill="#fff" stroke="#000" stroke-width="0.8"/>
<circle cx="307.39" cy="373.19" r="1.70" fill="#000" stroke="none" stroke-width="1"/>
<rect x="312.70" y="369.05" width="4.90" height="85.15" fill="#fce3c6" stroke="#f26522" stroke-width="1.25"/>
<line x1="315.15" y1="369.05" x2="315.15" y2="359.96" stroke="#f26522" stroke-width="0.9"/>
<line x1="313.65" y1="359.96" x2="316.65" y2="359.96" stroke="#f26522" stroke-width="0.9"/>
<rect x="313.44" y="350.92" width="3.20" height="3.20" fill="#f26522" stroke="none" stroke-width="1"/>
<rect x="314.56" y="366.00" width="2.80" height="2.80" fill="#fff" stroke="#f26522" stroke-width="0.8"/>
<rect x="314.48" y="374.07" width="3.20" height="3.20" fill="#f26522" stroke="none" stroke-width="1"/>
<rect x="314.57" y="380.05" width="2.80" height="2.80" fill="#fff" stroke="#f26522" stroke-width="0.8"/>
<line x1="207.60" y1="329.60" x2="207.60" y2="454.80" stroke="#000" stroke-width="1.3"/>
<line x1="203.20" y1="454.20" x2="207.60" y2="454.20" stroke="#000" stroke-width="1.3"/>
<text x="200.30" y="457.80" font-size="10.0" font-weight="bold" font-style="normal" text-anchor="end" fill="#000">0</text>
<line x1="203.20" y1="412.87" x2="207.60" y2="412.87" stroke="#000" stroke-width="1.3"/>
<text x="200.30" y="416.47" font-size="10.0" font-weight="bold" font-style="normal" text-anchor="end" fill="#000">50</text>
<line x1="203.20" y1="371.53" x2="207.60" y2="371.53" stroke="#000" stroke-width="1.3"/>
<text x="200.30" y="375.13" font-size="10.0" font-weight="bold" font-style="normal" text-anchor="end" fill="#000">100</text>
<line x1="203.20" y1="330.20" x2="207.60" y2="330.20" stroke="#000" stroke-width="1.3"/>
<text x="200.30" y="333.80" font-size="10.0" font-weight="bold" font-style="normal" text-anchor="end" fill="#000">150</text>
<line x1="207.00" y1="454.20" x2="320.50" y2="454.20" stroke="#000" stroke-width="1.3"/>
<line x1="216.50" y1="454.20" x2="216.50" y2="459.20" stroke="#000" stroke-width="1.3"/>
<line x1="235.50" y1="454.20" x2="235.50" y2="459.20" stroke="#000" stroke-width="1.3"/>
<line x1="254.50" y1="454.20" x2="254.50" y2="459.20" stroke="#000" stroke-width="1.3"/>
<line x1="273.50" y1="454.20" x2="273.50" y2="459.20" stroke="#000" stroke-width="1.3"/>
<line x1="292.50" y1="454.20" x2="292.50" y2="459.20" stroke="#000" stroke-width="1.3"/>
<line x1="311.50" y1="454.20" x2="311.50" y2="459.20" stroke="#000" stroke-width="1.3"/>
<text x="219.00" y="468.70" font-size="8.8" font-weight="bold" text-anchor="end" transform="rotate(-45 219.00 468.70)">Veh</text>
<text x="238.00" y="468.70" font-size="8.8" font-weight="bold" text-anchor="end" transform="rotate(-45 238.00 468.70)">Cisplatin</text>
<text x="257.00" y="468.70" font-size="8.8" font-weight="bold" text-anchor="end" transform="rotate(-45 257.00 468.70)">5-FU</text>
<text x="276.00" y="468.70" font-size="8.8" font-weight="bold" text-anchor="end" transform="rotate(-45 276.00 468.70)">Dox</text>
<text x="295.00" y="468.70" font-size="8.8" font-weight="bold" text-anchor="end" transform="rotate(-45 295.00 468.70)">H<tspan font-size="7" dy="2.5">2</tspan><tspan dy="-2.5">0</tspan><tspan font-size="7" dy="2.5">2</tspan></text>
<text x="314.00" y="468.70" font-size="8.8" font-weight="bold" text-anchor="end" transform="rotate(-45 314.00 468.70)">O+A</text>
<text x="236.00" y="335.48" font-size="8.0" font-weight="normal" font-style="italic" text-anchor="middle" fill="#2a2a2a">0.0616</text>
<line x1="232.00" y1="340.80" x2="238.70" y2="340.80" stroke="#000" stroke-width="1.4"/>
<text x="254.80" y="349.88" font-size="8.0" font-weight="normal" font-style="italic" text-anchor="middle" fill="#2a2a2a">0.1694</text>
<line x1="251.00" y1="355.20" x2="257.70" y2="355.20" stroke="#000" stroke-width="1.4"/>
<text x="273.60" y="378.88" font-size="8.0" font-weight="bold" font-style="italic" text-anchor="middle" fill="#000">0.0431</text>
<line x1="270.00" y1="384.20" x2="276.80" y2="384.20" stroke="#000" stroke-width="1.4"/>
<text x="293.00" y="346.38" font-size="8.0" font-weight="normal" font-style="italic" text-anchor="middle" fill="#2a2a2a">0.6984</text>
<line x1="289.00" y1="351.90" x2="295.80" y2="351.90" stroke="#000" stroke-width="1.4"/>
<text x="312.00" y="335.48" font-size="8.0" font-weight="normal" font-style="italic" text-anchor="middle" fill="#2a2a2a">0.9956</text>
<line x1="308.00" y1="340.80" x2="315.30" y2="340.80" stroke="#000" stroke-width="1.4"/>
<line x1="181.20" y1="496.90" x2="318.80" y2="496.90" stroke="#f2211b" stroke-width="1.6"/>
<text x="246.9" y="511.2" font-size="11.3" text-anchor="middle" fill="#f2211b"><tspan font-weight="normal" font-style="italic">CDK4</tspan>-<tspan font-weight="bold">KO</tspan></text>
<text x="340.30" y="313.00" font-size="16" font-weight="bold" font-style="normal" text-anchor="start" fill="#000">f</text>
<line x1="464.00" y1="314.20" x2="478.40" y2="314.20" stroke="#000" stroke-width="1.0"/>
<circle cx="471.20" cy="314.20" r="1.50" fill="#000" stroke="none" stroke-width="1"/>
<text x="486.30" y="318.20" font-size="11.3" font-weight="normal" font-style="normal" text-anchor="start" fill="#000">Veh</text>
<line x1="521.90" y1="314.20" x2="536.90" y2="314.20" stroke="#f26522" stroke-width="1.0"/>
<rect x="527.70" y="312.50" width="3.40" height="3.40" fill="#f26522" stroke="none" stroke-width="1"/>
<text x="544.40" y="318.20" font-size="11.3" font-weight="normal" font-style="normal" text-anchor="start" fill="#000">Abema</text>
<line x1="395.70" y1="336.90" x2="395.70" y2="454.10" stroke="#000" stroke-width="1.3"/>
<line x1="390.60" y1="453.50" x2="395.70" y2="453.50" stroke="#000" stroke-width="1.3"/>
<text x="387.90" y="457.03" font-size="9.8" font-weight="bold" font-style="normal" text-anchor="end" fill="#000">0</text>
<line x1="390.60" y1="414.83" x2="395.70" y2="414.83" stroke="#000" stroke-width="1.3"/>
<text x="387.90" y="418.36" font-size="9.8" font-weight="bold" font-style="normal" text-anchor="end" fill="#000">50</text>
<line x1="390.60" y1="376.17" x2="395.70" y2="376.17" stroke="#000" stroke-width="1.3"/>
<text x="387.90" y="379.69" font-size="9.8" font-weight="bold" font-style="normal" text-anchor="end" fill="#000">100</text>
<line x1="390.60" y1="337.50" x2="395.70" y2="337.50" stroke="#000" stroke-width="1.3"/>
<text x="387.90" y="341.03" font-size="9.8" font-weight="bold" font-style="normal" text-anchor="end" fill="#000">150</text>
<line x1="395.10" y1="453.50" x2="473.20" y2="453.50" stroke="#000" stroke-width="1.3"/>
<line x1="410.90" y1="453.50" x2="410.90" y2="458.50" stroke="#000" stroke-width="1.3"/>
<line x1="433.80" y1="453.50" x2="433.80" y2="458.50" stroke="#000" stroke-width="1.3"/>
<line x1="456.60" y1="453.50" x2="456.60" y2="458.50" stroke="#000" stroke-width="1.3"/>
<text x="410.90" y="469.30" font-size="10.6" font-weight="bold" font-style="normal" text-anchor="middle" fill="#000">D0</text>
<text x="433.80" y="469.30" font-size="10.6" font-weight="bold" font-style="normal" text-anchor="middle" fill="#000">D1</text>
<text x="456.60" y="469.30" font-size="10.6" font-weight="bold" font-style="normal" text-anchor="middle" fill="#000">D2</text>
<text x="400.40" y="341.60" font-size="10.2" font-weight="normal" font-style="normal" text-anchor="start" fill="#222">Cisplatin</text>
<line x1="410.90" y1="344.50" x2="410.90" y2="364.60" stroke="#000" stroke-width="1.7" stroke-dasharray="3,2"/>
<path d="M406.00 363.60L415.80 363.60L410.90 372.80Z" fill="#000" stroke="none" stroke-width="1.2"/>
<path d="M410.90 376.17 L433.80 397.05 L456.60 400.14" fill="none" stroke="#f26522" stroke-width="1.1"/>
<rect x="409.10" y="374.37" width="3.60" height="3.60" fill="#f26522" stroke="none" stroke-width="1"/>
<line x1="433.80" y1="395.50" x2="433.80" y2="398.59" stroke="#f26522" stroke-width="0.8"/>
<line x1="432.50" y1="395.50" x2="435.10" y2="395.50" stroke="#f26522" stroke-width="0.8"/>
<line x1="432.50" y1="398.59" x2="435.10" y2="398.59" stroke="#f26522" stroke-width="0.8"/>
<rect x="432.00" y="395.25" width="3.60" height="3.60" fill="#f26522" stroke="none" stroke-width="1"/>
<line x1="456.60" y1="397.82" x2="456.60" y2="402.46" stroke="#f26522" stroke-width="0.8"/>
<line x1="455.30" y1="397.82" x2="457.90" y2="397.82" stroke="#f26522" stroke-width="0.8"/>
<line x1="455.30" y1="402.46" x2="457.90" y2="402.46" stroke="#f26522" stroke-width="0.8"/>
<rect x="454.80" y="398.34" width="3.60" height="3.60" fill="#f26522" stroke="none" stroke-width="1"/>
<path d="M410.90 376.17 L433.80 405.55 L456.60 413.29" fill="none" stroke="#111" stroke-width="1.1"/>
<circle cx="410.90" cy="376.17" r="1.90" fill="#111" stroke="none" stroke-width="1"/>
<line x1="433.80" y1="403.23" x2="433.80" y2="407.87" stroke="#111" stroke-width="0.8"/>
<line x1="432.50" y1="403.23" x2="435.10" y2="403.23" stroke="#111" stroke-width="0.8"/>
<line x1="432.50" y1="407.87" x2="435.10" y2="407.87" stroke="#111" stroke-width="0.8"/>
<circle cx="433.80" cy="405.55" r="1.90" fill="#111" stroke="none" stroke-width="1"/>
<line x1="456.60" y1="411.74" x2="456.60" y2="414.83" stroke="#111" stroke-width="0.8"/>
<line x1="455.30" y1="411.74" x2="457.90" y2="411.74" stroke="#111" stroke-width="0.8"/>
<line x1="455.30" y1="414.83" x2="457.90" y2="414.83" stroke="#111" stroke-width="0.8"/>
<circle cx="456.60" cy="413.29" r="1.90" fill="#111" stroke="none" stroke-width="1"/>
<text x="455.20" y="389.40" font-size="8.3" font-weight="bold" font-style="italic" text-anchor="middle" fill="#000">0.0200</text>
<line x1="453.00" y1="392.50" x2="460.00" y2="392.50" stroke="#333" stroke-width="1.0"/>
<line x1="494.10" y1="336.90" x2="494.10" y2="454.10" stroke="#000" stroke-width="1.3"/>
<line x1="489.00" y1="453.50" x2="494.10" y2="453.50" stroke="#000" stroke-width="1.3"/>
<text x="486.30" y="457.03" font-size="9.8" font-weight="bold" font-style="normal" text-anchor="end" fill="#000">0</text>
<line x1="489.00" y1="414.83" x2="494.10" y2="414.83" stroke="#000" stroke-width="1.3"/>
<text x="486.30" y="418.36" font-size="9.8" font-weight="bold" font-style="normal" text-anchor="end" fill="#000">50</text>
<line x1="489.00" y1="376.17" x2="494.10" y2="376.17" stroke="#000" stroke-width="1.3"/>
<text x="486.30" y="379.69" font-size="9.8" font-weight="bold" font-style="normal" text-anchor="end" fill="#000">100</text>
<line x1="489.00" y1="337.50" x2="494.10" y2="337.50" stroke="#000" stroke-width="1.3"/>
<text x="486.30" y="341.03" font-size="9.8" font-weight="bold" font-style="normal" text-anchor="end" fill="#000">150</text>
<line x1="493.50" y1="453.50" x2="571.30" y2="453.50" stroke="#000" stroke-width="1.3"/>
<line x1="509.30" y1="453.50" x2="509.30" y2="458.50" stroke="#000" stroke-width="1.3"/>
<line x1="533.00" y1="453.50" x2="533.00" y2="458.50" stroke="#000" stroke-width="1.3"/>
<line x1="556.30" y1="453.50" x2="556.30" y2="458.50" stroke="#000" stroke-width="1.3"/>
<text x="509.30" y="469.30" font-size="10.6" font-weight="bold" font-style="normal" text-anchor="middle" fill="#000">D0</text>
<text x="533.00" y="469.30" font-size="10.6" font-weight="bold" font-style="normal" text-anchor="middle" fill="#000">D1</text>
<text x="556.30" y="469.30" font-size="10.6" font-weight="bold" font-style="normal" text-anchor="middle" fill="#000">D2</text>
<text x="498.90" y="341.60" font-size="10.2" font-weight="normal" font-style="normal" text-anchor="start" fill="#222">5-FU</text>
<line x1="509.30" y1="344.50" x2="509.30" y2="364.60" stroke="#000" stroke-width="1.7" stroke-dasharray="3,2"/>
<path d="M504.40 363.60L514.20 363.60L509.30 372.80Z" fill="#000" stroke="none" stroke-width="1.2"/>
<path d="M509.30 376.17 L533.00 377.71 L556.30 378.49" fill="none" stroke="#f26522" stroke-width="1.1"/>
<rect x="507.50" y="374.37" width="3.60" height="3.60" fill="#f26522" stroke="none" stroke-width="1"/>
<line x1="533.00" y1="373.85" x2="533.00" y2="381.58" stroke="#f26522" stroke-width="0.8"/>
<line x1="531.70" y1="373.85" x2="534.30" y2="373.85" stroke="#f26522" stroke-width="0.8"/>
<line x1="531.70" y1="381.58" x2="534.30" y2="381.58" stroke="#f26522" stroke-width="0.8"/>
<rect x="531.20" y="375.91" width="3.60" height="3.60" fill="#f26522" stroke="none" stroke-width="1"/>
<line x1="556.30" y1="376.94" x2="556.30" y2="380.03" stroke="#f26522" stroke-width="0.8"/>
<line x1="555.00" y1="376.94" x2="557.60" y2="376.94" stroke="#f26522" stroke-width="0.8"/>
<line x1="555.00" y1="380.03" x2="557.60" y2="380.03" stroke="#f26522" stroke-width="0.8"/>
<rect x="554.50" y="376.69" width="3.60" height="3.60" fill="#f26522" stroke="none" stroke-width="1"/>
<path d="M509.30 376.17 L533.00 379.26 L556.30 389.31" fill="none" stroke="#111" stroke-width="1.1"/>
<circle cx="509.30" cy="376.17" r="1.90" fill="#111" stroke="none" stroke-width="1"/>
<line x1="533.00" y1="376.17" x2="533.00" y2="382.35" stroke="#111" stroke-width="0.8"/>
<line x1="531.70" y1="376.17" x2="534.30" y2="376.17" stroke="#111" stroke-width="0.8"/>
<line x1="531.70" y1="382.35" x2="534.30" y2="382.35" stroke="#111" stroke-width="0.8"/>
<circle cx="533.00" cy="379.26" r="1.90" fill="#111" stroke="none" stroke-width="1"/>
<line x1="556.30" y1="387.77" x2="556.30" y2="390.86" stroke="#111" stroke-width="0.8"/>
<line x1="555.00" y1="387.77" x2="557.60" y2="387.77" stroke="#111" stroke-width="0.8"/>
<line x1="555.00" y1="390.86" x2="557.60" y2="390.86" stroke="#111" stroke-width="0.8"/>
<circle cx="556.30" cy="389.31" r="1.90" fill="#111" stroke="none" stroke-width="1"/>
<text x="554.50" y="367.80" font-size="8.3" font-weight="bold" font-style="italic" text-anchor="middle" fill="#000">0.0270</text>
<line x1="551.80" y1="371.40" x2="559.30" y2="371.40" stroke="#333" stroke-width="1.0"/>
<line x1="594.30" y1="336.90" x2="594.30" y2="454.10" stroke="#000" stroke-width="1.3"/>
<line x1="589.20" y1="453.50" x2="594.30" y2="453.50" stroke="#000" stroke-width="1.3"/>
<text x="586.50" y="457.03" font-size="9.8" font-weight="bold" font-style="normal" text-anchor="end" fill="#000">0</text>
<line x1="589.20" y1="414.83" x2="594.30" y2="414.83" stroke="#000" stroke-width="1.3"/>
<text x="586.50" y="418.36" font-size="9.8" font-weight="bold" font-style="normal" text-anchor="end" fill="#000">50</text>
<line x1="589.20" y1="376.17" x2="594.30" y2="376.17" stroke="#000" stroke-width="1.3"/>
<text x="586.50" y="379.69" font-size="9.8" font-weight="bold" font-style="normal" text-anchor="end" fill="#000">100</text>
<line x1="589.20" y1="337.50" x2="594.30" y2="337.50" stroke="#000" stroke-width="1.3"/>
<text x="586.50" y="341.03" font-size="9.8" font-weight="bold" font-style="normal" text-anchor="end" fill="#000">150</text>
<line x1="593.70" y1="453.50" x2="673.00" y2="453.50" stroke="#000" stroke-width="1.3"/>
<line x1="610.20" y1="453.50" x2="610.20" y2="458.50" stroke="#000" stroke-width="1.3"/>
<line x1="633.50" y1="453.50" x2="633.50" y2="458.50" stroke="#000" stroke-width="1.3"/>
<line x1="657.50" y1="453.50" x2="657.50" y2="458.50" stroke="#000" stroke-width="1.3"/>
<text x="610.20" y="469.30" font-size="10.6" font-weight="bold" font-style="normal" text-anchor="middle" fill="#000">D0</text>
<text x="633.50" y="469.30" font-size="10.6" font-weight="bold" font-style="normal" text-anchor="middle" fill="#000">D1</text>
<text x="657.50" y="469.30" font-size="10.6" font-weight="bold" font-style="normal" text-anchor="middle" fill="#000">D2</text>
<text x="601.20" y="341.60" font-size="10.2" font-weight="normal" font-style="normal" text-anchor="start" fill="#222">Dox</text>
<line x1="610.20" y1="344.50" x2="610.20" y2="364.60" stroke="#000" stroke-width="1.7" stroke-dasharray="3,2"/>
<path d="M605.30 363.60L615.10 363.60L610.20 372.80Z" fill="#000" stroke="none" stroke-width="1.2"/>
<path d="M610.20 376.17 L633.50 387.77 L657.50 404.78" fill="none" stroke="#f26522" stroke-width="1.1"/>
<rect x="608.40" y="374.37" width="3.60" height="3.60" fill="#f26522" stroke="none" stroke-width="1"/>
<line x1="633.50" y1="383.13" x2="633.50" y2="392.41" stroke="#f26522" stroke-width="0.8"/>
<line x1="632.20" y1="383.13" x2="634.80" y2="383.13" stroke="#f26522" stroke-width="0.8"/>
<line x1="632.20" y1="392.41" x2="634.80" y2="392.41" stroke="#f26522" stroke-width="0.8"/>
<rect x="631.70" y="385.97" width="3.60" height="3.60" fill="#f26522" stroke="none" stroke-width="1"/>
<line x1="657.50" y1="404.01" x2="657.50" y2="405.55" stroke="#f26522" stroke-width="0.8"/>
<line x1="656.20" y1="404.01" x2="658.80" y2="404.01" stroke="#f26522" stroke-width="0.8"/>
<line x1="656.20" y1="405.55" x2="658.80" y2="405.55" stroke="#f26522" stroke-width="0.8"/>
<rect x="655.70" y="402.98" width="3.60" height="3.60" fill="#f26522" stroke="none" stroke-width="1"/>
<path d="M610.20 376.17 L633.50 398.59 L657.50 418.70" fill="none" stroke="#111" stroke-width="1.1"/>
<circle cx="610.20" cy="376.17" r="1.90" fill="#111" stroke="none" stroke-width="1"/>
<line x1="633.50" y1="396.27" x2="633.50" y2="400.91" stroke="#111" stroke-width="0.8"/>
<line x1="632.20" y1="396.27" x2="634.80" y2="396.27" stroke="#111" stroke-width="0.8"/>
<line x1="632.20" y1="400.91" x2="634.80" y2="400.91" stroke="#111" stroke-width="0.8"/>
<circle cx="633.50" cy="398.59" r="1.90" fill="#111" stroke="none" stroke-width="1"/>
<line x1="657.50" y1="416.38" x2="657.50" y2="421.02" stroke="#111" stroke-width="0.8"/>
<line x1="656.20" y1="416.38" x2="658.80" y2="416.38" stroke="#111" stroke-width="0.8"/>
<line x1="656.20" y1="421.02" x2="658.80" y2="421.02" stroke="#111" stroke-width="0.8"/>
<circle cx="657.50" cy="418.70" r="1.90" fill="#111" stroke="none" stroke-width="1"/>
<text x="657.30" y="391.20" font-size="8.3" font-weight="bold" font-style="italic" text-anchor="middle" fill="#000">0.0479</text>
<line x1="653.60" y1="395.40" x2="661.00" y2="395.40" stroke="#333" stroke-width="1.0"/>
<text x="352.30" y="394.50" font-size="10.2" font-weight="bold" font-style="normal" text-anchor="middle" fill="#000" transform="rotate(-90 352.3 394.5)">Relative number of</text>
<text x="364.50" y="394.50" font-size="10.2" font-weight="bold" font-style="normal" text-anchor="middle" fill="#000" transform="rotate(-90 364.5 394.5)">cells (% vs. Veh)</text>
<line x1="397.00" y1="484.40" x2="671.60" y2="484.40" stroke="#000" stroke-width="1.5"/>
<text x="612.30" y="497.60" font-size="10.9" font-weight="bold" font-style="normal" text-anchor="end" fill="#000">Patient-Derived Xenograft cells</text>
<text x="1.00" y="529.30" font-size="16" font-weight="bold" font-style="normal" text-anchor="start" fill="#000">g</text>
<circle cx="61.60" cy="527.20" r="1.45" fill="#000" stroke="none" stroke-width="1"/>
<text x="75.50" y="531.20" font-size="11.3" font-weight="normal" font-style="normal" text-anchor="start" fill="#000">Veh</text>
<rect x="104.50" y="525.70" width="3.10" height="3.10" fill="#f26522" stroke="none" stroke-width="1"/>
<text x="119.80" y="531.20" font-size="11.3" font-weight="normal" font-style="normal" text-anchor="start" fill="#000">Abema</text>
<rect x="66.40" y="581.17" width="6.10" height="84.13" fill="#d4d4d4" stroke="#000" stroke-width="1.25"/>
<circle cx="69.44" cy="581.17" r="1.70" fill="#000" stroke="none" stroke-width="1"/>
<circle cx="69.23" cy="581.17" r="1.50" fill="#fff" stroke="#000" stroke-width="0.8"/>
<rect x="74.50" y="581.17" width="6.10" height="84.13" fill="#fce3c6" stroke="#f26522" stroke-width="1.25"/>
<rect x="75.48" y="579.57" width="3.20" height="3.20" fill="#f26522" stroke="none" stroke-width="1"/>
<rect x="75.31" y="579.77" width="2.80" height="2.80" fill="#fff" stroke="#f26522" stroke-width="0.8"/>
<rect x="89.50" y="619.87" width="6.10" height="45.43" fill="#d4d4d4" stroke="#000" stroke-width="1.25"/>
<line x1="92.55" y1="619.87" x2="92.55" y2="613.98" stroke="#000" stroke-width="0.9"/>
<line x1="91.05" y1="613.98" x2="94.05" y2="613.98" stroke="#000" stroke-width="0.9"/>
<circle cx="92.14" cy="610.61" r="1.70" fill="#000" stroke="none" stroke-width="1"/>
<circle cx="91.82" cy="612.30" r="1.50" fill="#fff" stroke="#000" stroke-width="0.8"/>
<circle cx="92.23" cy="623.23" r="1.70" fill="#000" stroke="none" stroke-width="1"/>
<circle cx="92.50" cy="633.33" r="1.50" fill="#fff" stroke="#000" stroke-width="0.8"/>
<rect x="97.60" y="587.06" width="6.10" height="78.24" fill="#fce3c6" stroke="#f26522" stroke-width="1.25"/>
<line x1="100.65" y1="587.06" x2="100.65" y2="585.37" stroke="#f26522" stroke-width="0.9"/>
<line x1="99.15" y1="585.37" x2="102.15" y2="585.37" stroke="#f26522" stroke-width="0.9"/>
<rect x="98.47" y="583.77" width="3.20" height="3.20" fill="#f26522" stroke="none" stroke-width="1"/>
<rect x="98.36" y="585.66" width="2.80" height="2.80" fill="#fff" stroke="#f26522" stroke-width="0.8"/>
<rect x="99.45" y="587.98" width="3.20" height="3.20" fill="#f26522" stroke="none" stroke-width="1"/>
<rect x="112.50" y="600.52" width="6.10" height="64.78" fill="#d4d4d4" stroke="#000" stroke-width="1.25"/>
<line x1="115.55" y1="600.52" x2="115.55" y2="599.68" stroke="#000" stroke-width="0.9"/>
<line x1="114.05" y1="599.68" x2="117.05" y2="599.68" stroke="#000" stroke-width="0.9"/>
<circle cx="116.03" cy="598.83" r="1.70" fill="#000" stroke="none" stroke-width="1"/>
<circle cx="116.31" cy="600.52" r="1.50" fill="#fff" stroke="#000" stroke-width="0.8"/>
<circle cx="116.00" cy="601.36" r="1.70" fill="#000" stroke="none" stroke-width="1"/>
<rect x="120.60" y="591.26" width="6.10" height="74.04" fill="#fce3c6" stroke="#f26522" stroke-width="1.25"/>
<line x1="123.65" y1="591.26" x2="123.65" y2="589.58" stroke="#f26522" stroke-width="0.9"/>
<line x1="122.15" y1="589.58" x2="125.15" y2="589.58" stroke="#f26522" stroke-width="0.9"/>
<rect x="123.00" y="587.98" width="3.20" height="3.20" fill="#f26522" stroke="none" stroke-width="1"/>
<rect x="122.17" y="589.86" width="2.80" height="2.80" fill="#fff" stroke="#f26522" stroke-width="0.8"/>
<rect x="121.19" y="591.35" width="3.20" height="3.20" fill="#f26522" stroke="none" stroke-width="1"/>
<rect x="135.50" y="623.23" width="6.10" height="42.07" fill="#d4d4d4" stroke="#000" stroke-width="1.25"/>
<line x1="138.55" y1="623.23" x2="138.55" y2="622.39" stroke="#000" stroke-width="0.9"/>
<line x1="137.05" y1="622.39" x2="140.05" y2="622.39" stroke="#000" stroke-width="0.9"/>
<circle cx="137.57" cy="621.55" r="1.70" fill="#000" stroke="none" stroke-width="1"/>
<circle cx="137.81" cy="623.23" r="1.50" fill="#fff" stroke="#000" stroke-width="0.8"/>
<circle cx="139.34" cy="624.07" r="1.70" fill="#000" stroke="none" stroke-width="1"/>
<rect x="143.60" y="614.82" width="6.10" height="50.48" fill="#fce3c6" stroke="#f26522" stroke-width="1.25"/>
<line x1="146.65" y1="614.82" x2="146.65" y2="611.45" stroke="#f26522" stroke-width="0.9"/>
<line x1="145.15" y1="611.45" x2="148.15" y2="611.45" stroke="#f26522" stroke-width="0.9"/>
<rect x="145.05" y="609.01" width="3.20" height="3.20" fill="#f26522" stroke="none" stroke-width="1"/>
<rect x="144.87" y="613.42" width="2.80" height="2.80" fill="#fff" stroke="#f26522" stroke-width="0.8"/>
<rect x="145.63" y="616.59" width="3.20" height="3.20" fill="#f26522" stroke="none" stroke-width="1"/>
<line x1="63.20" y1="538.50" x2="63.20" y2="665.90" stroke="#000" stroke-width="1.3"/>
<line x1="58.10" y1="665.30" x2="63.20" y2="665.30" stroke="#000" stroke-width="1.3"/>
<text x="55.70" y="669.12" font-size="10.6" font-weight="bold" font-style="normal" text-anchor="end" fill="#000">0</text>
<line x1="58.10" y1="623.23" x2="63.20" y2="623.23" stroke="#000" stroke-width="1.3"/>
<text x="55.70" y="627.05" font-size="10.6" font-weight="bold" font-style="normal" text-anchor="end" fill="#000">50</text>
<line x1="58.10" y1="581.17" x2="63.20" y2="581.17" stroke="#000" stroke-width="1.3"/>
<text x="55.70" y="584.98" font-size="10.6" font-weight="bold" font-style="normal" text-anchor="end" fill="#000">100</text>
<line x1="58.10" y1="539.10" x2="63.20" y2="539.10" stroke="#000" stroke-width="1.3"/>
<text x="55.70" y="542.92" font-size="10.6" font-weight="bold" font-style="normal" text-anchor="end" fill="#000">150</text>
<line x1="62.60" y1="665.30" x2="152.00" y2="665.30" stroke="#000" stroke-width="1.3"/>
<line x1="73.40" y1="665.30" x2="73.40" y2="670.30" stroke="#000" stroke-width="1.3"/>
<line x1="96.50" y1="665.30" x2="96.50" y2="670.30" stroke="#000" stroke-width="1.3"/>
<line x1="119.50" y1="665.30" x2="119.50" y2="670.30" stroke="#000" stroke-width="1.3"/>
<line x1="142.50" y1="665.30" x2="142.50" y2="670.30" stroke="#000" stroke-width="1.3"/>
<text x="20.30" y="601.10" font-size="10.5" font-weight="bold" font-style="normal" text-anchor="middle" fill="#000" transform="rotate(-90 20.3 601.1)">Relative number of</text>
<text x="32.60" y="601.10" font-size="10.5" font-weight="bold" font-style="normal" text-anchor="middle" fill="#000" transform="rotate(-90 32.6 601.1)">viable cells (% vs Veh)</text>
<text x="96.90" y="564.18" font-size="8.0" font-weight="bold" font-style="italic" text-anchor="middle" fill="#000">&lt;0.0001</text>
<line x1="92.90" y1="569.10" x2="100.40" y2="569.10" stroke="#000" stroke-width="1.4"/>
<text x="119.70" y="576.08" font-size="8.0" font-weight="bold" font-style="italic" text-anchor="middle" fill="#000">0.0155</text>
<line x1="116.00" y1="582.10" x2="123.40" y2="582.10" stroke="#000" stroke-width="1.4"/>
<text x="142.50" y="595.58" font-size="8.0" font-weight="bold" font-style="italic" text-anchor="middle" fill="#000">0.0287</text>
<line x1="138.70" y1="601.00" x2="145.60" y2="601.00" stroke="#000" stroke-width="1.4"/>
<line x1="163.10" y1="545.50" x2="163.10" y2="654.20" stroke="#000" stroke-width="1.4"/>
<text x="176.20" y="601.50" font-size="10.2" font-weight="bold" font-style="normal" text-anchor="middle" fill="#000" transform="rotate(-90 176.2 601.5)">HCC1806</text>
<rect x="66.40" y="719.80" width="6.10" height="83.60" fill="#d4d4d4" stroke="#000" stroke-width="1.25"/>
<circle cx="69.83" cy="719.80" r="1.70" fill="#000" stroke="none" stroke-width="1"/>
<circle cx="70.30" cy="719.80" r="1.50" fill="#fff" stroke="#000" stroke-width="0.8"/>
<rect x="74.50" y="719.80" width="6.10" height="83.60" fill="#fce3c6" stroke="#f26522" stroke-width="1.25"/>
<rect x="75.64" y="718.20" width="3.20" height="3.20" fill="#f26522" stroke="none" stroke-width="1"/>
<rect x="76.74" y="718.40" width="2.80" height="2.80" fill="#fff" stroke="#f26522" stroke-width="0.8"/>
<rect x="89.50" y="752.40" width="6.10" height="51.00" fill="#d4d4d4" stroke="#000" stroke-width="1.25"/>
<line x1="92.55" y1="752.40" x2="92.55" y2="743.21" stroke="#000" stroke-width="0.9"/>
<line x1="91.05" y1="743.21" x2="94.05" y2="743.21" stroke="#000" stroke-width="0.9"/>
<circle cx="92.29" cy="736.52" r="1.70" fill="#000" stroke="none" stroke-width="1"/>
<circle cx="91.87" cy="738.19" r="1.50" fill="#fff" stroke="#000" stroke-width="0.8"/>
<circle cx="93.31" cy="763.27" r="1.70" fill="#000" stroke="none" stroke-width="1"/>
<circle cx="93.51" cy="774.14" r="1.50" fill="#fff" stroke="#000" stroke-width="0.8"/>
<rect x="97.60" y="721.47" width="6.10" height="81.93" fill="#fce3c6" stroke="#f26522" stroke-width="1.25"/>
<line x1="100.65" y1="721.47" x2="100.65" y2="716.46" stroke="#f26522" stroke-width="0.9"/>
<line x1="99.15" y1="716.46" x2="102.15" y2="716.46" stroke="#f26522" stroke-width="0.9"/>
<rect x="99.81" y="711.51" width="3.20" height="3.20" fill="#f26522" stroke="none" stroke-width="1"/>
<rect x="98.41" y="713.38" width="2.80" height="2.80" fill="#fff" stroke="#f26522" stroke-width="0.8"/>
<rect x="99.92" y="721.54" width="3.20" height="3.20" fill="#f26522" stroke="none" stroke-width="1"/>
<rect x="98.35" y="728.43" width="2.80" height="2.80" fill="#fff" stroke="#f26522" stroke-width="0.8"/>
<rect x="112.50" y="754.08" width="6.10" height="49.32" fill="#d4d4d4" stroke="#000" stroke-width="1.25"/>
<line x1="115.55" y1="754.08" x2="115.55" y2="747.39" stroke="#000" stroke-width="0.9"/>
<line x1="114.05" y1="747.39" x2="117.05" y2="747.39" stroke="#000" stroke-width="0.9"/>
<circle cx="116.42" cy="743.21" r="1.70" fill="#000" stroke="none" stroke-width="1"/>
<circle cx="115.60" cy="751.57" r="1.50" fill="#fff" stroke="#000" stroke-width="0.8"/>
<circle cx="114.81" cy="761.60" r="1.70" fill="#000" stroke="none" stroke-width="1"/>
<circle cx="115.61" cy="765.78" r="1.50" fill="#fff" stroke="#000" stroke-width="0.8"/>
<rect x="120.60" y="723.14" width="6.10" height="80.26" fill="#fce3c6" stroke="#f26522" stroke-width="1.25"/>
<line x1="123.65" y1="723.14" x2="123.65" y2="719.80" stroke="#f26522" stroke-width="0.9"/>
<line x1="122.15" y1="719.80" x2="125.15" y2="719.80" stroke="#f26522" stroke-width="0.9"/>
<rect x="122.76" y="717.36" width="3.20" height="3.20" fill="#f26522" stroke="none" stroke-width="1"/>
<rect x="121.28" y="720.91" width="2.80" height="2.80" fill="#fff" stroke="#f26522" stroke-width="0.8"/>
<rect x="122.40" y="724.05" width="3.20" height="3.20" fill="#f26522" stroke="none" stroke-width="1"/>
<rect x="135.50" y="741.54" width="6.10" height="61.86" fill="#d4d4d4" stroke="#000" stroke-width="1.25"/>
<line x1="138.55" y1="741.54" x2="138.55" y2="738.19" stroke="#000" stroke-width="0.9"/>
<line x1="137.05" y1="738.19" x2="140.05" y2="738.19" stroke="#000" stroke-width="0.9"/>
<circle cx="139.00" cy="732.34" r="1.70" fill="#000" stroke="none" stroke-width="1"/>
<circle cx="138.59" cy="738.19" r="1.50" fill="#fff" stroke="#000" stroke-width="0.8"/>
<circle cx="138.77" cy="743.21" r="1.70" fill="#000" stroke="none" stroke-width="1"/>
<circle cx="137.91" cy="744.88" r="1.50" fill="#fff" stroke="#000" stroke-width="0.8"/>
<rect x="143.60" y="739.03" width="6.10" height="64.37" fill="#fce3c6" stroke="#f26522" stroke-width="1.25"/>
<line x1="146.65" y1="739.03" x2="146.65" y2="737.36" stroke="#f26522" stroke-width="0.9"/>
<line x1="145.15" y1="737.36" x2="148.15" y2="737.36" stroke="#f26522" stroke-width="0.9"/>
<rect x="144.97" y="734.92" width="3.20" height="3.20" fill="#f26522" stroke="none" stroke-width="1"/>
<rect x="145.14" y="736.79" width="2.80" height="2.80" fill="#fff" stroke="#f26522" stroke-width="0.8"/>
<rect x="144.15" y="739.10" width="3.20" height="3.20" fill="#f26522" stroke="none" stroke-width="1"/>
<line x1="63.20" y1="677.40" x2="63.20" y2="804.00" stroke="#000" stroke-width="1.3"/>
<line x1="58.10" y1="803.40" x2="63.20" y2="803.40" stroke="#000" stroke-width="1.3"/>
<text x="55.70" y="807.22" font-size="10.6" font-weight="bold" font-style="normal" text-anchor="end" fill="#000">0</text>
<line x1="58.10" y1="761.60" x2="63.20" y2="761.60" stroke="#000" stroke-width="1.3"/>
<text x="55.70" y="765.42" font-size="10.6" font-weight="bold" font-style="normal" text-anchor="end" fill="#000">50</text>
<line x1="58.10" y1="719.80" x2="63.20" y2="719.80" stroke="#000" stroke-width="1.3"/>
<text x="55.70" y="723.62" font-size="10.6" font-weight="bold" font-style="normal" text-anchor="end" fill="#000">100</text>
<line x1="58.10" y1="678.00" x2="63.20" y2="678.00" stroke="#000" stroke-width="1.3"/>
<text x="55.70" y="681.82" font-size="10.6" font-weight="bold" font-style="normal" text-anchor="end" fill="#000">150</text>
<line x1="62.60" y1="803.40" x2="152.00" y2="803.40" stroke="#000" stroke-width="1.3"/>
<line x1="73.40" y1="803.40" x2="73.40" y2="808.40" stroke="#000" stroke-width="1.3"/>
<line x1="96.50" y1="803.40" x2="96.50" y2="808.40" stroke="#000" stroke-width="1.3"/>
<line x1="119.50" y1="803.40" x2="119.50" y2="808.40" stroke="#000" stroke-width="1.3"/>
<line x1="142.50" y1="803.40" x2="142.50" y2="808.40" stroke="#000" stroke-width="1.3"/>
<text x="20.30" y="739.90" font-size="10.5" font-weight="bold" font-style="normal" text-anchor="middle" fill="#000" transform="rotate(-90 20.3 739.9)">Relative number of</text>
<text x="32.60" y="739.90" font-size="10.5" font-weight="bold" font-style="normal" text-anchor="middle" fill="#000" transform="rotate(-90 32.6 739.9)">viable cells (% vs Veh)</text>
<text x="76.20" y="818.90" font-size="9.6" font-weight="bold" text-anchor="end" transform="rotate(-45 76.20 818.90)">Veh</text>
<text x="99.30" y="818.90" font-size="9.6" font-weight="bold" text-anchor="end" transform="rotate(-45 99.30 818.90)">Cisplatin</text>
<text x="122.30" y="818.90" font-size="9.6" font-weight="bold" text-anchor="end" transform="rotate(-45 122.30 818.90)">5-FU</text>
<text x="145.30" y="818.90" font-size="9.6" font-weight="bold" text-anchor="end" transform="rotate(-45 145.30 818.90)">Dox</text>
<text x="96.90" y="692.58" font-size="8.0" font-weight="bold" font-style="italic" text-anchor="middle" fill="#000">&lt;0.0001</text>
<line x1="93.00" y1="698.00" x2="100.40" y2="698.00" stroke="#000" stroke-width="1.4"/>
<text x="119.50" y="704.48" font-size="8.0" font-weight="bold" font-style="italic" text-anchor="middle" fill="#000">&lt;0.0001</text>
<line x1="115.10" y1="709.40" x2="122.60" y2="709.40" stroke="#000" stroke-width="1.4"/>
<text x="142.20" y="718.38" font-size="8.0" font-weight="normal" font-style="italic" text-anchor="middle" fill="#2a2a2a">0.7444</text>
<line x1="138.70" y1="723.80" x2="145.60" y2="723.80" stroke="#000" stroke-width="1.4"/>
<line x1="163.10" y1="686.40" x2="163.10" y2="795.10" stroke="#000" stroke-width="1.4"/>
<text x="176.20" y="741.80" font-size="10.2" font-weight="bold" font-style="normal" text-anchor="middle" fill="#000" transform="rotate(-90 176.2 741.8)">BT-474</text>
<text x="194.30" y="530.90" font-size="16" font-weight="bold" font-style="normal" text-anchor="start" fill="#000">h</text>
<line x1="231.00" y1="556.50" x2="273.00" y2="556.50" stroke="#000" stroke-width="2.0" stroke-dasharray="4.9,1.7"/>
<line x1="273.00" y1="556.50" x2="609.00" y2="556.50" stroke="#000" stroke-width="1.6"/>
<path d="M608.1 551.7 L617.8 556.5 L608.1 561.3 Z" fill="#000" stroke="none" stroke-width="1.2"/>
<line x1="618.50" y1="556.50" x2="659.50" y2="556.50" stroke="#000" stroke-width="1.9" stroke-dasharray="4.7,1.9"/>
<rect x="459.40" y="525.20" width="131.30" height="82.00" fill="#f0f0f0" stroke="#111" stroke-width="1.5"/>
<line x1="459.20" y1="556.50" x2="590.80" y2="556.50" stroke="#000" stroke-width="1.6"/>
<text x="463.00" y="535.70" font-size="10.2" font-weight="bold" font-style="normal" text-anchor="start" fill="#000">T=Treatment</text>
<text x="589.00" y="535.70" font-size="10.2" font-weight="normal" font-style="normal" text-anchor="end" fill="#000">Days</text>
<text x="443.20" y="552.70" font-size="10.2" font-weight="normal" font-style="normal" text-anchor="middle" fill="#000">-1</text>
<text x="459.90" y="552.70" font-size="10.2" font-weight="normal" font-style="normal" text-anchor="middle" fill="#000">0</text>
<text x="503.60" y="552.70" font-size="10.2" font-weight="normal" font-style="normal" text-anchor="middle" fill="#000">5</text>
<text x="563.50" y="552.70" font-size="10.2" font-weight="normal" font-style="normal" text-anchor="middle" fill="#000">12</text>
<text x="590.10" y="552.70" font-size="10.2" font-weight="normal" font-style="normal" text-anchor="middle" fill="#000">14</text>
<line x1="273.40" y1="556.50" x2="273.40" y2="567.20" stroke="#000" stroke-width="1.7"/>
<path d="M268.60 566.20L278.20 566.20L273.40 575.40Z" fill="#000" stroke="none" stroke-width="1.2"/>
<line x1="445.50" y1="556.50" x2="445.50" y2="605.80" stroke="#000" stroke-width="1.9"/>
<path d="M440.80 604.80L450.20 604.80L445.50 613.90Z" fill="#000" stroke="none" stroke-width="1.2"/>
<line x1="459.90" y1="556.50" x2="459.90" y2="567.30" stroke="#000" stroke-width="1.7"/>
<path d="M455.30 566.30L464.50 566.30L459.90 575.30Z" fill="#000" stroke="none" stroke-width="1.2"/>
<line x1="503.60" y1="556.50" x2="503.60" y2="567.30" stroke="#000" stroke-width="1.7"/>
<path d="M499.00 566.30L508.20 566.30L503.60 575.30Z" fill="#000" stroke="none" stroke-width="1.2"/>
<line x1="563.50" y1="556.50" x2="563.50" y2="567.30" stroke="#000" stroke-width="1.7"/>
<path d="M558.90 566.30L568.10 566.30L563.50 575.30Z" fill="#000" stroke="none" stroke-width="1.2"/>
<text x="463.00" y="591.50" font-size="10.2" font-weight="normal" font-style="normal" text-anchor="start" fill="#000">Intraperitoneal injection of</text>
<text x="463.00" y="603.70" font-size="10.2" font-weight="normal" font-style="normal" text-anchor="start" fill="#000">Cisplatin (4 or 8mg/kg)</text>
<text x="482.70" y="621.10" font-size="10.2" font-weight="normal" font-style="normal" text-anchor="end" fill="#000">Randomization</text>
<path d="M590.8 607.5 L590.8 616.5 L605 616.5" fill="none" stroke="#000" stroke-width="1.6"/>
<path d="M604.3 611.6 L613.9 616.5 L604.3 621.2 Z" fill="#000" stroke="none" stroke-width="1.2"/>
<text x="616.00" y="618.60" font-size="10.2" font-weight="normal" font-style="normal" text-anchor="start" fill="#000">Sacrifice</text>
<text x="355.80" y="540.50" font-size="10.2" font-weight="normal" font-style="normal" text-anchor="middle" fill="#000">Tumor growth to</text>
<text x="357.70" y="552.40" font-size="10.2" font-weight="normal" font-style="normal" text-anchor="middle" fill="#000">80-120 mm<tspan font-size="6.5" dy="-4">3</tspan><tspan dy="4"> volume</tspan></text>
<text x="253.00" y="586.60" font-size="10.2" font-weight="normal" font-style="normal" text-anchor="middle" fill="#000">Mammary Fat</text>
<text x="253.20" y="599.50" font-size="10.2" font-weight="normal" font-style="normal" text-anchor="middle" fill="#000">Pad Injection</text>
<path d="M255.9 620 Q270 614.5 289 616" fill="none" stroke="#d8928c" stroke-width="1.3"/>
<path d="M291 609 L288 604.5 L286.5 604" fill="none" stroke="#e0a39c" stroke-width="1.7" stroke-linecap="round"/>
<path d="M292 624 L288.5 629.5 L286 631" fill="none" stroke="#e0a39c" stroke-width="1.7" stroke-linecap="round"/>
<path d="M315 608 L319.5 603.5 L321 603" fill="none" stroke="#e0a39c" stroke-width="1.7" stroke-linecap="round"/>
<path d="M316 625 L320 629.5 L322 630.5" fill="none" stroke="#e0a39c" stroke-width="1.7" stroke-linecap="round"/>
<path d="M288 616 C288 610 293 607 300 607.5 C306 608 310 605.5 316 607 C320 608.5 322 610.5 324 611.5 C322 614 322 620 324 622.5 C322 623.5 320 625.5 316 626.5 C310 628 306 626 300 626.5 C293 627 288 622 288 616 Z" fill="#e6e1dd" stroke="#c9beb8" stroke-width="0.7"/>
<circle cx="322.00" cy="611.50" r="2.20" fill="#e7aaa4" stroke="none" stroke-width="1"/>
<circle cx="322.00" cy="622.50" r="2.20" fill="#e7aaa4" stroke="none" stroke-width="1"/>
<path d="M321 612 C325 612 331 614.5 331.5 617 C331 619.5 325 622 321 622 C319.5 619 319.5 615 321 612 Z" fill="#e9e5e1" stroke="#c9beb8" stroke-width="0.7"/>
<line x1="278.00" y1="601.50" x2="288.00" y2="607.00" stroke="#aab" stroke-width="1.1"/>
<line x1="287.00" y1="606.50" x2="296.00" y2="611.50" stroke="#7cc" stroke-width="1.8"/>
<line x1="284.50" y1="605.50" x2="286.50" y2="602.80" stroke="#555" stroke-width="0.8"/>
<line x1="290.00" y1="607.00" x2="289.00" y2="594.00" stroke="#555" stroke-width="0.6" stroke-dasharray="1,1"/>
<line x1="293.00" y1="608.50" x2="318.00" y2="597.00" stroke="#555" stroke-width="0.6" stroke-dasharray="1,1"/>
<circle cx="305.80" cy="581.30" r="19.70" fill="#f2fbfc" stroke="#555" stroke-width="0.9"/>
<path d="M307.49 572.67L314.09 570.33L307.09 570.10ZM305.91 571.23L306.05 576.99L308.45 571.75ZM307.09 570.10L301.62 571.48L307.13 572.70ZM308.48 571.15L306.46 565.28L305.90 571.47Z" fill="#d8805a" stroke="#d8805a" stroke-width="0.5" stroke-linejoin="round"/>
<circle cx="307.20" cy="571.40" r="1.90" fill="#d8805a" stroke="none" stroke-width="1"/>
<circle cx="307.20" cy="571.40" r="0.80" fill="#c0653c" stroke="none" stroke-width="1"/>
<path d="M296.91 579.26L301.74 577.11L296.47 576.71ZM295.71 578.95L300.29 581.98L297.61 577.19ZM296.44 576.71L291.15 578.30L296.58 579.30ZM297.79 577.47L294.65 572.61L295.35 578.36Z" fill="#d8805a" stroke="#d8805a" stroke-width="0.5" stroke-linejoin="round"/>
<circle cx="296.60" cy="578.00" r="1.90" fill="#d8805a" stroke="none" stroke-width="1"/>
<circle cx="296.60" cy="578.00" r="0.80" fill="#c0653c" stroke="none" stroke-width="1"/>
<path d="M303.65 580.98L307.69 583.21L305.48 579.15ZM304.17 578.74L299.73 580.92L304.65 581.29ZM305.79 579.85L304.26 574.38L303.20 579.96Z" fill="#d8805a" stroke="#d8805a" stroke-width="0.5" stroke-linejoin="round"/>
<circle cx="304.50" cy="580.00" r="1.90" fill="#d8805a" stroke="none" stroke-width="1"/>
<circle cx="304.50" cy="580.00" r="0.80" fill="#c0653c" stroke="none" stroke-width="1"/>
<path d="M292.89 584.50L298.51 585.90L294.07 582.19ZM292.10 583.31L292.95 590.22L294.69 583.48ZM293.31 582.00L286.73 583.27L293.30 584.60ZM294.70 583.19L293.34 577.85L292.10 583.22Z" fill="#d8805a" stroke="#d8805a" stroke-width="0.5" stroke-linejoin="round"/>
<circle cx="293.40" cy="583.30" r="1.90" fill="#d8805a" stroke="none" stroke-width="1"/>
<circle cx="293.40" cy="583.30" r="0.80" fill="#c0653c" stroke="none" stroke-width="1"/>
<path d="M302.29 586.83L307.08 590.26L304.23 585.11ZM302.78 584.67L297.17 587.48L303.44 587.18ZM304.33 586.54L305.81 582.00L302.17 585.10Z" fill="#d8805a" stroke="#d8805a" stroke-width="0.5" stroke-linejoin="round"/>
<circle cx="303.20" cy="585.90" r="1.90" fill="#d8805a" stroke="none" stroke-width="1"/>
<circle cx="303.20" cy="585.90" r="0.80" fill="#c0653c" stroke="none" stroke-width="1"/>
<path d="M318.17 581.88L319.42 577.18L315.93 580.56ZM315.86 581.92L319.66 587.14L318.22 580.85ZM316.24 580.25L311.79 584.52L317.60 582.45ZM317.64 580.17L312.17 578.07L316.20 582.33Z" fill="#d8805a" stroke="#d8805a" stroke-width="0.5" stroke-linejoin="round"/>
<circle cx="317.00" cy="581.30" r="1.90" fill="#d8805a" stroke="none" stroke-width="1"/>
<circle cx="317.00" cy="581.30" r="0.80" fill="#c0653c" stroke="none" stroke-width="1"/>
<path d="M307.20 589.86L308.34 595.69L309.79 589.93ZM308.67 588.51L302.61 588.58L308.15 591.05ZM309.44 590.69L313.02 585.66L307.69 588.78Z" fill="#d8805a" stroke="#d8805a" stroke-width="0.5" stroke-linejoin="round"/>
<circle cx="308.50" cy="589.80" r="1.90" fill="#d8805a" stroke="none" stroke-width="1"/>
<circle cx="308.50" cy="589.80" r="0.80" fill="#c0653c" stroke="none" stroke-width="1"/>
<path d="M317.61 588.50L321.85 587.80L317.98 585.93ZM317.04 586.08L312.31 589.88L318.20 588.40ZM318.86 586.62L316.06 583.24L316.47 587.61Z" fill="#d8805a" stroke="#d8805a" stroke-width="0.5" stroke-linejoin="round"/>
<circle cx="317.70" cy="587.20" r="1.90" fill="#d8805a" stroke="none" stroke-width="1"/>
<circle cx="317.70" cy="587.20" r="0.80" fill="#c0653c" stroke="none" stroke-width="1"/>
<text x="324.7" y="573.7" font-size="10.2"><tspan font-weight="normal" font-style="italic">CDK4</tspan>-<tspan font-weight="bold">WT</tspan></text>
<text x="348.20" y="585.80" font-size="10.2" font-weight="normal" font-style="normal" text-anchor="middle" fill="#aaa">or</text>
<text x="324.7" y="598.0" font-size="10.2" fill="#f2211b"><tspan font-weight="normal" font-style="italic">CDK4</tspan>-<tspan font-weight="bold">KO</tspan></text>
<text x="325.40" y="632.50" font-size="10.2" font-weight="normal" font-style="normal" text-anchor="start" fill="#000">NSG-mice</text>
<path d="M597.5 605.5 Q603 595 621 595" fill="none" stroke="#d69c96" stroke-width="1.3"/>
<ellipse cx="631" cy="591.8" rx="12.3" ry="11.5" fill="#e9e9e9" stroke="#d4d4d4" stroke-width="0.5"/>
<ellipse cx="628.5" cy="585.8" rx="3.3" ry="3.9" fill="#e6a3a0"/>
<ellipse cx="644.2" cy="585.8" rx="3.3" ry="3.9" fill="#e6a3a0"/>
<ellipse cx="637" cy="594" rx="8" ry="7.3" fill="#f1f1f1"/>
<circle cx="622.00" cy="601.80" r="1.60" fill="#e6a3a0" stroke="none" stroke-width="1"/>
<circle cx="630.50" cy="605.30" r="1.60" fill="#e6a3a0" stroke="none" stroke-width="1"/>
<circle cx="643.00" cy="604.60" r="1.60" fill="#e6a3a0" stroke="none" stroke-width="1"/>
<circle cx="633.60" cy="593.40" r="0.90" fill="#b33" stroke="none" stroke-width="1"/>
<circle cx="640.40" cy="593.40" r="0.90" fill="#b33" stroke="none" stroke-width="1"/>
<circle cx="636.80" cy="598.40" r="1.00" fill="#e8a0a8" stroke="none" stroke-width="1"/>
<text x="196.40" y="668.90" font-size="16" font-weight="bold" font-style="normal" text-anchor="start" fill="#000">i</text>
<line x1="221.80" y1="673.90" x2="237.00" y2="673.90" stroke="#000" stroke-width="0.9"/>
<circle cx="229.40" cy="673.90" r="1.00" fill="#000" stroke="none" stroke-width="1"/>
<text x="242.7" y="677.7" font-size="10.5"><tspan font-weight="normal" font-style="italic">CDK4</tspan>-WT / Veh</text>
<line x1="349.00" y1="673.90" x2="363.40" y2="673.90" stroke="#f2211b" stroke-width="0.9"/>
<circle cx="356.20" cy="673.90" r="1.00" fill="#f2211b" stroke="none" stroke-width="1"/>
<text x="370.2" y="677.7" font-size="10.5"><tspan font-weight="normal" font-style="italic">CDK4</tspan>-KO / Veh</text>
<line x1="221.80" y1="686.80" x2="237.00" y2="686.80" stroke="#3ddc2a" stroke-width="0.9" stroke-dasharray="1.5,1"/>
<text x="242.7" y="690.6" font-size="10.5"><tspan font-weight="normal" font-style="italic">CDK4</tspan>-WT / Cisplatin</text>
<line x1="347.40" y1="686.80" x2="362.60" y2="686.80" stroke="#6ea8f2" stroke-width="0.9" stroke-dasharray="1.5,1"/>
<text x="369.0" y="690.6" font-size="10.5"><tspan font-weight="normal" font-style="italic">CDK4</tspan>-KO / Cisplatin</text>
<rect x="294.90" y="695.30" width="31.30" height="127.40" fill="#f0f0f0" stroke="#111" stroke-width="1.3"/>
<rect x="406.40" y="695.20" width="31.80" height="127.50" fill="#f0f0f0" stroke="#111" stroke-width="1.3"/>
<text x="297.60" y="706.90" font-size="10.8" font-weight="bold" font-style="normal" text-anchor="start" fill="#000">T</text>
<text x="409.30" y="706.90" font-size="10.8" font-weight="bold" font-style="normal" text-anchor="start" fill="#000">T</text>
<path d="M255.38 822.70 L326.00 822.70 L342.48 822.23 L356.60 820.82 L375.43 816.43 L384.85 814.07 L389.56 813.29 L406.03 805.44 L413.10 800.74 L422.51 794.46 L431.93 783.48 L436.64 744.26" fill="none" stroke="#6ea8f2" stroke-width="0.9" stroke-dasharray="1.5,0.8" stroke-linejoin="round"/>
<circle cx="255.38" cy="822.70" r="0.70" fill="#6ea8f2" stroke="none" stroke-width="1"/>
<circle cx="326.00" cy="822.70" r="0.70" fill="#6ea8f2" stroke="none" stroke-width="1"/>
<circle cx="342.48" cy="822.23" r="0.70" fill="#6ea8f2" stroke="none" stroke-width="1"/>
<circle cx="356.60" cy="820.82" r="0.70" fill="#6ea8f2" stroke="none" stroke-width="1"/>
<circle cx="375.43" cy="816.43" r="0.70" fill="#6ea8f2" stroke="none" stroke-width="1"/>
<circle cx="384.85" cy="814.07" r="0.70" fill="#6ea8f2" stroke="none" stroke-width="1"/>
<circle cx="389.56" cy="813.29" r="0.70" fill="#6ea8f2" stroke="none" stroke-width="1"/>
<circle cx="406.03" cy="805.44" r="0.70" fill="#6ea8f2" stroke="none" stroke-width="1"/>
<circle cx="413.10" cy="800.74" r="0.70" fill="#6ea8f2" stroke="none" stroke-width="1"/>
<circle cx="422.51" cy="794.46" r="0.70" fill="#6ea8f2" stroke="none" stroke-width="1"/>
<circle cx="431.93" cy="783.48" r="0.70" fill="#6ea8f2" stroke="none" stroke-width="1"/>
<circle cx="436.64" cy="744.26" r="0.70" fill="#6ea8f2" stroke="none" stroke-width="1"/>
<path d="M255.38 822.70 L326.00 822.70 L342.48 822.39 L356.60 821.13 L375.43 817.21 L384.85 814.86 L389.56 814.07 L406.03 807.01 L413.10 802.31 L422.51 797.60 L431.93 791.33 L436.64 759.95" fill="none" stroke="#6ea8f2" stroke-width="0.9" stroke-dasharray="1.5,0.8" stroke-linejoin="round"/>
<circle cx="255.38" cy="822.70" r="0.70" fill="#6ea8f2" stroke="none" stroke-width="1"/>
<circle cx="326.00" cy="822.70" r="0.70" fill="#6ea8f2" stroke="none" stroke-width="1"/>
<circle cx="342.48" cy="822.39" r="0.70" fill="#6ea8f2" stroke="none" stroke-width="1"/>
<circle cx="356.60" cy="821.13" r="0.70" fill="#6ea8f2" stroke="none" stroke-width="1"/>
<circle cx="375.43" cy="817.21" r="0.70" fill="#6ea8f2" stroke="none" stroke-width="1"/>
<circle cx="384.85" cy="814.86" r="0.70" fill="#6ea8f2" stroke="none" stroke-width="1"/>
<circle cx="389.56" cy="814.07" r="0.70" fill="#6ea8f2" stroke="none" stroke-width="1"/>
<circle cx="406.03" cy="807.01" r="0.70" fill="#6ea8f2" stroke="none" stroke-width="1"/>
<circle cx="413.10" cy="802.31" r="0.70" fill="#6ea8f2" stroke="none" stroke-width="1"/>
<circle cx="422.51" cy="797.60" r="0.70" fill="#6ea8f2" stroke="none" stroke-width="1"/>
<circle cx="431.93" cy="791.33" r="0.70" fill="#6ea8f2" stroke="none" stroke-width="1"/>
<circle cx="436.64" cy="759.95" r="0.70" fill="#6ea8f2" stroke="none" stroke-width="1"/>
<path d="M255.38 822.70 L326.00 822.70 L342.48 822.39 L356.60 821.45 L375.43 817.99 L384.85 815.64 L389.56 814.86 L406.03 808.58 L413.10 805.44 L422.51 800.74 L431.93 794.46 L436.64 772.50" fill="none" stroke="#6ea8f2" stroke-width="0.9" stroke-dasharray="1.5,0.8" stroke-linejoin="round"/>
<circle cx="255.38" cy="822.70" r="0.70" fill="#6ea8f2" stroke="none" stroke-width="1"/>
<circle cx="326.00" cy="822.70" r="0.70" fill="#6ea8f2" stroke="none" stroke-width="1"/>
<circle cx="342.48" cy="822.39" r="0.70" fill="#6ea8f2" stroke="none" stroke-width="1"/>
<circle cx="356.60" cy="821.45" r="0.70" fill="#6ea8f2" stroke="none" stroke-width="1"/>
<circle cx="375.43" cy="817.99" r="0.70" fill="#6ea8f2" stroke="none" stroke-width="1"/>
<circle cx="384.85" cy="815.64" r="0.70" fill="#6ea8f2" stroke="none" stroke-width="1"/>
<circle cx="389.56" cy="814.86" r="0.70" fill="#6ea8f2" stroke="none" stroke-width="1"/>
<circle cx="406.03" cy="808.58" r="0.70" fill="#6ea8f2" stroke="none" stroke-width="1"/>
<circle cx="413.10" cy="805.44" r="0.70" fill="#6ea8f2" stroke="none" stroke-width="1"/>
<circle cx="422.51" cy="800.74" r="0.70" fill="#6ea8f2" stroke="none" stroke-width="1"/>
<circle cx="431.93" cy="794.46" r="0.70" fill="#6ea8f2" stroke="none" stroke-width="1"/>
<circle cx="436.64" cy="772.50" r="0.70" fill="#6ea8f2" stroke="none" stroke-width="1"/>
<path d="M255.38 822.70 L326.00 822.70 L342.48 822.39 L356.60 821.60 L375.43 818.31 L384.85 816.43 L389.56 815.64 L406.03 810.15 L413.10 807.01 L422.51 803.88 L431.93 799.17 L436.64 791.33" fill="none" stroke="#6ea8f2" stroke-width="0.9" stroke-dasharray="1.5,0.8" stroke-linejoin="round"/>
<circle cx="255.38" cy="822.70" r="0.70" fill="#6ea8f2" stroke="none" stroke-width="1"/>
<circle cx="326.00" cy="822.70" r="0.70" fill="#6ea8f2" stroke="none" stroke-width="1"/>
<circle cx="342.48" cy="822.39" r="0.70" fill="#6ea8f2" stroke="none" stroke-width="1"/>
<circle cx="356.60" cy="821.60" r="0.70" fill="#6ea8f2" stroke="none" stroke-width="1"/>
<circle cx="375.43" cy="818.31" r="0.70" fill="#6ea8f2" stroke="none" stroke-width="1"/>
<circle cx="384.85" cy="816.43" r="0.70" fill="#6ea8f2" stroke="none" stroke-width="1"/>
<circle cx="389.56" cy="815.64" r="0.70" fill="#6ea8f2" stroke="none" stroke-width="1"/>
<circle cx="406.03" cy="810.15" r="0.70" fill="#6ea8f2" stroke="none" stroke-width="1"/>
<circle cx="413.10" cy="807.01" r="0.70" fill="#6ea8f2" stroke="none" stroke-width="1"/>
<circle cx="422.51" cy="803.88" r="0.70" fill="#6ea8f2" stroke="none" stroke-width="1"/>
<circle cx="431.93" cy="799.17" r="0.70" fill="#6ea8f2" stroke="none" stroke-width="1"/>
<circle cx="436.64" cy="791.33" r="0.70" fill="#6ea8f2" stroke="none" stroke-width="1"/>
<path d="M255.38 822.70 L326.00 822.70 L342.48 822.54 L356.60 821.76 L375.43 818.78 L384.85 817.21 L389.56 816.43 L406.03 811.72 L413.10 808.58 L422.51 807.01 L431.93 805.44 L436.64 799.17" fill="none" stroke="#6ea8f2" stroke-width="0.9" stroke-dasharray="1.5,0.8" stroke-linejoin="round"/>
<circle cx="255.38" cy="822.70" r="0.70" fill="#6ea8f2" stroke="none" stroke-width="1"/>
<circle cx="326.00" cy="822.70" r="0.70" fill="#6ea8f2" stroke="none" stroke-width="1"/>
<circle cx="342.48" cy="822.54" r="0.70" fill="#6ea8f2" stroke="none" stroke-width="1"/>
<circle cx="356.60" cy="821.76" r="0.70" fill="#6ea8f2" stroke="none" stroke-width="1"/>
<circle cx="375.43" cy="818.78" r="0.70" fill="#6ea8f2" stroke="none" stroke-width="1"/>
<circle cx="384.85" cy="817.21" r="0.70" fill="#6ea8f2" stroke="none" stroke-width="1"/>
<circle cx="389.56" cy="816.43" r="0.70" fill="#6ea8f2" stroke="none" stroke-width="1"/>
<circle cx="406.03" cy="811.72" r="0.70" fill="#6ea8f2" stroke="none" stroke-width="1"/>
<circle cx="413.10" cy="808.58" r="0.70" fill="#6ea8f2" stroke="none" stroke-width="1"/>
<circle cx="422.51" cy="807.01" r="0.70" fill="#6ea8f2" stroke="none" stroke-width="1"/>
<circle cx="431.93" cy="805.44" r="0.70" fill="#6ea8f2" stroke="none" stroke-width="1"/>
<circle cx="436.64" cy="799.17" r="0.70" fill="#6ea8f2" stroke="none" stroke-width="1"/>
<path d="M255.38 822.70 L326.00 822.70 L342.48 822.39 L356.60 821.45 L375.43 817.99 L384.85 816.43 L389.56 815.17 L406.03 809.37 L413.10 807.80 L422.51 805.44 L431.93 803.88 L436.64 802.31" fill="none" stroke="#6ea8f2" stroke-width="0.9" stroke-dasharray="1.5,0.8" stroke-linejoin="round"/>
<circle cx="255.38" cy="822.70" r="0.70" fill="#6ea8f2" stroke="none" stroke-width="1"/>
<circle cx="326.00" cy="822.70" r="0.70" fill="#6ea8f2" stroke="none" stroke-width="1"/>
<circle cx="342.48" cy="822.39" r="0.70" fill="#6ea8f2" stroke="none" stroke-width="1"/>
<circle cx="356.60" cy="821.45" r="0.70" fill="#6ea8f2" stroke="none" stroke-width="1"/>
<circle cx="375.43" cy="817.99" r="0.70" fill="#6ea8f2" stroke="none" stroke-width="1"/>
<circle cx="384.85" cy="816.43" r="0.70" fill="#6ea8f2" stroke="none" stroke-width="1"/>
<circle cx="389.56" cy="815.17" r="0.70" fill="#6ea8f2" stroke="none" stroke-width="1"/>
<circle cx="406.03" cy="809.37" r="0.70" fill="#6ea8f2" stroke="none" stroke-width="1"/>
<circle cx="413.10" cy="807.80" r="0.70" fill="#6ea8f2" stroke="none" stroke-width="1"/>
<circle cx="422.51" cy="805.44" r="0.70" fill="#6ea8f2" stroke="none" stroke-width="1"/>
<circle cx="431.93" cy="803.88" r="0.70" fill="#6ea8f2" stroke="none" stroke-width="1"/>
<circle cx="436.64" cy="802.31" r="0.70" fill="#6ea8f2" stroke="none" stroke-width="1"/>
<path d="M255.38 822.70 L326.00 822.70 L342.48 821.92 L356.60 819.56 L375.43 811.72 L384.85 805.44 L389.56 802.31 L406.03 791.33 L413.10 781.91 L422.51 774.07 L431.93 759.95 L436.64 719.95" fill="none" stroke="#ee2222" stroke-width="1.0" stroke-linejoin="round"/>
<circle cx="255.38" cy="822.70" r="0.70" fill="#ee2222" stroke="none" stroke-width="1"/>
<circle cx="326.00" cy="822.70" r="0.70" fill="#ee2222" stroke="none" stroke-width="1"/>
<circle cx="342.48" cy="821.92" r="0.70" fill="#ee2222" stroke="none" stroke-width="1"/>
<circle cx="356.60" cy="819.56" r="0.70" fill="#ee2222" stroke="none" stroke-width="1"/>
<circle cx="375.43" cy="811.72" r="0.70" fill="#ee2222" stroke="none" stroke-width="1"/>
<circle cx="384.85" cy="805.44" r="0.70" fill="#ee2222" stroke="none" stroke-width="1"/>
<circle cx="389.56" cy="802.31" r="0.70" fill="#ee2222" stroke="none" stroke-width="1"/>
<circle cx="406.03" cy="791.33" r="0.70" fill="#ee2222" stroke="none" stroke-width="1"/>
<circle cx="413.10" cy="781.91" r="0.70" fill="#ee2222" stroke="none" stroke-width="1"/>
<circle cx="422.51" cy="774.07" r="0.70" fill="#ee2222" stroke="none" stroke-width="1"/>
<circle cx="431.93" cy="759.95" r="0.70" fill="#ee2222" stroke="none" stroke-width="1"/>
<circle cx="436.64" cy="719.95" r="0.70" fill="#ee2222" stroke="none" stroke-width="1"/>
<path d="M255.38 822.70 L326.00 822.70 L342.48 821.92 L356.60 820.35 L375.43 813.29 L384.85 808.58 L389.56 807.01 L406.03 794.46 L413.10 785.05 L422.51 774.07 L431.93 770.93 L436.64 752.11" fill="none" stroke="#ee2222" stroke-width="1.0" stroke-linejoin="round"/>
<circle cx="255.38" cy="822.70" r="0.70" fill="#ee2222" stroke="none" stroke-width="1"/>
<circle cx="326.00" cy="822.70" r="0.70" fill="#ee2222" stroke="none" stroke-width="1"/>
<circle cx="342.48" cy="821.92" r="0.70" fill="#ee2222" stroke="none" stroke-width="1"/>
<circle cx="356.60" cy="820.35" r="0.70" fill="#ee2222" stroke="none" stroke-width="1"/>
<circle cx="375.43" cy="813.29" r="0.70" fill="#ee2222" stroke="none" stroke-width="1"/>
<circle cx="384.85" cy="808.58" r="0.70" fill="#ee2222" stroke="none" stroke-width="1"/>
<circle cx="389.56" cy="807.01" r="0.70" fill="#ee2222" stroke="none" stroke-width="1"/>
<circle cx="406.03" cy="794.46" r="0.70" fill="#ee2222" stroke="none" stroke-width="1"/>
<circle cx="413.10" cy="785.05" r="0.70" fill="#ee2222" stroke="none" stroke-width="1"/>
<circle cx="422.51" cy="774.07" r="0.70" fill="#ee2222" stroke="none" stroke-width="1"/>
<circle cx="431.93" cy="770.93" r="0.70" fill="#ee2222" stroke="none" stroke-width="1"/>
<circle cx="436.64" cy="752.11" r="0.70" fill="#ee2222" stroke="none" stroke-width="1"/>
<path d="M255.38 822.70 L326.00 822.70 L342.48 822.23 L356.60 820.82 L375.43 814.86 L384.85 811.72 L389.56 810.15 L406.03 799.17 L413.10 791.33 L422.51 783.48 L431.93 770.93 L436.64 756.81" fill="none" stroke="#ee2222" stroke-width="1.0" stroke-linejoin="round"/>
<circle cx="255.38" cy="822.70" r="0.70" fill="#ee2222" stroke="none" stroke-width="1"/>
<circle cx="326.00" cy="822.70" r="0.70" fill="#ee2222" stroke="none" stroke-width="1"/>
<circle cx="342.48" cy="822.23" r="0.70" fill="#ee2222" stroke="none" stroke-width="1"/>
<circle cx="356.60" cy="820.82" r="0.70" fill="#ee2222" stroke="none" stroke-width="1"/>
<circle cx="375.43" cy="814.86" r="0.70" fill="#ee2222" stroke="none" stroke-width="1"/>
<circle cx="384.85" cy="811.72" r="0.70" fill="#ee2222" stroke="none" stroke-width="1"/>
<circle cx="389.56" cy="810.15" r="0.70" fill="#ee2222" stroke="none" stroke-width="1"/>
<circle cx="406.03" cy="799.17" r="0.70" fill="#ee2222" stroke="none" stroke-width="1"/>
<circle cx="413.10" cy="791.33" r="0.70" fill="#ee2222" stroke="none" stroke-width="1"/>
<circle cx="422.51" cy="783.48" r="0.70" fill="#ee2222" stroke="none" stroke-width="1"/>
<circle cx="431.93" cy="770.93" r="0.70" fill="#ee2222" stroke="none" stroke-width="1"/>
<circle cx="436.64" cy="756.81" r="0.70" fill="#ee2222" stroke="none" stroke-width="1"/>
<path d="M255.38 822.70 L326.00 822.70 L342.48 822.39 L356.60 821.13 L375.43 815.64 L384.85 813.29 L389.56 811.72 L406.03 803.88 L413.10 797.60 L422.51 786.62 L431.93 778.78 L436.64 770.93" fill="none" stroke="#ee2222" stroke-width="1.0" stroke-linejoin="round"/>
<circle cx="255.38" cy="822.70" r="0.70" fill="#ee2222" stroke="none" stroke-width="1"/>
<circle cx="326.00" cy="822.70" r="0.70" fill="#ee2222" stroke="none" stroke-width="1"/>
<circle cx="342.48" cy="822.39" r="0.70" fill="#ee2222" stroke="none" stroke-width="1"/>
<circle cx="356.60" cy="821.13" r="0.70" fill="#ee2222" stroke="none" stroke-width="1"/>
<circle cx="375.43" cy="815.64" r="0.70" fill="#ee2222" stroke="none" stroke-width="1"/>
<circle cx="384.85" cy="813.29" r="0.70" fill="#ee2222" stroke="none" stroke-width="1"/>
<circle cx="389.56" cy="811.72" r="0.70" fill="#ee2222" stroke="none" stroke-width="1"/>
<circle cx="406.03" cy="803.88" r="0.70" fill="#ee2222" stroke="none" stroke-width="1"/>
<circle cx="413.10" cy="797.60" r="0.70" fill="#ee2222" stroke="none" stroke-width="1"/>
<circle cx="422.51" cy="786.62" r="0.70" fill="#ee2222" stroke="none" stroke-width="1"/>
<circle cx="431.93" cy="778.78" r="0.70" fill="#ee2222" stroke="none" stroke-width="1"/>
<circle cx="436.64" cy="770.93" r="0.70" fill="#ee2222" stroke="none" stroke-width="1"/>
<path d="M255.38 822.70 L326.00 822.70 L342.48 822.07 L356.60 820.82 L375.43 814.07 L384.85 810.15 L389.56 807.80 L406.03 797.60 L413.10 792.89 L422.51 788.19 L431.93 781.91 L436.64 775.64" fill="none" stroke="#ee2222" stroke-width="1.0" stroke-linejoin="round"/>
<circle cx="255.38" cy="822.70" r="0.70" fill="#ee2222" stroke="none" stroke-width="1"/>
<circle cx="326.00" cy="822.70" r="0.70" fill="#ee2222" stroke="none" stroke-width="1"/>
<circle cx="342.48" cy="822.07" r="0.70" fill="#ee2222" stroke="none" stroke-width="1"/>
<circle cx="356.60" cy="820.82" r="0.70" fill="#ee2222" stroke="none" stroke-width="1"/>
<circle cx="375.43" cy="814.07" r="0.70" fill="#ee2222" stroke="none" stroke-width="1"/>
<circle cx="384.85" cy="810.15" r="0.70" fill="#ee2222" stroke="none" stroke-width="1"/>
<circle cx="389.56" cy="807.80" r="0.70" fill="#ee2222" stroke="none" stroke-width="1"/>
<circle cx="406.03" cy="797.60" r="0.70" fill="#ee2222" stroke="none" stroke-width="1"/>
<circle cx="413.10" cy="792.89" r="0.70" fill="#ee2222" stroke="none" stroke-width="1"/>
<circle cx="422.51" cy="788.19" r="0.70" fill="#ee2222" stroke="none" stroke-width="1"/>
<circle cx="431.93" cy="781.91" r="0.70" fill="#ee2222" stroke="none" stroke-width="1"/>
<circle cx="436.64" cy="775.64" r="0.70" fill="#ee2222" stroke="none" stroke-width="1"/>
<path d="M255.38 822.70 L326.00 822.70 L342.48 822.23 L356.60 821.13 L375.43 816.43 L384.85 814.07 L389.56 813.29 L406.03 807.01 L413.10 799.17 L422.51 792.89 L431.93 786.62 L436.64 789.76" fill="none" stroke="#ee2222" stroke-width="1.0" stroke-linejoin="round"/>
<circle cx="255.38" cy="822.70" r="0.70" fill="#ee2222" stroke="none" stroke-width="1"/>
<circle cx="326.00" cy="822.70" r="0.70" fill="#ee2222" stroke="none" stroke-width="1"/>
<circle cx="342.48" cy="822.23" r="0.70" fill="#ee2222" stroke="none" stroke-width="1"/>
<circle cx="356.60" cy="821.13" r="0.70" fill="#ee2222" stroke="none" stroke-width="1"/>
<circle cx="375.43" cy="816.43" r="0.70" fill="#ee2222" stroke="none" stroke-width="1"/>
<circle cx="384.85" cy="814.07" r="0.70" fill="#ee2222" stroke="none" stroke-width="1"/>
<circle cx="389.56" cy="813.29" r="0.70" fill="#ee2222" stroke="none" stroke-width="1"/>
<circle cx="406.03" cy="807.01" r="0.70" fill="#ee2222" stroke="none" stroke-width="1"/>
<circle cx="413.10" cy="799.17" r="0.70" fill="#ee2222" stroke="none" stroke-width="1"/>
<circle cx="422.51" cy="792.89" r="0.70" fill="#ee2222" stroke="none" stroke-width="1"/>
<circle cx="431.93" cy="786.62" r="0.70" fill="#ee2222" stroke="none" stroke-width="1"/>
<circle cx="436.64" cy="789.76" r="0.70" fill="#ee2222" stroke="none" stroke-width="1"/>
<path d="M255.38 822.70 L326.00 822.70 L342.48 822.39 L356.60 821.45 L375.43 817.21 L384.85 814.86 L389.56 814.07 L406.03 808.58 L413.10 802.31 L422.51 794.46 L431.93 789.76 L436.64 791.33" fill="none" stroke="#ee2222" stroke-width="1.0" stroke-linejoin="round"/>
<circle cx="255.38" cy="822.70" r="0.70" fill="#ee2222" stroke="none" stroke-width="1"/>
<circle cx="326.00" cy="822.70" r="0.70" fill="#ee2222" stroke="none" stroke-width="1"/>
<circle cx="342.48" cy="822.39" r="0.70" fill="#ee2222" stroke="none" stroke-width="1"/>
<circle cx="356.60" cy="821.45" r="0.70" fill="#ee2222" stroke="none" stroke-width="1"/>
<circle cx="375.43" cy="817.21" r="0.70" fill="#ee2222" stroke="none" stroke-width="1"/>
<circle cx="384.85" cy="814.86" r="0.70" fill="#ee2222" stroke="none" stroke-width="1"/>
<circle cx="389.56" cy="814.07" r="0.70" fill="#ee2222" stroke="none" stroke-width="1"/>
<circle cx="406.03" cy="808.58" r="0.70" fill="#ee2222" stroke="none" stroke-width="1"/>
<circle cx="413.10" cy="802.31" r="0.70" fill="#ee2222" stroke="none" stroke-width="1"/>
<circle cx="422.51" cy="794.46" r="0.70" fill="#ee2222" stroke="none" stroke-width="1"/>
<circle cx="431.93" cy="789.76" r="0.70" fill="#ee2222" stroke="none" stroke-width="1"/>
<circle cx="436.64" cy="791.33" r="0.70" fill="#ee2222" stroke="none" stroke-width="1"/>
<path d="M255.38 822.70 L326.00 822.70 L342.48 821.76 L356.60 819.88 L375.43 812.50 L384.85 807.01 L389.56 805.44 L406.03 792.89 L413.10 778.78 L422.51 775.64 L431.93 774.07 L436.64 753.68" fill="none" stroke="#ee2222" stroke-width="1.0" stroke-linejoin="round"/>
<circle cx="255.38" cy="822.70" r="0.70" fill="#ee2222" stroke="none" stroke-width="1"/>
<circle cx="326.00" cy="822.70" r="0.70" fill="#ee2222" stroke="none" stroke-width="1"/>
<circle cx="342.48" cy="821.76" r="0.70" fill="#ee2222" stroke="none" stroke-width="1"/>
<circle cx="356.60" cy="819.88" r="0.70" fill="#ee2222" stroke="none" stroke-width="1"/>
<circle cx="375.43" cy="812.50" r="0.70" fill="#ee2222" stroke="none" stroke-width="1"/>
<circle cx="384.85" cy="807.01" r="0.70" fill="#ee2222" stroke="none" stroke-width="1"/>
<circle cx="389.56" cy="805.44" r="0.70" fill="#ee2222" stroke="none" stroke-width="1"/>
<circle cx="406.03" cy="792.89" r="0.70" fill="#ee2222" stroke="none" stroke-width="1"/>
<circle cx="413.10" cy="778.78" r="0.70" fill="#ee2222" stroke="none" stroke-width="1"/>
<circle cx="422.51" cy="775.64" r="0.70" fill="#ee2222" stroke="none" stroke-width="1"/>
<circle cx="431.93" cy="774.07" r="0.70" fill="#ee2222" stroke="none" stroke-width="1"/>
<circle cx="436.64" cy="753.68" r="0.70" fill="#ee2222" stroke="none" stroke-width="1"/>
<path d="M253.02 822.70 L269.50 817.99 L281.27 808.58 L290.69 803.88 L295.40 799.17 L304.81 791.33 L321.29 781.91 L326.00 759.95" fill="none" stroke="#3ddc2a" stroke-width="0.9" stroke-dasharray="1.5,0.8" stroke-linejoin="round"/>
<circle cx="253.02" cy="822.70" r="0.70" fill="#3ddc2a" stroke="none" stroke-width="1"/>
<circle cx="269.50" cy="817.99" r="0.70" fill="#3ddc2a" stroke="none" stroke-width="1"/>
<circle cx="281.27" cy="808.58" r="0.70" fill="#3ddc2a" stroke="none" stroke-width="1"/>
<circle cx="290.69" cy="803.88" r="0.70" fill="#3ddc2a" stroke="none" stroke-width="1"/>
<circle cx="295.40" cy="799.17" r="0.70" fill="#3ddc2a" stroke="none" stroke-width="1"/>
<circle cx="304.81" cy="791.33" r="0.70" fill="#3ddc2a" stroke="none" stroke-width="1"/>
<circle cx="321.29" cy="781.91" r="0.70" fill="#3ddc2a" stroke="none" stroke-width="1"/>
<circle cx="326.00" cy="759.95" r="0.70" fill="#3ddc2a" stroke="none" stroke-width="1"/>
<path d="M253.02 822.70 L269.50 819.56 L281.27 811.72 L290.69 807.01 L295.40 803.88 L304.81 796.03 L321.29 785.05 L326.00 767.79" fill="none" stroke="#3ddc2a" stroke-width="0.9" stroke-dasharray="1.5,0.8" stroke-linejoin="round"/>
<circle cx="253.02" cy="822.70" r="0.70" fill="#3ddc2a" stroke="none" stroke-width="1"/>
<circle cx="269.50" cy="819.56" r="0.70" fill="#3ddc2a" stroke="none" stroke-width="1"/>
<circle cx="281.27" cy="811.72" r="0.70" fill="#3ddc2a" stroke="none" stroke-width="1"/>
<circle cx="290.69" cy="807.01" r="0.70" fill="#3ddc2a" stroke="none" stroke-width="1"/>
<circle cx="295.40" cy="803.88" r="0.70" fill="#3ddc2a" stroke="none" stroke-width="1"/>
<circle cx="304.81" cy="796.03" r="0.70" fill="#3ddc2a" stroke="none" stroke-width="1"/>
<circle cx="321.29" cy="785.05" r="0.70" fill="#3ddc2a" stroke="none" stroke-width="1"/>
<circle cx="326.00" cy="767.79" r="0.70" fill="#3ddc2a" stroke="none" stroke-width="1"/>
<path d="M253.02 822.70 L269.50 818.78 L281.27 813.29 L290.69 808.58 L295.40 805.44 L304.81 797.60 L321.29 786.62 L326.00 775.64" fill="none" stroke="#3ddc2a" stroke-width="0.9" stroke-dasharray="1.5,0.8" stroke-linejoin="round"/>
<circle cx="253.02" cy="822.70" r="0.70" fill="#3ddc2a" stroke="none" stroke-width="1"/>
<circle cx="269.50" cy="818.78" r="0.70" fill="#3ddc2a" stroke="none" stroke-width="1"/>
<circle cx="281.27" cy="813.29" r="0.70" fill="#3ddc2a" stroke="none" stroke-width="1"/>
<circle cx="290.69" cy="808.58" r="0.70" fill="#3ddc2a" stroke="none" stroke-width="1"/>
<circle cx="295.40" cy="805.44" r="0.70" fill="#3ddc2a" stroke="none" stroke-width="1"/>
<circle cx="304.81" cy="797.60" r="0.70" fill="#3ddc2a" stroke="none" stroke-width="1"/>
<circle cx="321.29" cy="786.62" r="0.70" fill="#3ddc2a" stroke="none" stroke-width="1"/>
<circle cx="326.00" cy="775.64" r="0.70" fill="#3ddc2a" stroke="none" stroke-width="1"/>
<path d="M253.02 822.70 L269.50 820.35 L281.27 815.64 L290.69 811.72 L295.40 808.58 L304.81 800.74 L321.29 789.76 L326.00 781.91" fill="none" stroke="#3ddc2a" stroke-width="0.9" stroke-dasharray="1.5,0.8" stroke-linejoin="round"/>
<circle cx="253.02" cy="822.70" r="0.70" fill="#3ddc2a" stroke="none" stroke-width="1"/>
<circle cx="269.50" cy="820.35" r="0.70" fill="#3ddc2a" stroke="none" stroke-width="1"/>
<circle cx="281.27" cy="815.64" r="0.70" fill="#3ddc2a" stroke="none" stroke-width="1"/>
<circle cx="290.69" cy="811.72" r="0.70" fill="#3ddc2a" stroke="none" stroke-width="1"/>
<circle cx="295.40" cy="808.58" r="0.70" fill="#3ddc2a" stroke="none" stroke-width="1"/>
<circle cx="304.81" cy="800.74" r="0.70" fill="#3ddc2a" stroke="none" stroke-width="1"/>
<circle cx="321.29" cy="789.76" r="0.70" fill="#3ddc2a" stroke="none" stroke-width="1"/>
<circle cx="326.00" cy="781.91" r="0.70" fill="#3ddc2a" stroke="none" stroke-width="1"/>
<path d="M253.02 822.70 L269.50 821.13 L281.27 817.21 L290.69 814.86 L295.40 811.72 L304.81 803.88 L321.29 791.33 L326.00 783.48" fill="none" stroke="#3ddc2a" stroke-width="0.9" stroke-dasharray="1.5,0.8" stroke-linejoin="round"/>
<circle cx="253.02" cy="822.70" r="0.70" fill="#3ddc2a" stroke="none" stroke-width="1"/>
<circle cx="269.50" cy="821.13" r="0.70" fill="#3ddc2a" stroke="none" stroke-width="1"/>
<circle cx="281.27" cy="817.21" r="0.70" fill="#3ddc2a" stroke="none" stroke-width="1"/>
<circle cx="290.69" cy="814.86" r="0.70" fill="#3ddc2a" stroke="none" stroke-width="1"/>
<circle cx="295.40" cy="811.72" r="0.70" fill="#3ddc2a" stroke="none" stroke-width="1"/>
<circle cx="304.81" cy="803.88" r="0.70" fill="#3ddc2a" stroke="none" stroke-width="1"/>
<circle cx="321.29" cy="791.33" r="0.70" fill="#3ddc2a" stroke="none" stroke-width="1"/>
<circle cx="326.00" cy="783.48" r="0.70" fill="#3ddc2a" stroke="none" stroke-width="1"/>
<path d="M253.02 822.70 L269.50 819.56 L281.27 814.86 L290.69 810.15 L295.40 807.01 L304.81 799.17 L321.29 778.78 L326.00 770.93" fill="none" stroke="#3ddc2a" stroke-width="0.9" stroke-dasharray="1.5,0.8" stroke-linejoin="round"/>
<circle cx="253.02" cy="822.70" r="0.70" fill="#3ddc2a" stroke="none" stroke-width="1"/>
<circle cx="269.50" cy="819.56" r="0.70" fill="#3ddc2a" stroke="none" stroke-width="1"/>
<circle cx="281.27" cy="814.86" r="0.70" fill="#3ddc2a" stroke="none" stroke-width="1"/>
<circle cx="290.69" cy="810.15" r="0.70" fill="#3ddc2a" stroke="none" stroke-width="1"/>
<circle cx="295.40" cy="807.01" r="0.70" fill="#3ddc2a" stroke="none" stroke-width="1"/>
<circle cx="304.81" cy="799.17" r="0.70" fill="#3ddc2a" stroke="none" stroke-width="1"/>
<circle cx="321.29" cy="778.78" r="0.70" fill="#3ddc2a" stroke="none" stroke-width="1"/>
<circle cx="326.00" cy="770.93" r="0.70" fill="#3ddc2a" stroke="none" stroke-width="1"/>
<path d="M253.02 822.70 L269.50 816.43 L281.27 803.88 L290.69 797.60 L295.40 792.89 L304.81 769.36 L321.29 737.99 L326.00 701.91" fill="none" stroke="#111" stroke-width="0.85" stroke-linejoin="round"/>
<circle cx="253.02" cy="822.70" r="0.70" fill="#111" stroke="none" stroke-width="1"/>
<circle cx="269.50" cy="816.43" r="0.70" fill="#111" stroke="none" stroke-width="1"/>
<circle cx="281.27" cy="803.88" r="0.70" fill="#111" stroke="none" stroke-width="1"/>
<circle cx="290.69" cy="797.60" r="0.70" fill="#111" stroke="none" stroke-width="1"/>
<circle cx="295.40" cy="792.89" r="0.70" fill="#111" stroke="none" stroke-width="1"/>
<circle cx="304.81" cy="769.36" r="0.70" fill="#111" stroke="none" stroke-width="1"/>
<circle cx="321.29" cy="737.99" r="0.70" fill="#111" stroke="none" stroke-width="1"/>
<circle cx="326.00" cy="701.91" r="0.70" fill="#111" stroke="none" stroke-width="1"/>
<path d="M253.02 822.70 L269.50 817.99 L281.27 807.01 L290.69 802.31 L295.40 799.17 L304.81 772.50 L321.29 741.12 L326.00 734.85" fill="none" stroke="#111" stroke-width="0.85" stroke-linejoin="round"/>
<circle cx="253.02" cy="822.70" r="0.70" fill="#111" stroke="none" stroke-width="1"/>
<circle cx="269.50" cy="817.99" r="0.70" fill="#111" stroke="none" stroke-width="1"/>
<circle cx="281.27" cy="807.01" r="0.70" fill="#111" stroke="none" stroke-width="1"/>
<circle cx="290.69" cy="802.31" r="0.70" fill="#111" stroke="none" stroke-width="1"/>
<circle cx="295.40" cy="799.17" r="0.70" fill="#111" stroke="none" stroke-width="1"/>
<circle cx="304.81" cy="772.50" r="0.70" fill="#111" stroke="none" stroke-width="1"/>
<circle cx="321.29" cy="741.12" r="0.70" fill="#111" stroke="none" stroke-width="1"/>
<circle cx="326.00" cy="734.85" r="0.70" fill="#111" stroke="none" stroke-width="1"/>
<path d="M253.02 822.70 L269.50 818.78 L281.27 810.15 L290.69 805.44 L295.40 802.31 L304.81 780.34 L321.29 747.40 L326.00 736.42" fill="none" stroke="#111" stroke-width="0.85" stroke-linejoin="round"/>
<circle cx="253.02" cy="822.70" r="0.70" fill="#111" stroke="none" stroke-width="1"/>
<circle cx="269.50" cy="818.78" r="0.70" fill="#111" stroke="none" stroke-width="1"/>
<circle cx="281.27" cy="810.15" r="0.70" fill="#111" stroke="none" stroke-width="1"/>
<circle cx="290.69" cy="805.44" r="0.70" fill="#111" stroke="none" stroke-width="1"/>
<circle cx="295.40" cy="802.31" r="0.70" fill="#111" stroke="none" stroke-width="1"/>
<circle cx="304.81" cy="780.34" r="0.70" fill="#111" stroke="none" stroke-width="1"/>
<circle cx="321.29" cy="747.40" r="0.70" fill="#111" stroke="none" stroke-width="1"/>
<circle cx="326.00" cy="736.42" r="0.70" fill="#111" stroke="none" stroke-width="1"/>
<path d="M253.02 822.70 L269.50 819.56 L281.27 813.29 L290.69 808.58 L295.40 803.88 L304.81 785.05 L321.29 756.81 L326.00 750.54" fill="none" stroke="#111" stroke-width="0.85" stroke-linejoin="round"/>
<circle cx="253.02" cy="822.70" r="0.70" fill="#111" stroke="none" stroke-width="1"/>
<circle cx="269.50" cy="819.56" r="0.70" fill="#111" stroke="none" stroke-width="1"/>
<circle cx="281.27" cy="813.29" r="0.70" fill="#111" stroke="none" stroke-width="1"/>
<circle cx="290.69" cy="808.58" r="0.70" fill="#111" stroke="none" stroke-width="1"/>
<circle cx="295.40" cy="803.88" r="0.70" fill="#111" stroke="none" stroke-width="1"/>
<circle cx="304.81" cy="785.05" r="0.70" fill="#111" stroke="none" stroke-width="1"/>
<circle cx="321.29" cy="756.81" r="0.70" fill="#111" stroke="none" stroke-width="1"/>
<circle cx="326.00" cy="750.54" r="0.70" fill="#111" stroke="none" stroke-width="1"/>
<path d="M253.02 822.70 L269.50 820.35 L281.27 814.86 L290.69 810.15 L295.40 807.01 L304.81 791.33 L321.29 770.93 L326.00 752.11" fill="none" stroke="#111" stroke-width="0.85" stroke-linejoin="round"/>
<circle cx="253.02" cy="822.70" r="0.70" fill="#111" stroke="none" stroke-width="1"/>
<circle cx="269.50" cy="820.35" r="0.70" fill="#111" stroke="none" stroke-width="1"/>
<circle cx="281.27" cy="814.86" r="0.70" fill="#111" stroke="none" stroke-width="1"/>
<circle cx="290.69" cy="810.15" r="0.70" fill="#111" stroke="none" stroke-width="1"/>
<circle cx="295.40" cy="807.01" r="0.70" fill="#111" stroke="none" stroke-width="1"/>
<circle cx="304.81" cy="791.33" r="0.70" fill="#111" stroke="none" stroke-width="1"/>
<circle cx="321.29" cy="770.93" r="0.70" fill="#111" stroke="none" stroke-width="1"/>
<circle cx="326.00" cy="752.11" r="0.70" fill="#111" stroke="none" stroke-width="1"/>
<path d="M253.02 822.70 L269.50 819.56 L281.27 816.43 L290.69 813.29 L295.40 808.58 L304.81 794.46 L321.29 775.64 L326.00 774.07" fill="none" stroke="#111" stroke-width="0.85" stroke-linejoin="round"/>
<circle cx="253.02" cy="822.70" r="0.70" fill="#111" stroke="none" stroke-width="1"/>
<circle cx="269.50" cy="819.56" r="0.70" fill="#111" stroke="none" stroke-width="1"/>
<circle cx="281.27" cy="816.43" r="0.70" fill="#111" stroke="none" stroke-width="1"/>
<circle cx="290.69" cy="813.29" r="0.70" fill="#111" stroke="none" stroke-width="1"/>
<circle cx="295.40" cy="808.58" r="0.70" fill="#111" stroke="none" stroke-width="1"/>
<circle cx="304.81" cy="794.46" r="0.70" fill="#111" stroke="none" stroke-width="1"/>
<circle cx="321.29" cy="775.64" r="0.70" fill="#111" stroke="none" stroke-width="1"/>
<circle cx="326.00" cy="774.07" r="0.70" fill="#111" stroke="none" stroke-width="1"/>
<path d="M253.02 822.70 L269.50 821.13 L281.27 817.99 L290.69 814.86 L295.40 811.72 L304.81 799.17 L321.29 778.78 L326.00 763.09" fill="none" stroke="#111" stroke-width="0.85" stroke-linejoin="round"/>
<circle cx="253.02" cy="822.70" r="0.70" fill="#111" stroke="none" stroke-width="1"/>
<circle cx="269.50" cy="821.13" r="0.70" fill="#111" stroke="none" stroke-width="1"/>
<circle cx="281.27" cy="817.99" r="0.70" fill="#111" stroke="none" stroke-width="1"/>
<circle cx="290.69" cy="814.86" r="0.70" fill="#111" stroke="none" stroke-width="1"/>
<circle cx="295.40" cy="811.72" r="0.70" fill="#111" stroke="none" stroke-width="1"/>
<circle cx="304.81" cy="799.17" r="0.70" fill="#111" stroke="none" stroke-width="1"/>
<circle cx="321.29" cy="778.78" r="0.70" fill="#111" stroke="none" stroke-width="1"/>
<circle cx="326.00" cy="763.09" r="0.70" fill="#111" stroke="none" stroke-width="1"/>
<path d="M253.02 822.70 L269.50 817.99 L281.27 808.58 L290.69 800.74 L295.40 796.03 L304.81 775.64 L321.29 744.26 L326.00 725.44" fill="none" stroke="#111" stroke-width="0.85" stroke-linejoin="round"/>
<circle cx="253.02" cy="822.70" r="0.70" fill="#111" stroke="none" stroke-width="1"/>
<circle cx="269.50" cy="817.99" r="0.70" fill="#111" stroke="none" stroke-width="1"/>
<circle cx="281.27" cy="808.58" r="0.70" fill="#111" stroke="none" stroke-width="1"/>
<circle cx="290.69" cy="800.74" r="0.70" fill="#111" stroke="none" stroke-width="1"/>
<circle cx="295.40" cy="796.03" r="0.70" fill="#111" stroke="none" stroke-width="1"/>
<circle cx="304.81" cy="775.64" r="0.70" fill="#111" stroke="none" stroke-width="1"/>
<circle cx="321.29" cy="744.26" r="0.70" fill="#111" stroke="none" stroke-width="1"/>
<circle cx="326.00" cy="725.44" r="0.70" fill="#111" stroke="none" stroke-width="1"/>
<line x1="238.90" y1="696.60" x2="238.90" y2="823.30" stroke="#000" stroke-width="1.3"/>
<line x1="233.90" y1="822.70" x2="238.90" y2="822.70" stroke="#000" stroke-width="1.3"/>
<text x="232.30" y="826.62" font-size="10.9" font-weight="bold" font-style="normal" text-anchor="end" fill="#000">0</text>
<line x1="233.90" y1="791.33" x2="238.90" y2="791.33" stroke="#000" stroke-width="1.3"/>
<text x="232.30" y="795.25" font-size="10.9" font-weight="bold" font-style="normal" text-anchor="end" fill="#000">200</text>
<line x1="233.90" y1="759.95" x2="238.90" y2="759.95" stroke="#000" stroke-width="1.3"/>
<text x="232.30" y="763.87" font-size="10.9" font-weight="bold" font-style="normal" text-anchor="end" fill="#000">400</text>
<line x1="233.90" y1="728.58" x2="238.90" y2="728.58" stroke="#000" stroke-width="1.3"/>
<text x="232.30" y="732.50" font-size="10.9" font-weight="bold" font-style="normal" text-anchor="end" fill="#000">600</text>
<line x1="233.90" y1="697.20" x2="238.90" y2="697.20" stroke="#000" stroke-width="1.3"/>
<text x="232.30" y="701.12" font-size="10.9" font-weight="bold" font-style="normal" text-anchor="end" fill="#000">800</text>
<line x1="238.30" y1="822.70" x2="450.90" y2="822.70" stroke="#000" stroke-width="1.3"/>
<line x1="238.90" y1="822.70" x2="238.90" y2="827.70" stroke="#000" stroke-width="1.3"/>
<line x1="285.98" y1="822.70" x2="285.98" y2="827.70" stroke="#000" stroke-width="1.3"/>
<line x1="333.06" y1="822.70" x2="333.06" y2="827.70" stroke="#000" stroke-width="1.3"/>
<line x1="380.14" y1="822.70" x2="380.14" y2="827.70" stroke="#000" stroke-width="1.3"/>
<line x1="427.22" y1="822.70" x2="427.22" y2="827.70" stroke="#000" stroke-width="1.3"/>
<text x="238.90" y="839.40" font-size="10.6" font-weight="bold" font-style="normal" text-anchor="middle" fill="#000">0</text>
<text x="285.98" y="839.40" font-size="10.6" font-weight="bold" font-style="normal" text-anchor="middle" fill="#000">20</text>
<text x="333.06" y="839.40" font-size="10.6" font-weight="bold" font-style="normal" text-anchor="middle" fill="#000">40</text>
<text x="380.14" y="839.40" font-size="10.6" font-weight="bold" font-style="normal" text-anchor="middle" fill="#000">60</text>
<text x="427.22" y="839.40" font-size="10.6" font-weight="bold" font-style="normal" text-anchor="middle" fill="#000">80</text>
<text x="208.80" y="758.00" font-size="10.2" font-weight="bold" font-style="normal" text-anchor="middle" fill="#000" transform="rotate(-90 208.8 758.0)">Tumor volume (mm<tspan font-size="7" dy="-4">3</tspan><tspan dy="4">)</tspan></text>
<text x="468.60" y="669.30" font-size="16" font-weight="bold" font-style="normal" text-anchor="start" fill="#000">j</text>
<circle cx="476.80" cy="674.30" r="2.00" fill="#fff" stroke="#000" stroke-width="1.1"/>
<text x="490.2" y="677.5" font-size="9.6"><tspan font-weight="normal" font-style="italic">CDK4</tspan>-WT / Veh</text>
<rect x="582.20" y="672.20" width="4.00" height="4.00" fill="#fff" stroke="#f2211b" stroke-width="1.1"/>
<text x="597.3" y="677.5" font-size="9.6"><tspan font-weight="normal" font-style="italic">CDK4</tspan>-KO / Veh</text>
<circle cx="476.80" cy="687.20" r="2.00" fill="#fff" stroke="#3ddc2a" stroke-width="1.1"/>
<text x="490.2" y="690.6" font-size="9.6"><tspan font-weight="normal" font-style="italic">CDK4</tspan>-WT / Cisplatin</text>
<rect x="582.20" y="685.20" width="4.00" height="4.00" fill="#fff" stroke="#6ea8f2" stroke-width="1.1"/>
<text x="597.3" y="690.6" font-size="9.6"><tspan font-weight="normal" font-style="italic">CDK4</tspan>-KO / Cisplatin</text>
<line x1="535.40" y1="700.80" x2="535.40" y2="813.20" stroke="#000" stroke-width="1.3"/>
<line x1="531.10" y1="812.60" x2="535.40" y2="812.60" stroke="#000" stroke-width="1.3"/>
<text x="529.40" y="816.15" font-size="9.85" font-weight="bold" font-style="normal" text-anchor="end" fill="#000">0</text>
<line x1="531.10" y1="790.36" x2="535.40" y2="790.36" stroke="#000" stroke-width="1.3"/>
<text x="529.40" y="793.91" font-size="9.85" font-weight="bold" font-style="normal" text-anchor="end" fill="#000">200</text>
<line x1="531.10" y1="768.12" x2="535.40" y2="768.12" stroke="#000" stroke-width="1.3"/>
<text x="529.40" y="771.67" font-size="9.85" font-weight="bold" font-style="normal" text-anchor="end" fill="#000">400</text>
<line x1="531.10" y1="745.88" x2="535.40" y2="745.88" stroke="#000" stroke-width="1.3"/>
<text x="529.40" y="749.43" font-size="9.85" font-weight="bold" font-style="normal" text-anchor="end" fill="#000">600</text>
<line x1="531.10" y1="723.64" x2="535.40" y2="723.64" stroke="#000" stroke-width="1.3"/>
<text x="529.40" y="727.19" font-size="9.85" font-weight="bold" font-style="normal" text-anchor="end" fill="#000">800</text>
<line x1="531.10" y1="701.40" x2="535.40" y2="701.40" stroke="#000" stroke-width="1.3"/>
<text x="529.40" y="704.95" font-size="9.85" font-weight="bold" font-style="normal" text-anchor="end" fill="#000">1000</text>
<line x1="534.80" y1="812.60" x2="640.30" y2="812.60" stroke="#000" stroke-width="1.3"/>
<line x1="560.60" y1="812.60" x2="560.60" y2="817.60" stroke="#000" stroke-width="1.3"/>
<line x1="614.50" y1="812.60" x2="614.50" y2="817.60" stroke="#000" stroke-width="1.3"/>
<text x="560.60" y="828.00" font-size="10.8" font-weight="bold" font-style="normal" text-anchor="middle" fill="#000">D0</text>
<text x="614.50" y="828.00" font-size="10.8" font-weight="bold" font-style="normal" text-anchor="middle" fill="#000">D14</text>
<text x="587.60" y="843.60" font-size="10.2" font-weight="bold" font-style="normal" text-anchor="middle" fill="#000">Days</text>
<text x="502.60" y="755.00" font-size="10.2" font-weight="bold" font-style="normal" text-anchor="middle" fill="#000" transform="rotate(-90 502.6 755.0)">Tumor volume (mm<tspan font-size="7" dy="-4">3</tspan><tspan dy="4">)</tspan></text>
<circle cx="544.41" cy="790.36" r="2.00" fill="#fff" stroke="#000" stroke-width="1.1"/>
<circle cx="545.01" cy="792.58" r="2.00" fill="#fff" stroke="#000" stroke-width="1.1"/>
<circle cx="545.28" cy="794.81" r="2.00" fill="#fff" stroke="#000" stroke-width="1.1"/>
<circle cx="546.01" cy="797.03" r="2.00" fill="#fff" stroke="#000" stroke-width="1.1"/>
<circle cx="545.00" cy="798.14" r="2.00" fill="#fff" stroke="#000" stroke-width="1.1"/>
<circle cx="545.91" cy="800.37" r="2.00" fill="#fff" stroke="#000" stroke-width="1.1"/>
<circle cx="541.45" cy="802.59" r="2.00" fill="#fff" stroke="#000" stroke-width="1.1"/>
<circle cx="543.63" cy="805.93" r="2.00" fill="#fff" stroke="#000" stroke-width="1.1"/>
<line x1="539.30" y1="797.73" x2="548.30" y2="797.73" stroke="#000" stroke-width="1.3"/>
<line x1="543.80" y1="799.56" x2="543.80" y2="795.90" stroke="#000" stroke-width="0.9"/>
<line x1="541.80" y1="795.90" x2="545.80" y2="795.90" stroke="#000" stroke-width="0.9"/>
<line x1="541.80" y1="799.56" x2="545.80" y2="799.56" stroke="#000" stroke-width="0.9"/>
<circle cx="556.52" cy="795.92" r="2.00" fill="#fff" stroke="#3ddc2a" stroke-width="1.1"/>
<circle cx="555.04" cy="798.14" r="2.00" fill="#fff" stroke="#3ddc2a" stroke-width="1.1"/>
<circle cx="556.30" cy="799.26" r="2.00" fill="#fff" stroke="#3ddc2a" stroke-width="1.1"/>
<circle cx="552.37" cy="800.37" r="2.00" fill="#fff" stroke="#3ddc2a" stroke-width="1.1"/>
<circle cx="554.15" cy="801.48" r="2.00" fill="#fff" stroke="#3ddc2a" stroke-width="1.1"/>
<circle cx="553.03" cy="802.59" r="2.00" fill="#fff" stroke="#3ddc2a" stroke-width="1.1"/>
<circle cx="554.52" cy="803.70" r="2.00" fill="#fff" stroke="#3ddc2a" stroke-width="1.1"/>
<line x1="549.80" y1="800.21" x2="558.80" y2="800.21" stroke="#3ddc2a" stroke-width="1.3"/>
<line x1="554.30" y1="801.22" x2="554.30" y2="799.20" stroke="#3ddc2a" stroke-width="0.9"/>
<line x1="552.30" y1="799.20" x2="556.30" y2="799.20" stroke="#3ddc2a" stroke-width="0.9"/>
<line x1="552.30" y1="801.22" x2="556.30" y2="801.22" stroke="#3ddc2a" stroke-width="0.9"/>
<rect x="565.17" y="789.47" width="4.00" height="4.00" fill="#f2211b" stroke="#f2211b" stroke-width="1.1"/>
<rect x="562.37" y="791.70" width="4.00" height="4.00" fill="#fff" stroke="#f2211b" stroke-width="1.1"/>
<rect x="563.38" y="793.92" width="4.00" height="4.00" fill="#fff" stroke="#f2211b" stroke-width="1.1"/>
<rect x="563.70" y="797.26" width="4.00" height="4.00" fill="#fff" stroke="#f2211b" stroke-width="1.1"/>
<rect x="566.88" y="799.48" width="4.00" height="4.00" fill="#fff" stroke="#f2211b" stroke-width="1.1"/>
<rect x="566.13" y="800.59" width="4.00" height="4.00" fill="#fff" stroke="#f2211b" stroke-width="1.1"/>
<rect x="563.10" y="801.70" width="4.00" height="4.00" fill="#fff" stroke="#f2211b" stroke-width="1.1"/>
<line x1="562.30" y1="798.30" x2="571.30" y2="798.30" stroke="#f2211b" stroke-width="1.3"/>
<line x1="566.80" y1="800.08" x2="566.80" y2="796.53" stroke="#f2211b" stroke-width="0.9"/>
<line x1="564.80" y1="796.53" x2="568.80" y2="796.53" stroke="#f2211b" stroke-width="0.9"/>
<line x1="564.80" y1="800.08" x2="568.80" y2="800.08" stroke="#f2211b" stroke-width="0.9"/>
<rect x="577.09" y="792.81" width="4.00" height="4.00" fill="#6ea8f2" stroke="#6ea8f2" stroke-width="1.1"/>
<rect x="573.79" y="795.03" width="4.00" height="4.00" fill="#fff" stroke="#6ea8f2" stroke-width="1.1"/>
<rect x="576.19" y="798.37" width="4.00" height="4.00" fill="#fff" stroke="#6ea8f2" stroke-width="1.1"/>
<rect x="573.73" y="799.48" width="4.00" height="4.00" fill="#fff" stroke="#6ea8f2" stroke-width="1.1"/>
<rect x="573.11" y="800.59" width="4.00" height="4.00" fill="#fff" stroke="#6ea8f2" stroke-width="1.1"/>
<rect x="577.46" y="801.70" width="4.00" height="4.00" fill="#fff" stroke="#6ea8f2" stroke-width="1.1"/>
<rect x="574.15" y="802.82" width="4.00" height="4.00" fill="#fff" stroke="#6ea8f2" stroke-width="1.1"/>
<line x1="573.10" y1="800.69" x2="582.10" y2="800.69" stroke="#6ea8f2" stroke-width="1.3"/>
<line x1="577.60" y1="802.05" x2="577.60" y2="799.32" stroke="#6ea8f2" stroke-width="0.9"/>
<line x1="575.60" y1="799.32" x2="579.60" y2="799.32" stroke="#6ea8f2" stroke-width="0.9"/>
<line x1="575.60" y1="802.05" x2="579.60" y2="802.05" stroke="#6ea8f2" stroke-width="0.9"/>
<circle cx="594.88" cy="726.98" r="2.00" fill="#000" stroke="#000" stroke-width="1.1"/>
<circle cx="598.71" cy="736.98" r="2.00" fill="#fff" stroke="#000" stroke-width="1.1"/>
<circle cx="598.16" cy="748.10" r="2.00" fill="#fff" stroke="#000" stroke-width="1.1"/>
<circle cx="595.25" cy="752.55" r="2.00" fill="#fff" stroke="#000" stroke-width="1.1"/>
<circle cx="598.61" cy="754.78" r="2.00" fill="#fff" stroke="#000" stroke-width="1.1"/>
<circle cx="596.50" cy="759.22" r="2.00" fill="#fff" stroke="#000" stroke-width="1.1"/>
<circle cx="597.19" cy="764.78" r="2.00" fill="#fff" stroke="#000" stroke-width="1.1"/>
<circle cx="594.82" cy="778.13" r="2.00" fill="#fff" stroke="#000" stroke-width="1.1"/>
<line x1="591.80" y1="752.69" x2="600.80" y2="752.69" stroke="#000" stroke-width="1.3"/>
<line x1="596.30" y1="758.31" x2="596.30" y2="747.07" stroke="#000" stroke-width="0.9"/>
<line x1="594.30" y1="747.07" x2="598.30" y2="747.07" stroke="#000" stroke-width="0.9"/>
<line x1="594.30" y1="758.31" x2="598.30" y2="758.31" stroke="#000" stroke-width="0.9"/>
<circle cx="610.00" cy="768.12" r="2.00" fill="#fff" stroke="#3ddc2a" stroke-width="1.1"/>
<circle cx="608.75" cy="770.34" r="2.00" fill="#fff" stroke="#3ddc2a" stroke-width="1.1"/>
<circle cx="610.13" cy="772.57" r="2.00" fill="#fff" stroke="#3ddc2a" stroke-width="1.1"/>
<circle cx="609.77" cy="774.79" r="2.00" fill="#fff" stroke="#3ddc2a" stroke-width="1.1"/>
<circle cx="606.79" cy="775.90" r="2.00" fill="#fff" stroke="#3ddc2a" stroke-width="1.1"/>
<circle cx="607.11" cy="777.02" r="2.00" fill="#fff" stroke="#3ddc2a" stroke-width="1.1"/>
<circle cx="606.13" cy="790.36" r="2.00" fill="#3ddc2a" stroke="#3ddc2a" stroke-width="1.1"/>
<line x1="603.30" y1="775.59" x2="612.30" y2="775.59" stroke="#3ddc2a" stroke-width="1.3"/>
<line x1="607.80" y1="778.32" x2="607.80" y2="772.85" stroke="#3ddc2a" stroke-width="0.9"/>
<line x1="605.80" y1="772.85" x2="609.80" y2="772.85" stroke="#3ddc2a" stroke-width="0.9"/>
<line x1="605.80" y1="778.32" x2="609.80" y2="778.32" stroke="#3ddc2a" stroke-width="0.9"/>
<rect x="617.23" y="738.32" width="4.00" height="4.00" fill="#f2211b" stroke="#f2211b" stroke-width="1.1"/>
<rect x="616.83" y="761.67" width="4.00" height="4.00" fill="#fff" stroke="#f2211b" stroke-width="1.1"/>
<rect x="618.01" y="765.01" width="4.00" height="4.00" fill="#fff" stroke="#f2211b" stroke-width="1.1"/>
<rect x="619.52" y="770.57" width="4.00" height="4.00" fill="#fff" stroke="#f2211b" stroke-width="1.1"/>
<rect x="616.52" y="773.90" width="4.00" height="4.00" fill="#fff" stroke="#f2211b" stroke-width="1.1"/>
<rect x="619.89" y="777.24" width="4.00" height="4.00" fill="#fff" stroke="#f2211b" stroke-width="1.1"/>
<rect x="618.19" y="787.25" width="4.00" height="4.00" fill="#fff" stroke="#f2211b" stroke-width="1.1"/>
<line x1="616.50" y1="769.71" x2="625.50" y2="769.71" stroke="#f2211b" stroke-width="1.3"/>
<line x1="621.00" y1="775.54" x2="621.00" y2="763.88" stroke="#f2211b" stroke-width="0.9"/>
<line x1="619.00" y1="763.88" x2="623.00" y2="763.88" stroke="#f2211b" stroke-width="0.9"/>
<line x1="619.00" y1="775.54" x2="623.00" y2="775.54" stroke="#f2211b" stroke-width="0.9"/>
<rect x="628.55" y="755.00" width="4.00" height="4.00" fill="#6ea8f2" stroke="#6ea8f2" stroke-width="1.1"/>
<rect x="631.09" y="763.90" width="4.00" height="4.00" fill="#6ea8f2" stroke="#6ea8f2" stroke-width="1.1"/>
<rect x="629.40" y="772.79" width="4.00" height="4.00" fill="#fff" stroke="#6ea8f2" stroke-width="1.1"/>
<rect x="628.58" y="781.69" width="4.00" height="4.00" fill="#fff" stroke="#6ea8f2" stroke-width="1.1"/>
<rect x="629.41" y="786.14" width="4.00" height="4.00" fill="#fff" stroke="#6ea8f2" stroke-width="1.1"/>
<rect x="630.52" y="789.47" width="4.00" height="4.00" fill="#fff" stroke="#6ea8f2" stroke-width="1.1"/>
<rect x="627.29" y="793.92" width="4.00" height="4.00" fill="#fff" stroke="#6ea8f2" stroke-width="1.1"/>
<line x1="627.00" y1="779.56" x2="636.00" y2="779.56" stroke="#6ea8f2" stroke-width="1.3"/>
<line x1="631.50" y1="784.94" x2="631.50" y2="774.17" stroke="#6ea8f2" stroke-width="0.9"/>
<line x1="629.50" y1="774.17" x2="633.50" y2="774.17" stroke="#6ea8f2" stroke-width="0.9"/>
<line x1="629.50" y1="784.94" x2="633.50" y2="784.94" stroke="#6ea8f2" stroke-width="0.9"/>
<text x="602.90" y="713.68" font-size="8.0" font-weight="bold" font-style="italic" text-anchor="middle" fill="#000">&lt;0.0001</text>
<line x1="597.30" y1="719.00" x2="609.50" y2="719.00" stroke="#000" stroke-width="1.4"/>
<text x="626.70" y="726.78" font-size="8.0" font-weight="normal" font-style="italic" text-anchor="middle" fill="#2a2a2a">0.3014</text>
<line x1="621.00" y1="732.10" x2="632.50" y2="732.10" stroke="#000" stroke-width="1.4"/>
</svg></body></html>
